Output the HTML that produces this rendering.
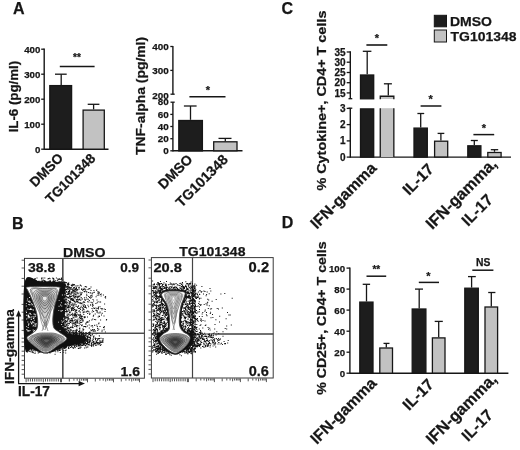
<!DOCTYPE html>
<html><head><meta charset="utf-8"><style>
html,body{margin:0;padding:0;background:#fff;}
svg{display:block;filter:blur(0.35px);}
text{font-family:"Liberation Sans",sans-serif;font-weight:bold;fill:#161616;stroke:#161616;stroke-width:0.25px;}
</style></head><body>
<svg width="520" height="450" viewBox="0 0 520 450">
<rect width="520" height="450" fill="#fff"/>
<text x="13" y="14.4" font-size="16">A</text>
<text x="11.9" y="228.7" font-size="16">B</text>
<text x="281.6" y="14" font-size="16">C</text>
<text x="281.8" y="228.4" font-size="16">D</text>
<line x1="44.2" y1="48.6" x2="44.2" y2="149.8" stroke="#161616" stroke-width="1.4"/>
<line x1="41.2" y1="49.2" x2="44.2" y2="49.2" stroke="#161616" stroke-width="1.3"/>
<text x="40.3" y="52.6" font-size="9.7" text-anchor="end">400</text>
<line x1="41.2" y1="74.2" x2="44.2" y2="74.2" stroke="#161616" stroke-width="1.3"/>
<text x="40.3" y="77.6" font-size="9.7" text-anchor="end">300</text>
<line x1="41.2" y1="99.2" x2="44.2" y2="99.2" stroke="#161616" stroke-width="1.3"/>
<text x="40.3" y="102.6" font-size="9.7" text-anchor="end">200</text>
<line x1="41.2" y1="124.2" x2="44.2" y2="124.2" stroke="#161616" stroke-width="1.3"/>
<text x="40.3" y="127.6" font-size="9.7" text-anchor="end">100</text>
<line x1="41.2" y1="149.2" x2="44.2" y2="149.2" stroke="#161616" stroke-width="1.3"/>
<text x="40.3" y="152.6" font-size="9.7" text-anchor="end">0</text>
<line x1="44.2" y1="149.2" x2="108.5" y2="149.2" stroke="#161616" stroke-width="1.4"/>
<rect x="49.8" y="85.6" width="21.8" height="63.6" fill="#1d1d1d" stroke="#161616" stroke-width="1.3"/>
<line x1="61.2" y1="74.2" x2="61.2" y2="84.9" stroke="#161616" stroke-width="1.3"/>
<line x1="55" y1="74.2" x2="66.7" y2="74.2" stroke="#161616" stroke-width="1.3"/>
<rect x="83.1" y="110.1" width="21.2" height="39.1" fill="#c2c2c2" stroke="#161616" stroke-width="1.3"/>
<line x1="93.6" y1="104.3" x2="93.6" y2="109.4" stroke="#161616" stroke-width="1.3"/>
<line x1="87.7" y1="104.3" x2="99.4" y2="104.3" stroke="#161616" stroke-width="1.3"/>
<line x1="59.8" y1="66.4" x2="94.6" y2="66.4" stroke="#161616" stroke-width="1.5"/>
<text x="77" y="60.8" font-size="10" text-anchor="middle">**</text>
<text x="17.6" y="96.6" font-size="12.8" text-anchor="middle" transform="rotate(-90 17.6 96.6)" textLength="71.5" lengthAdjust="spacingAndGlyphs">IL-6 (pg/ml)</text>
<text x="64.1" y="158.9" font-size="13.6" text-anchor="end" transform="rotate(-45 64.1 158.9)">DMSO</text>
<text x="96.2" y="159.1" font-size="13.5" text-anchor="end" transform="rotate(-45 96.2 159.1)">TG101348</text>
<line x1="172.9" y1="46" x2="172.9" y2="94.2" stroke="#161616" stroke-width="1.4"/>
<line x1="170.5" y1="94.2" x2="174.7" y2="94.2" stroke="#161616" stroke-width="1.3"/>
<line x1="172.9" y1="102.2" x2="172.9" y2="151.4" stroke="#161616" stroke-width="1.4"/>
<line x1="170.5" y1="102.2" x2="174.7" y2="102.2" stroke="#161616" stroke-width="1.3"/>
<line x1="170.3" y1="46.5" x2="172.9" y2="46.5" stroke="#161616" stroke-width="1.3"/>
<text x="168.7" y="50" font-size="9.9" text-anchor="end">400</text>
<line x1="170.3" y1="70.4" x2="172.9" y2="70.4" stroke="#161616" stroke-width="1.3"/>
<text x="168.7" y="73.9" font-size="9.9" text-anchor="end">300</text>
<text x="168.7" y="98.6" font-size="9.9" text-anchor="end">200</text>
<text x="168.7" y="105.4" font-size="9.9" text-anchor="end">80</text>
<line x1="170.3" y1="114.4" x2="172.9" y2="114.4" stroke="#161616" stroke-width="1.3"/>
<text x="168.7" y="117.9" font-size="9.9" text-anchor="end">60</text>
<line x1="170.3" y1="126.5" x2="172.9" y2="126.5" stroke="#161616" stroke-width="1.3"/>
<text x="168.7" y="130" font-size="9.9" text-anchor="end">40</text>
<line x1="170.3" y1="138.7" x2="172.9" y2="138.7" stroke="#161616" stroke-width="1.3"/>
<text x="168.7" y="142.2" font-size="9.9" text-anchor="end">20</text>
<line x1="170.3" y1="150.8" x2="172.9" y2="150.8" stroke="#161616" stroke-width="1.3"/>
<text x="168.7" y="154.3" font-size="9.9" text-anchor="end">0</text>
<line x1="172.9" y1="150.8" x2="242.5" y2="150.8" stroke="#161616" stroke-width="1.4"/>
<rect x="178.8" y="120.5" width="23.6" height="30.4" fill="#1d1d1d" stroke="#161616" stroke-width="1.3"/>
<line x1="190.5" y1="106" x2="190.5" y2="119.8" stroke="#161616" stroke-width="1.3"/>
<line x1="183.9" y1="106" x2="196.6" y2="106" stroke="#161616" stroke-width="1.3"/>
<rect x="213.7" y="141.8" width="23.3" height="9" fill="#c2c2c2" stroke="#161616" stroke-width="1.3"/>
<line x1="225.3" y1="138.4" x2="225.3" y2="141.2" stroke="#161616" stroke-width="1.3"/>
<line x1="218.5" y1="138.4" x2="231.5" y2="138.4" stroke="#161616" stroke-width="1.3"/>
<line x1="189.4" y1="96.7" x2="225.5" y2="96.7" stroke="#161616" stroke-width="1.5"/>
<text x="208" y="93.6" font-size="11" text-anchor="middle">*</text>
<text x="145.1" y="95.9" font-size="12.6" text-anchor="middle" transform="rotate(-90 145.1 95.9)" textLength="118" lengthAdjust="spacingAndGlyphs">TNF-alpha (pg/ml)</text>
<text x="193.5" y="160.3" font-size="14.0" text-anchor="end" transform="rotate(-45 193.5 160.3)">DMSO</text>
<text x="228.8" y="160.5" font-size="14.2" text-anchor="end" transform="rotate(-45 228.8 160.5)">TG101348</text>
<line x1="350.3" y1="51.2" x2="350.3" y2="98.7" stroke="#161616" stroke-width="1.4"/>
<line x1="348.5" y1="98.7" x2="352.3" y2="98.7" stroke="#161616" stroke-width="1.3"/>
<line x1="350.3" y1="108.2" x2="350.3" y2="157.7" stroke="#161616" stroke-width="1.4"/>
<line x1="348.5" y1="108.2" x2="352.3" y2="108.2" stroke="#161616" stroke-width="1.3"/>
<line x1="346.7" y1="52" x2="350.3" y2="52" stroke="#161616" stroke-width="1.3"/>
<text x="345.5" y="55.6" font-size="10" text-anchor="end">35</text>
<line x1="346.7" y1="62.2" x2="350.3" y2="62.2" stroke="#161616" stroke-width="1.3"/>
<text x="345.5" y="65.8" font-size="10" text-anchor="end">30</text>
<line x1="346.7" y1="72.5" x2="350.3" y2="72.5" stroke="#161616" stroke-width="1.3"/>
<text x="345.5" y="76" font-size="10" text-anchor="end">25</text>
<line x1="346.7" y1="82.7" x2="350.3" y2="82.7" stroke="#161616" stroke-width="1.3"/>
<text x="345.5" y="86.2" font-size="10" text-anchor="end">20</text>
<line x1="346.7" y1="92.9" x2="350.3" y2="92.9" stroke="#161616" stroke-width="1.3"/>
<text x="345.5" y="96.5" font-size="10" text-anchor="end">15</text>
<line x1="346.7" y1="108.4" x2="350.3" y2="108.4" stroke="#161616" stroke-width="1.3"/>
<text x="345.5" y="112" font-size="10" text-anchor="end">3</text>
<line x1="346.7" y1="124.6" x2="350.3" y2="124.6" stroke="#161616" stroke-width="1.3"/>
<text x="345.5" y="128.2" font-size="10" text-anchor="end">2</text>
<line x1="346.7" y1="140.9" x2="350.3" y2="140.9" stroke="#161616" stroke-width="1.3"/>
<text x="345.5" y="144.4" font-size="10" text-anchor="end">1</text>
<line x1="346.7" y1="157.1" x2="350.3" y2="157.1" stroke="#161616" stroke-width="1.3"/>
<text x="345.5" y="160.7" font-size="10" text-anchor="end">0</text>
<line x1="350.3" y1="157.1" x2="511" y2="157.1" stroke="#161616" stroke-width="1.4"/>
<rect x="360.5" y="75" width="13.2" height="23.8" fill="#1d1d1d" stroke="#161616" stroke-width="1.3"/>
<rect x="360.5" y="108.9" width="13.2" height="48.2" fill="#1d1d1d" stroke="#161616" stroke-width="1.3"/>
<line x1="367.2" y1="51.3" x2="367.2" y2="74.3" stroke="#161616" stroke-width="1.3"/>
<line x1="362.8" y1="51.3" x2="371.4" y2="51.3" stroke="#161616" stroke-width="1.3"/>
<rect x="380.2" y="96.2" width="13.7" height="2.8" fill="#c2c2c2"/>
<path d="M380.25 99.2V96.25H393.85V99.2" fill="none" stroke="#161616" stroke-width="1.3"/>
<rect x="380.2" y="108.2" width="13.7" height="48.9" fill="#c2c2c2"/>
<path d="M380.25 108.2V157.1M393.85 108.2V157.1" fill="none" stroke="#161616" stroke-width="1.3"/>
<line x1="388.3" y1="83.8" x2="388.3" y2="95.6" stroke="#161616" stroke-width="1.3"/>
<line x1="383.9" y1="83.8" x2="391.9" y2="83.8" stroke="#161616" stroke-width="1.3"/>
<line x1="366.4" y1="45" x2="387.3" y2="45" stroke="#161616" stroke-width="1.6"/>
<text x="376.8" y="42" font-size="11" text-anchor="middle">*</text>
<rect x="414" y="128.1" width="13.3" height="29" fill="#1d1d1d" stroke="#161616" stroke-width="1.3"/>
<line x1="420.7" y1="113.5" x2="420.7" y2="127.4" stroke="#161616" stroke-width="1.3"/>
<line x1="417.4" y1="113.5" x2="424.2" y2="113.5" stroke="#161616" stroke-width="1.3"/>
<rect x="434.6" y="141.2" width="13.1" height="15.8" fill="#c2c2c2" stroke="#161616" stroke-width="1.3"/>
<line x1="440.9" y1="133.4" x2="440.9" y2="140.6" stroke="#161616" stroke-width="1.3"/>
<line x1="437.6" y1="133.4" x2="444.3" y2="133.4" stroke="#161616" stroke-width="1.3"/>
<line x1="420.6" y1="106" x2="441.4" y2="106" stroke="#161616" stroke-width="1.5"/>
<text x="430.6" y="103" font-size="11" text-anchor="middle">*</text>
<rect x="467.8" y="145.8" width="13.1" height="11.3" fill="#1d1d1d" stroke="#161616" stroke-width="1.3"/>
<line x1="474.3" y1="140.5" x2="474.3" y2="145.1" stroke="#161616" stroke-width="1.3"/>
<line x1="470.8" y1="140.5" x2="477.8" y2="140.5" stroke="#161616" stroke-width="1.3"/>
<rect x="487.8" y="152.5" width="13.3" height="4.6" fill="#c2c2c2" stroke="#161616" stroke-width="1.3"/>
<line x1="494.5" y1="149.7" x2="494.5" y2="151.8" stroke="#161616" stroke-width="1.3"/>
<line x1="490.8" y1="149.7" x2="498.2" y2="149.7" stroke="#161616" stroke-width="1.3"/>
<line x1="473.4" y1="134.6" x2="494.2" y2="134.6" stroke="#161616" stroke-width="1.5"/>
<text x="483.8" y="132" font-size="11" text-anchor="middle">*</text>
<text x="325.8" y="100.6" font-size="13" text-anchor="middle" transform="rotate(-90 325.8 100.6)" textLength="180" lengthAdjust="spacingAndGlyphs">% Cytokine+, CD4+ T cells</text>
<text x="377.5" y="169" font-size="15.8" text-anchor="end" transform="rotate(-45 377.5 169)">IFN-gamma</text>
<text x="434.8" y="170.1" font-size="15.7" text-anchor="end" transform="rotate(-45 434.8 170.1)">IL-17</text>
<text x="497.9" y="164.8" font-size="16.2" text-anchor="end" transform="rotate(-45 497.9 164.8)">IFN-gamma,</text>
<text x="494" y="200.9" font-size="15.8" text-anchor="end" transform="rotate(-45 494 200.9)">IL-17</text>
<rect x="434.3" y="15.3" width="12.2" height="11.5" fill="#1d1d1d" stroke="#161616" stroke-width="1"/>
<rect x="434.3" y="30" width="12.2" height="12" fill="#c2c2c2" stroke="#161616" stroke-width="1"/>
<text x="449.9" y="25.9" font-size="13.4" textLength="42" lengthAdjust="spacingAndGlyphs">DMSO</text>
<text x="450.5" y="40.9" font-size="13.6" textLength="66" lengthAdjust="spacingAndGlyphs">TG101348</text>
<line x1="349.9" y1="267.4" x2="349.9" y2="373.8" stroke="#161616" stroke-width="1.4"/>
<line x1="346.5" y1="268.1" x2="349.9" y2="268.1" stroke="#161616" stroke-width="1.3"/>
<text x="345.1" y="271.5" font-size="9.7" text-anchor="end">100</text>
<line x1="346.5" y1="289.1" x2="349.9" y2="289.1" stroke="#161616" stroke-width="1.3"/>
<text x="345.1" y="292.6" font-size="9.7" text-anchor="end">80</text>
<line x1="346.5" y1="310.1" x2="349.9" y2="310.1" stroke="#161616" stroke-width="1.3"/>
<text x="345.1" y="313.6" font-size="9.7" text-anchor="end">60</text>
<line x1="346.5" y1="331.2" x2="349.9" y2="331.2" stroke="#161616" stroke-width="1.3"/>
<text x="345.1" y="334.6" font-size="9.7" text-anchor="end">40</text>
<line x1="346.5" y1="352.2" x2="349.9" y2="352.2" stroke="#161616" stroke-width="1.3"/>
<text x="345.1" y="355.6" font-size="9.7" text-anchor="end">20</text>
<line x1="346.5" y1="373.2" x2="349.9" y2="373.2" stroke="#161616" stroke-width="1.3"/>
<text x="345.1" y="376.6" font-size="9.7" text-anchor="end">0</text>
<line x1="349.9" y1="373.2" x2="508.4" y2="373.2" stroke="#161616" stroke-width="1.4"/>
<rect x="359.8" y="302.1" width="13.2" height="71" fill="#1d1d1d" stroke="#161616" stroke-width="1.3"/>
<line x1="366.5" y1="284.3" x2="366.5" y2="301.5" stroke="#161616" stroke-width="1.3"/>
<line x1="362.7" y1="284.3" x2="370.1" y2="284.3" stroke="#161616" stroke-width="1.3"/>
<rect x="379.8" y="348" width="12.7" height="25.2" fill="#c2c2c2" stroke="#161616" stroke-width="1.3"/>
<line x1="386.3" y1="343.4" x2="386.3" y2="347.4" stroke="#161616" stroke-width="1.3"/>
<line x1="383.5" y1="343.4" x2="389.5" y2="343.4" stroke="#161616" stroke-width="1.3"/>
<line x1="366.5" y1="276.2" x2="386.2" y2="276.2" stroke="#161616" stroke-width="1.5"/>
<text x="376.3" y="273" font-size="10" text-anchor="middle">**</text>
<rect x="412.2" y="309" width="13.7" height="64.2" fill="#1d1d1d" stroke="#161616" stroke-width="1.3"/>
<line x1="419.2" y1="289.1" x2="419.2" y2="308.4" stroke="#161616" stroke-width="1.3"/>
<line x1="415" y1="289.1" x2="423" y2="289.1" stroke="#161616" stroke-width="1.3"/>
<rect x="432.4" y="337.9" width="12.6" height="35.2" fill="#c2c2c2" stroke="#161616" stroke-width="1.3"/>
<line x1="438.7" y1="321.4" x2="438.7" y2="337.3" stroke="#161616" stroke-width="1.3"/>
<line x1="434.7" y1="321.4" x2="442.8" y2="321.4" stroke="#161616" stroke-width="1.3"/>
<line x1="418.8" y1="282.4" x2="439" y2="282.4" stroke="#161616" stroke-width="1.5"/>
<text x="428.3" y="280.3" font-size="11" text-anchor="middle">*</text>
<rect x="464.8" y="288.2" width="13.5" height="84.9" fill="#1d1d1d" stroke="#161616" stroke-width="1.3"/>
<line x1="471.6" y1="276.6" x2="471.6" y2="287.6" stroke="#161616" stroke-width="1.3"/>
<line x1="468" y1="276.6" x2="475.8" y2="276.6" stroke="#161616" stroke-width="1.3"/>
<rect x="485" y="307" width="12.6" height="66.2" fill="#c2c2c2" stroke="#161616" stroke-width="1.3"/>
<line x1="491.3" y1="292.5" x2="491.3" y2="306.4" stroke="#161616" stroke-width="1.3"/>
<line x1="488.2" y1="292.5" x2="495.4" y2="292.5" stroke="#161616" stroke-width="1.3"/>
<line x1="472.3" y1="270.2" x2="493.4" y2="270.2" stroke="#161616" stroke-width="1.5"/>
<text x="483.2" y="266.4" font-size="10.3" text-anchor="middle">NS</text>
<text x="326.4" y="318.1" font-size="13" text-anchor="middle" transform="rotate(-90 326.4 318.1)" textLength="153.5" lengthAdjust="spacingAndGlyphs">% CD25+, CD4+ T cells</text>
<text x="377.5" y="384.2" font-size="15.8" text-anchor="end" transform="rotate(-45 377.5 384.2)">IFN-gamma</text>
<text x="434.8" y="385.3" font-size="15.7" text-anchor="end" transform="rotate(-45 434.8 385.3)">IL-17</text>
<text x="497.9" y="380" font-size="16.2" text-anchor="end" transform="rotate(-45 497.9 380)">IFN-gamma,</text>
<text x="494" y="416.1" font-size="15.8" text-anchor="end" transform="rotate(-45 494 416.1)">IL-17</text>
<rect x="24.5" y="258.4" width="119.9" height="119.8" fill="none" stroke="#3a3a3a" stroke-width="1"/>
<path d="M26.1 378.7v3.6M28.2 378.7v2.8M30.4 378.7v2.8M32.5 378.7v2.8M34.7 378.7v2.8M36.9 378.7v2.8M39 378.7v2.8M41.1 378.7v2.8M43.3 378.7v3.6M45.5 378.7v2.8M47.6 378.7v2.8M49.8 378.7v2.8M51.9 378.7v2.8M54 378.7v2.8M56.2 378.7v2.8M58.4 378.7v2.8M60.5 378.7v3.6M61.5 378.7v3.6M69.3 378.7v2.8M73.9 378.7v2M77.2 378.7v2M79.7 378.7v2.8M81.7 378.7v2M83.5 378.7v2M85 378.7v2M86.3 378.7v2M87.5 378.7v3.6M95.3 378.7v2.8M99.9 378.7v2M103.2 378.7v2M105.7 378.7v2.8M107.7 378.7v2M109.5 378.7v2M111 378.7v2M112.3 378.7v2M113.5 378.7v3.6M121.3 378.7v2.8M125.9 378.7v2M129.2 378.7v2M131.7 378.7v2.8M133.7 378.7v2M135.5 378.7v2M137 378.7v2M138.3 378.7v2M139.5 378.7v3.6" stroke="#2a2a2a" stroke-width="0.8" fill="none"/>
<path d="M24 374.2h-2.4M24 369.6h-2.4M24 365h-2.4M24 360.4h-2.4M24 355.8h-2.4M24 351.2h-2.4M24 346.6h-2.4M24 342h-2.4M24 338.2h-2.4M24 330.4h-2.4M24 320h-2.4M24 312.2h-2.4M24 304.4h-2.4M24 294h-2.4M24 286.2h-2.4M24 278.4h-2.4M24 268h-2.4M24 260.2h-2.4" stroke="#2a2a2a" stroke-width="0.8" fill="none"/>
<line x1="62.8" y1="258.4" x2="62.8" y2="378.2" stroke="#444" stroke-width="1.1"/>
<line x1="24.5" y1="333.3" x2="144.4" y2="333.3" stroke="#444" stroke-width="1.1"/>
<path d="M24.8 282C27.3 271.1 35 281.6 40 281.6C45 281.6 51.1 281.8 55 282C58.9 282.2 61.8 281.7 63.5 283C65.2 284.3 65.2 285.5 65.5 290C65.8 294.5 65 303.2 65 310C65 316.8 63.8 326.9 65.5 331C67.2 335.1 71.9 333.7 75 334.5C78.1 335.3 82.2 335.1 84 336C85.8 336.9 86.3 338.6 86 339.8C85.7 341.1 84.7 342.6 82 343.5C79.3 344.4 73.7 344.6 70 345.5C66.3 346.4 64 347.7 60 349C56 350.3 50.7 353.5 46 353.5C41.3 353.5 35.5 350.1 32 349C28.5 347.9 26 358.2 24.8 347C23.6 335.8 22.3 292.9 24.8 282Z" fill="#111"/>
<path d="M66.5 324.3h1.0v1.0h-1.0zM94.7 313.5h1.0v1.0h-1.0zM62.8 308.6h1.0v1.0h-1.0zM71.5 292.5h1.0v1.0h-1.0zM72.5 330.0h1.0v1.0h-1.0zM70.9 310.3h1.0v1.0h-1.0zM71.5 320.0h1.0v1.0h-1.0zM78.4 295.6h1.0v1.0h-1.0zM66.5 311.6h1.0v1.0h-1.0zM92.2 302.6h1.0v1.0h-1.0zM63.9 332.9h1.0v1.0h-1.0zM91.8 295.4h1.0v1.0h-1.0zM76.0 330.4h1.0v1.0h-1.0zM62.8 294.1h1.0v1.0h-1.0zM65.0 288.9h1.0v1.0h-1.0zM96.6 311.7h1.0v1.0h-1.0zM97.0 332.9h1.0v1.0h-1.0zM84.0 325.9h1.0v1.0h-1.0zM91.2 296.7h1.0v1.0h-1.0zM70.5 304.2h1.0v1.0h-1.0zM63.6 327.9h1.0v1.0h-1.0zM73.9 286.9h1.0v1.0h-1.0zM101.6 329.7h1.0v1.0h-1.0zM63.4 324.3h1.0v1.0h-1.0zM87.2 312.9h1.0v1.0h-1.0zM75.5 305.5h1.0v1.0h-1.0zM85.8 296.8h1.0v1.0h-1.0zM92.9 330.8h1.0v1.0h-1.0zM73.4 317.5h1.0v1.0h-1.0zM79.8 313.7h1.0v1.0h-1.0zM88.5 287.9h1.0v1.0h-1.0zM98.3 293.5h1.0v1.0h-1.0zM62.9 290.3h1.0v1.0h-1.0zM96.3 289.6h1.0v1.0h-1.0zM87.7 310.8h1.0v1.0h-1.0zM65.1 332.3h1.0v1.0h-1.0zM62.7 318.3h1.0v1.0h-1.0zM82.3 289.9h1.0v1.0h-1.0zM63.1 313.5h1.0v1.0h-1.0zM74.8 301.5h1.0v1.0h-1.0zM71.8 300.0h1.0v1.0h-1.0zM64.3 331.1h1.0v1.0h-1.0zM64.1 287.8h1.0v1.0h-1.0zM65.7 329.7h1.0v1.0h-1.0zM85.9 333.5h1.0v1.0h-1.0zM84.8 290.4h1.0v1.0h-1.0zM98.7 292.4h1.0v1.0h-1.0zM64.0 282.4h1.0v1.0h-1.0zM83.3 313.9h1.0v1.0h-1.0zM80.7 305.8h1.0v1.0h-1.0zM66.9 328.0h1.0v1.0h-1.0zM66.2 310.6h1.0v1.0h-1.0zM65.8 290.9h1.0v1.0h-1.0zM66.1 296.0h1.0v1.0h-1.0zM96.7 294.8h1.0v1.0h-1.0zM67.9 318.7h1.0v1.0h-1.0zM72.2 302.8h1.0v1.0h-1.0zM91.2 329.9h1.0v1.0h-1.0zM67.4 289.3h1.0v1.0h-1.0zM73.2 289.4h1.0v1.0h-1.0zM70.6 321.4h1.0v1.0h-1.0zM86.1 291.4h1.0v1.0h-1.0zM62.5 305.5h1.0v1.0h-1.0zM69.9 287.8h1.0v1.0h-1.0zM62.1 325.0h1.0v1.0h-1.0zM82.8 330.3h1.0v1.0h-1.0zM77.6 296.4h1.0v1.0h-1.0zM80.0 317.5h1.0v1.0h-1.0zM103.5 315.6h1.0v1.0h-1.0zM80.9 318.8h1.0v1.0h-1.0zM90.2 304.7h1.0v1.0h-1.0zM81.6 316.3h1.0v1.0h-1.0zM72.0 320.0h1.0v1.0h-1.0zM78.6 325.3h1.0v1.0h-1.0zM73.3 287.8h1.0v1.0h-1.0zM78.6 302.1h1.0v1.0h-1.0zM62.9 297.5h1.0v1.0h-1.0zM93.4 290.1h1.0v1.0h-1.0zM78.5 331.0h1.0v1.0h-1.0zM68.8 329.6h1.0v1.0h-1.0zM76.4 329.2h1.0v1.0h-1.0zM90.7 325.5h1.0v1.0h-1.0zM75.2 310.8h1.0v1.0h-1.0zM69.2 332.7h1.0v1.0h-1.0zM65.5 286.0h1.0v1.0h-1.0zM87.1 301.2h1.0v1.0h-1.0zM77.3 301.1h1.0v1.0h-1.0zM90.3 329.6h1.0v1.0h-1.0zM77.0 297.2h1.0v1.0h-1.0zM79.8 311.8h1.0v1.0h-1.0zM63.6 329.3h1.0v1.0h-1.0zM72.1 314.4h1.0v1.0h-1.0zM65.9 291.5h1.0v1.0h-1.0zM64.3 312.6h1.0v1.0h-1.0zM74.5 324.0h1.0v1.0h-1.0zM76.3 321.3h1.0v1.0h-1.0zM76.0 309.7h1.0v1.0h-1.0zM88.0 332.3h1.0v1.0h-1.0zM71.0 287.5h1.0v1.0h-1.0zM75.1 323.7h1.0v1.0h-1.0zM70.6 293.3h1.0v1.0h-1.0zM65.1 302.0h1.0v1.0h-1.0zM72.8 333.4h1.0v1.0h-1.0zM69.1 301.0h1.0v1.0h-1.0zM72.8 298.5h1.0v1.0h-1.0zM89.5 288.2h1.0v1.0h-1.0zM72.7 305.2h1.0v1.0h-1.0zM65.6 317.7h1.0v1.0h-1.0zM69.7 331.5h1.0v1.0h-1.0zM63.0 297.0h1.0v1.0h-1.0zM66.2 328.4h1.0v1.0h-1.0zM100.5 308.1h1.0v1.0h-1.0zM81.7 292.3h1.0v1.0h-1.0zM69.5 312.3h1.0v1.0h-1.0zM68.8 318.6h1.0v1.0h-1.0zM73.3 295.4h1.0v1.0h-1.0zM73.7 314.4h1.0v1.0h-1.0zM83.4 301.0h1.0v1.0h-1.0zM76.0 287.9h1.0v1.0h-1.0zM74.0 284.2h1.0v1.0h-1.0zM63.2 300.9h1.0v1.0h-1.0zM65.1 301.6h1.0v1.0h-1.0zM78.3 293.2h1.0v1.0h-1.0zM75.1 316.4h1.0v1.0h-1.0zM82.5 302.3h1.0v1.0h-1.0zM73.4 317.1h1.0v1.0h-1.0zM62.0 309.5h1.0v1.0h-1.0zM79.3 328.6h1.0v1.0h-1.0zM68.3 282.5h1.0v1.0h-1.0zM67.1 318.5h1.0v1.0h-1.0zM64.7 293.2h1.0v1.0h-1.0zM74.6 319.1h1.0v1.0h-1.0zM68.0 297.5h1.0v1.0h-1.0zM69.3 288.8h1.0v1.0h-1.0zM68.0 297.1h1.0v1.0h-1.0zM80.3 293.5h1.0v1.0h-1.0zM65.2 329.0h1.0v1.0h-1.0zM65.9 289.2h1.0v1.0h-1.0zM67.9 283.2h1.0v1.0h-1.0zM62.6 308.5h1.0v1.0h-1.0zM82.1 318.5h1.0v1.0h-1.0zM73.4 300.8h1.0v1.0h-1.0zM78.7 320.5h1.0v1.0h-1.0zM70.9 284.9h1.0v1.0h-1.0zM79.5 303.1h1.0v1.0h-1.0zM88.9 332.3h1.0v1.0h-1.0zM69.4 314.5h1.0v1.0h-1.0zM87.2 310.8h1.0v1.0h-1.0zM65.2 327.7h1.0v1.0h-1.0zM74.5 324.2h1.0v1.0h-1.0zM88.8 327.5h1.0v1.0h-1.0zM76.0 315.0h1.0v1.0h-1.0zM92.9 329.5h1.0v1.0h-1.0zM95.4 303.1h1.0v1.0h-1.0zM85.3 286.2h1.0v1.0h-1.0zM79.3 318.4h1.0v1.0h-1.0zM65.2 302.5h1.0v1.0h-1.0zM74.6 302.6h1.0v1.0h-1.0zM66.4 299.4h1.0v1.0h-1.0zM65.3 304.9h1.0v1.0h-1.0zM72.5 299.7h1.0v1.0h-1.0zM81.7 320.5h1.0v1.0h-1.0zM98.5 322.5h1.0v1.0h-1.0zM67.6 323.2h1.0v1.0h-1.0zM68.5 283.9h1.0v1.0h-1.0zM76.7 322.5h1.0v1.0h-1.0zM69.7 333.3h1.0v1.0h-1.0zM63.4 285.2h1.0v1.0h-1.0zM64.3 302.3h1.0v1.0h-1.0zM77.0 320.4h1.0v1.0h-1.0zM64.5 325.8h1.0v1.0h-1.0zM73.1 284.6h1.0v1.0h-1.0zM77.7 306.1h1.0v1.0h-1.0zM99.5 306.3h1.0v1.0h-1.0zM82.3 333.1h1.0v1.0h-1.0zM64.7 284.2h1.0v1.0h-1.0zM75.5 323.6h1.0v1.0h-1.0zM64.8 321.8h1.0v1.0h-1.0zM99.6 311.5h1.0v1.0h-1.0zM95.3 309.7h1.0v1.0h-1.0zM68.2 327.9h1.0v1.0h-1.0zM63.6 303.2h1.0v1.0h-1.0zM67.3 320.6h1.0v1.0h-1.0zM65.2 325.2h1.0v1.0h-1.0zM84.8 306.3h1.0v1.0h-1.0zM63.0 309.1h1.0v1.0h-1.0zM76.7 293.2h1.0v1.0h-1.0zM100.8 293.6h1.0v1.0h-1.0zM73.7 304.4h1.0v1.0h-1.0zM67.1 310.7h1.0v1.0h-1.0zM65.1 316.3h1.0v1.0h-1.0zM71.2 308.5h1.0v1.0h-1.0zM82.9 306.2h1.0v1.0h-1.0zM104.9 331.4h1.0v1.0h-1.0zM62.0 282.8h1.0v1.0h-1.0zM78.8 298.4h1.0v1.0h-1.0zM70.8 287.4h1.0v1.0h-1.0zM73.9 315.6h1.0v1.0h-1.0zM71.2 292.0h1.0v1.0h-1.0zM101.5 309.2h1.0v1.0h-1.0zM62.7 306.9h1.0v1.0h-1.0zM65.3 330.2h1.0v1.0h-1.0zM84.7 299.8h1.0v1.0h-1.0zM75.7 331.6h1.0v1.0h-1.0zM71.2 298.5h1.0v1.0h-1.0zM77.3 289.2h1.0v1.0h-1.0zM66.1 291.5h1.0v1.0h-1.0zM100.1 301.4h1.0v1.0h-1.0zM85.3 289.2h1.0v1.0h-1.0zM70.5 319.5h1.0v1.0h-1.0zM62.1 306.8h1.0v1.0h-1.0zM66.5 306.9h1.0v1.0h-1.0zM65.2 316.4h1.0v1.0h-1.0zM63.1 288.0h1.0v1.0h-1.0zM88.1 306.3h1.0v1.0h-1.0zM65.5 281.9h1.0v1.0h-1.0zM82.7 301.8h1.0v1.0h-1.0zM85.7 332.7h1.0v1.0h-1.0zM65.6 294.1h1.0v1.0h-1.0zM64.3 318.8h1.0v1.0h-1.0zM64.7 305.5h1.0v1.0h-1.0zM65.6 300.9h1.0v1.0h-1.0zM62.8 302.3h1.0v1.0h-1.0zM75.0 313.4h1.0v1.0h-1.0zM79.6 321.5h1.0v1.0h-1.0zM79.9 309.1h1.0v1.0h-1.0zM80.7 315.8h1.0v1.0h-1.0zM74.5 289.0h1.0v1.0h-1.0zM78.9 328.2h1.0v1.0h-1.0zM73.3 299.4h1.0v1.0h-1.0zM65.1 326.1h1.0v1.0h-1.0zM63.0 318.0h1.0v1.0h-1.0zM78.1 305.2h1.0v1.0h-1.0zM74.4 295.4h1.0v1.0h-1.0zM62.8 296.4h1.0v1.0h-1.0zM63.1 295.9h1.0v1.0h-1.0zM62.7 287.3h1.0v1.0h-1.0zM91.6 311.6h1.0v1.0h-1.0zM62.9 291.3h1.0v1.0h-1.0zM67.1 314.7h1.0v1.0h-1.0zM69.0 290.3h1.0v1.0h-1.0zM81.1 325.1h1.0v1.0h-1.0zM71.3 292.3h1.0v1.0h-1.0zM97.9 306.6h1.0v1.0h-1.0zM80.6 297.5h1.0v1.0h-1.0zM91.6 330.2h1.0v1.0h-1.0zM90.3 292.4h1.0v1.0h-1.0zM63.7 289.6h1.0v1.0h-1.0zM100.1 319.5h1.0v1.0h-1.0zM63.9 285.3h1.0v1.0h-1.0zM71.6 285.3h1.0v1.0h-1.0zM88.8 300.0h1.0v1.0h-1.0zM71.7 297.8h1.0v1.0h-1.0zM89.1 331.6h1.0v1.0h-1.0zM97.3 329.9h1.0v1.0h-1.0zM69.2 301.6h1.0v1.0h-1.0zM68.6 322.7h1.0v1.0h-1.0zM80.3 317.9h1.0v1.0h-1.0zM62.1 297.4h1.0v1.0h-1.0zM95.7 333.2h1.0v1.0h-1.0zM63.5 288.1h1.0v1.0h-1.0zM62.5 305.7h1.0v1.0h-1.0zM64.9 286.4h1.0v1.0h-1.0zM69.5 287.4h1.0v1.0h-1.0zM86.1 286.4h1.0v1.0h-1.0zM72.4 315.0h1.0v1.0h-1.0zM67.9 284.4h1.0v1.0h-1.0zM80.2 299.7h1.0v1.0h-1.0zM74.6 296.7h1.0v1.0h-1.0zM80.9 285.6h1.0v1.0h-1.0zM93.9 329.0h1.0v1.0h-1.0zM74.7 321.5h1.0v1.0h-1.0zM72.1 295.3h1.0v1.0h-1.0zM75.9 319.8h1.0v1.0h-1.0zM71.6 285.7h1.0v1.0h-1.0zM101.6 312.8h1.0v1.0h-1.0zM63.7 302.6h1.0v1.0h-1.0zM66.9 284.2h1.0v1.0h-1.0zM62.1 309.7h1.0v1.0h-1.0zM82.7 308.2h1.0v1.0h-1.0zM67.3 286.7h1.0v1.0h-1.0zM88.6 311.6h1.0v1.0h-1.0zM78.3 310.7h1.0v1.0h-1.0zM64.3 300.7h1.0v1.0h-1.0zM63.6 283.5h1.0v1.0h-1.0zM77.8 299.6h1.0v1.0h-1.0zM81.1 288.9h1.0v1.0h-1.0zM62.8 321.9h1.0v1.0h-1.0zM98.2 323.3h1.0v1.0h-1.0zM91.8 324.9h1.0v1.0h-1.0zM74.3 320.0h1.0v1.0h-1.0zM90.3 295.3h1.0v1.0h-1.0zM80.9 294.1h1.0v1.0h-1.0zM76.8 295.7h1.0v1.0h-1.0zM63.5 305.9h1.0v1.0h-1.0zM103.0 327.1h1.0v1.0h-1.0zM80.8 332.1h1.0v1.0h-1.0zM75.7 316.6h1.0v1.0h-1.0zM73.4 292.7h1.0v1.0h-1.0zM78.2 314.8h1.0v1.0h-1.0zM103.8 325.9h1.0v1.0h-1.0zM65.1 319.9h1.0v1.0h-1.0zM80.4 314.8h1.0v1.0h-1.0zM96.0 309.7h1.0v1.0h-1.0zM62.2 301.3h1.0v1.0h-1.0zM73.3 291.4h1.0v1.0h-1.0zM63.0 327.6h1.0v1.0h-1.0zM62.6 297.2h1.0v1.0h-1.0zM65.3 298.6h1.0v1.0h-1.0zM64.8 286.3h1.0v1.0h-1.0zM75.0 291.2h1.0v1.0h-1.0zM66.5 311.6h1.0v1.0h-1.0zM67.0 332.1h1.0v1.0h-1.0zM97.9 308.5h1.0v1.0h-1.0zM63.4 318.2h1.0v1.0h-1.0zM82.7 308.4h1.0v1.0h-1.0zM76.4 328.8h1.0v1.0h-1.0zM62.1 333.0h1.0v1.0h-1.0zM73.7 291.4h1.0v1.0h-1.0zM63.4 306.6h1.0v1.0h-1.0zM80.4 332.3h1.0v1.0h-1.0zM64.5 318.3h1.0v1.0h-1.0zM65.3 295.5h1.0v1.0h-1.0zM92.8 315.8h1.0v1.0h-1.0zM62.2 310.0h1.0v1.0h-1.0zM73.2 290.1h1.0v1.0h-1.0zM76.1 310.0h1.0v1.0h-1.0zM96.7 302.3h1.0v1.0h-1.0zM66.2 324.0h1.0v1.0h-1.0zM68.8 286.5h1.0v1.0h-1.0zM68.9 296.0h1.0v1.0h-1.0zM64.8 321.8h1.0v1.0h-1.0zM90.5 301.8h1.0v1.0h-1.0zM66.0 302.8h1.0v1.0h-1.0zM91.6 293.5h1.0v1.0h-1.0zM72.3 290.5h1.0v1.0h-1.0zM76.5 321.5h1.0v1.0h-1.0zM74.9 315.2h1.0v1.0h-1.0zM69.1 321.3h1.0v1.0h-1.0zM98.0 291.6h1.0v1.0h-1.0zM89.6 292.2h1.0v1.0h-1.0zM66.3 291.8h1.0v1.0h-1.0zM72.2 289.8h1.0v1.0h-1.0zM93.1 300.5h1.0v1.0h-1.0zM62.9 312.1h1.0v1.0h-1.0zM66.5 316.8h1.0v1.0h-1.0zM70.3 307.6h1.0v1.0h-1.0zM70.3 328.8h1.0v1.0h-1.0zM70.2 298.9h1.0v1.0h-1.0zM86.4 295.1h1.0v1.0h-1.0zM73.6 303.5h1.0v1.0h-1.0zM83.8 317.3h1.0v1.0h-1.0zM102.9 294.4h1.0v1.0h-1.0zM63.0 288.3h1.0v1.0h-1.0zM64.7 296.6h1.0v1.0h-1.0zM67.5 330.8h1.0v1.0h-1.0zM75.7 311.9h1.0v1.0h-1.0zM87.5 288.9h1.0v1.0h-1.0zM66.2 309.4h1.0v1.0h-1.0zM75.2 322.0h1.0v1.0h-1.0zM74.4 322.7h1.0v1.0h-1.0zM68.4 307.4h1.0v1.0h-1.0zM74.7 301.6h1.0v1.0h-1.0zM67.3 306.6h1.0v1.0h-1.0zM67.9 291.4h1.0v1.0h-1.0zM85.8 332.3h1.0v1.0h-1.0zM70.9 307.2h1.0v1.0h-1.0zM76.5 316.3h1.0v1.0h-1.0zM79.6 311.5h1.0v1.0h-1.0zM74.7 285.6h1.0v1.0h-1.0zM76.3 329.3h1.0v1.0h-1.0zM69.8 300.6h1.0v1.0h-1.0zM78.7 299.3h1.0v1.0h-1.0zM82.7 312.2h1.0v1.0h-1.0zM62.4 321.2h1.0v1.0h-1.0zM73.8 313.6h1.0v1.0h-1.0zM77.5 332.6h1.0v1.0h-1.0zM70.9 296.0h1.0v1.0h-1.0zM76.3 285.4h1.0v1.0h-1.0zM88.2 321.4h1.0v1.0h-1.0zM66.7 319.8h1.0v1.0h-1.0zM69.0 306.5h1.0v1.0h-1.0zM81.5 325.3h1.0v1.0h-1.0zM83.6 309.2h1.0v1.0h-1.0zM92.1 305.7h1.0v1.0h-1.0zM64.1 295.5h1.0v1.0h-1.0zM79.2 315.7h1.0v1.0h-1.0zM64.8 292.6h1.0v1.0h-1.0zM82.6 289.0h1.0v1.0h-1.0zM101.7 307.9h1.0v1.0h-1.0zM71.0 332.3h1.0v1.0h-1.0zM87.4 304.8h1.0v1.0h-1.0zM75.3 289.4h1.0v1.0h-1.0zM64.1 315.2h1.0v1.0h-1.0zM74.6 332.3h1.0v1.0h-1.0zM99.4 312.6h1.0v1.0h-1.0zM93.1 314.7h1.0v1.0h-1.0zM80.2 320.0h1.0v1.0h-1.0zM93.5 291.9h1.0v1.0h-1.0zM72.3 321.0h1.0v1.0h-1.0zM63.8 288.0h1.0v1.0h-1.0zM100.1 294.0h1.0v1.0h-1.0zM63.4 312.7h1.0v1.0h-1.0zM83.9 291.1h1.0v1.0h-1.0zM65.2 294.7h1.0v1.0h-1.0zM76.9 325.1h1.0v1.0h-1.0zM62.7 304.3h1.0v1.0h-1.0zM63.4 312.9h1.0v1.0h-1.0zM88.1 296.0h1.0v1.0h-1.0zM69.8 306.1h1.0v1.0h-1.0zM75.3 314.1h1.0v1.0h-1.0zM78.9 317.0h1.0v1.0h-1.0zM66.6 322.5h1.0v1.0h-1.0zM70.5 287.0h1.0v1.0h-1.0zM64.4 321.5h1.0v1.0h-1.0zM67.2 330.7h1.0v1.0h-1.0zM65.8 302.7h1.0v1.0h-1.0zM65.5 286.7h1.0v1.0h-1.0zM77.6 318.4h1.0v1.0h-1.0zM76.5 314.2h1.0v1.0h-1.0zM71.3 289.0h1.0v1.0h-1.0zM92.2 292.4h1.0v1.0h-1.0zM66.2 282.2h1.0v1.0h-1.0zM62.3 300.5h1.0v1.0h-1.0zM62.9 304.1h1.0v1.0h-1.0zM62.1 290.7h1.0v1.0h-1.0zM66.6 313.5h1.0v1.0h-1.0zM98.3 294.7h1.0v1.0h-1.0zM70.7 293.5h1.0v1.0h-1.0zM78.1 287.3h1.0v1.0h-1.0zM96.3 324.6h1.0v1.0h-1.0zM88.7 324.4h1.0v1.0h-1.0zM65.1 283.6h1.0v1.0h-1.0zM91.3 319.6h1.0v1.0h-1.0zM66.5 296.6h1.0v1.0h-1.0zM78.7 288.5h1.0v1.0h-1.0zM68.9 303.5h1.0v1.0h-1.0zM68.3 294.0h1.0v1.0h-1.0zM64.9 322.2h1.0v1.0h-1.0zM67.9 313.8h1.0v1.0h-1.0zM72.5 320.3h1.0v1.0h-1.0zM72.6 289.8h1.0v1.0h-1.0zM85.6 311.6h1.0v1.0h-1.0zM82.5 319.6h1.0v1.0h-1.0zM64.0 292.3h1.0v1.0h-1.0zM103.7 327.2h1.0v1.0h-1.0zM63.4 297.9h1.0v1.0h-1.0zM62.3 298.6h1.0v1.0h-1.0zM70.7 326.5h1.0v1.0h-1.0zM84.0 291.3h1.0v1.0h-1.0zM93.8 291.7h1.0v1.0h-1.0zM99.0 316.1h1.0v1.0h-1.0zM62.1 333.2h1.0v1.0h-1.0zM100.6 295.4h1.0v1.0h-1.0zM83.4 311.4h1.0v1.0h-1.0zM97.3 291.2h1.0v1.0h-1.0zM66.5 301.8h1.0v1.0h-1.0zM67.3 329.5h1.0v1.0h-1.0zM83.5 287.8h1.0v1.0h-1.0zM76.8 321.5h1.0v1.0h-1.0zM67.1 296.8h1.0v1.0h-1.0zM92.6 305.0h1.0v1.0h-1.0zM72.4 313.8h1.0v1.0h-1.0zM67.1 283.2h1.0v1.0h-1.0zM66.5 297.4h1.0v1.0h-1.0zM85.4 323.8h1.0v1.0h-1.0zM79.7 323.7h1.0v1.0h-1.0zM66.4 285.6h1.0v1.0h-1.0zM62.9 308.1h1.0v1.0h-1.0zM67.8 285.8h1.0v1.0h-1.0zM85.8 291.2h1.0v1.0h-1.0zM97.1 327.7h1.0v1.0h-1.0zM62.6 296.9h1.0v1.0h-1.0zM94.5 330.0h1.0v1.0h-1.0zM70.0 329.8h1.0v1.0h-1.0zM84.2 302.1h1.0v1.0h-1.0zM63.7 328.8h1.0v1.0h-1.0zM91.6 302.2h1.0v1.0h-1.0zM63.8 288.1h1.0v1.0h-1.0zM65.5 305.3h1.0v1.0h-1.0zM96.0 289.8h1.0v1.0h-1.0zM75.6 332.3h1.0v1.0h-1.0zM88.6 288.3h1.0v1.0h-1.0zM74.5 311.6h1.0v1.0h-1.0zM92.9 307.4h1.0v1.0h-1.0zM89.3 333.5h1.0v1.0h-1.0zM97.7 316.4h1.0v1.0h-1.0zM70.4 295.7h1.0v1.0h-1.0zM84.6 317.1h1.0v1.0h-1.0zM85.4 333.4h1.0v1.0h-1.0zM74.6 314.5h1.0v1.0h-1.0zM84.1 311.4h1.0v1.0h-1.0zM65.3 308.8h1.0v1.0h-1.0zM72.6 331.8h1.0v1.0h-1.0zM72.5 327.2h1.0v1.0h-1.0zM89.4 313.1h1.0v1.0h-1.0zM67.7 304.7h1.0v1.0h-1.0zM97.4 307.9h1.0v1.0h-1.0zM73.8 322.5h1.0v1.0h-1.0zM71.9 292.3h1.0v1.0h-1.0zM63.9 312.3h1.0v1.0h-1.0zM62.9 285.0h1.0v1.0h-1.0zM90.2 331.8h1.0v1.0h-1.0zM78.5 296.3h1.0v1.0h-1.0zM97.2 328.2h1.0v1.0h-1.0zM65.6 308.2h1.0v1.0h-1.0zM75.5 303.9h1.0v1.0h-1.0zM65.8 299.5h1.0v1.0h-1.0zM76.6 319.5h1.0v1.0h-1.0zM98.6 315.6h1.0v1.0h-1.0zM70.9 309.6h1.0v1.0h-1.0zM68.1 330.1h1.0v1.0h-1.0zM82.1 309.8h1.0v1.0h-1.0zM76.6 300.4h1.0v1.0h-1.0zM64.0 291.0h1.0v1.0h-1.0zM92.5 298.9h1.0v1.0h-1.0zM79.1 307.9h1.0v1.0h-1.0zM82.6 330.2h1.0v1.0h-1.0zM90.7 295.1h1.0v1.0h-1.0zM76.4 289.6h1.0v1.0h-1.0zM70.4 320.4h1.0v1.0h-1.0zM63.8 315.9h1.0v1.0h-1.0zM80.7 296.9h1.0v1.0h-1.0zM68.7 296.6h1.0v1.0h-1.0zM88.3 301.6h1.0v1.0h-1.0zM80.3 302.1h1.0v1.0h-1.0zM68.6 332.3h1.0v1.0h-1.0zM73.6 304.2h1.0v1.0h-1.0zM96.5 299.6h1.0v1.0h-1.0zM64.0 325.3h1.0v1.0h-1.0zM63.9 283.8h1.0v1.0h-1.0zM70.8 295.6h1.0v1.0h-1.0zM104.1 303.4h1.0v1.0h-1.0zM75.3 323.5h1.0v1.0h-1.0zM72.4 316.6h1.0v1.0h-1.0zM74.2 322.6h1.0v1.0h-1.0zM84.3 307.1h1.0v1.0h-1.0zM69.7 288.9h1.0v1.0h-1.0zM90.5 286.4h1.0v1.0h-1.0zM70.8 284.5h1.0v1.0h-1.0zM104.9 309.1h1.0v1.0h-1.0zM79.8 314.4h1.0v1.0h-1.0zM63.4 317.2h1.0v1.0h-1.0zM72.5 290.8h1.0v1.0h-1.0zM64.3 333.1h1.0v1.0h-1.0zM90.1 304.2h1.0v1.0h-1.0zM64.3 289.2h1.0v1.0h-1.0zM70.4 302.5h1.0v1.0h-1.0zM67.3 288.7h1.0v1.0h-1.0zM75.6 294.6h1.0v1.0h-1.0zM97.9 307.5h1.0v1.0h-1.0zM79.1 333.2h1.0v1.0h-1.0zM82.8 308.8h1.0v1.0h-1.0zM77.0 297.4h1.0v1.0h-1.0zM79.6 291.8h1.0v1.0h-1.0zM62.9 295.1h1.0v1.0h-1.0zM63.0 291.0h1.0v1.0h-1.0zM89.2 314.1h1.0v1.0h-1.0zM63.0 288.0h1.0v1.0h-1.0zM68.8 290.5h1.0v1.0h-1.0zM70.2 314.7h1.0v1.0h-1.0zM71.6 322.8h1.0v1.0h-1.0zM70.9 318.0h1.0v1.0h-1.0zM75.3 330.1h1.0v1.0h-1.0zM70.9 314.1h1.0v1.0h-1.0zM79.8 284.6h1.0v1.0h-1.0zM85.0 305.3h1.0v1.0h-1.0zM73.9 289.4h1.0v1.0h-1.0zM83.9 304.3h1.0v1.0h-1.0zM64.2 295.1h1.0v1.0h-1.0zM75.7 306.0h1.0v1.0h-1.0zM67.4 286.2h1.0v1.0h-1.0zM75.1 296.1h1.0v1.0h-1.0zM79.7 307.5h1.0v1.0h-1.0zM67.8 305.8h1.0v1.0h-1.0zM68.0 300.3h1.0v1.0h-1.0zM71.4 291.2h1.0v1.0h-1.0zM105.1 296.0h1.0v1.0h-1.0zM73.0 287.2h1.0v1.0h-1.0zM63.2 285.7h1.0v1.0h-1.0zM68.5 287.5h1.0v1.0h-1.0zM65.9 304.7h1.0v1.0h-1.0zM85.5 333.7h1.0v1.0h-1.0zM65.6 331.7h1.0v1.0h-1.0zM62.1 316.2h1.0v1.0h-1.0zM97.4 292.7h1.0v1.0h-1.0zM68.0 283.7h1.0v1.0h-1.0zM86.2 293.8h1.0v1.0h-1.0zM77.1 322.4h1.0v1.0h-1.0zM66.3 328.8h1.0v1.0h-1.0zM70.7 318.2h1.0v1.0h-1.0zM92.3 303.9h1.0v1.0h-1.0zM63.3 316.4h1.0v1.0h-1.0zM72.9 310.1h1.0v1.0h-1.0zM65.1 306.5h1.0v1.0h-1.0zM96.7 310.2h1.0v1.0h-1.0zM103.7 308.6h1.0v1.0h-1.0zM95.6 296.3h1.0v1.0h-1.0zM97.7 312.5h1.0v1.0h-1.0zM62.8 309.1h1.0v1.0h-1.0zM70.0 327.1h1.0v1.0h-1.0zM64.6 281.8h1.0v1.0h-1.0zM98.7 291.8h1.0v1.0h-1.0zM106.1 318.9h1.0v1.0h-1.0zM69.8 311.6h1.0v1.0h-1.0zM65.6 321.3h1.0v1.0h-1.0zM67.6 306.9h1.0v1.0h-1.0zM65.9 311.4h1.0v1.0h-1.0zM89.0 297.1h1.0v1.0h-1.0zM63.1 287.4h1.0v1.0h-1.0zM64.3 305.1h1.0v1.0h-1.0zM72.4 298.7h1.0v1.0h-1.0zM78.1 296.0h1.0v1.0h-1.0zM66.9 301.8h1.0v1.0h-1.0zM65.2 324.5h1.0v1.0h-1.0zM74.3 326.0h1.0v1.0h-1.0zM74.5 309.4h1.0v1.0h-1.0zM62.8 285.3h1.0v1.0h-1.0zM74.8 289.5h1.0v1.0h-1.0zM77.9 307.9h1.0v1.0h-1.0zM82.2 328.6h1.0v1.0h-1.0zM66.5 316.4h1.0v1.0h-1.0zM70.9 329.8h1.0v1.0h-1.0zM62.8 283.7h1.0v1.0h-1.0zM71.6 327.1h1.0v1.0h-1.0zM66.1 324.7h1.0v1.0h-1.0zM76.5 299.1h1.0v1.0h-1.0zM66.3 326.5h1.0v1.0h-1.0zM67.3 316.9h1.0v1.0h-1.0zM86.3 322.0h1.0v1.0h-1.0zM77.5 299.3h1.0v1.0h-1.0zM66.5 314.8h1.0v1.0h-1.0zM73.1 291.6h1.0v1.0h-1.0zM67.1 326.4h1.0v1.0h-1.0zM72.6 322.3h1.0v1.0h-1.0zM85.4 322.7h1.0v1.0h-1.0zM86.4 298.7h1.0v1.0h-1.0zM74.7 325.4h1.0v1.0h-1.0zM76.6 312.5h1.0v1.0h-1.0zM64.4 309.1h1.0v1.0h-1.0zM63.9 329.9h1.0v1.0h-1.0zM72.9 332.9h1.0v1.0h-1.0zM74.6 313.0h1.0v1.0h-1.0zM85.0 325.9h1.0v1.0h-1.0zM75.8 287.0h1.0v1.0h-1.0zM64.1 316.5h1.0v1.0h-1.0zM82.6 311.6h1.0v1.0h-1.0zM99.5 326.1h1.0v1.0h-1.0zM76.1 326.0h1.0v1.0h-1.0zM62.5 285.6h1.0v1.0h-1.0zM81.8 309.7h1.0v1.0h-1.0zM64.9 289.7h1.0v1.0h-1.0zM87.0 316.6h1.0v1.0h-1.0zM81.8 315.8h1.0v1.0h-1.0zM69.2 290.9h1.0v1.0h-1.0zM69.8 296.0h1.0v1.0h-1.0zM78.7 295.6h1.0v1.0h-1.0zM80.3 294.6h1.0v1.0h-1.0zM77.1 307.1h1.0v1.0h-1.0zM77.5 296.8h1.0v1.0h-1.0zM62.8 299.3h1.0v1.0h-1.0zM79.3 330.3h1.0v1.0h-1.0zM70.9 309.8h1.0v1.0h-1.0zM101.5 331.2h1.0v1.0h-1.0zM72.2 288.5h1.0v1.0h-1.0zM70.5 293.7h1.0v1.0h-1.0zM72.6 284.7h1.0v1.0h-1.0zM78.9 286.8h1.0v1.0h-1.0zM64.2 320.4h1.0v1.0h-1.0zM73.6 330.3h1.0v1.0h-1.0zM67.2 316.6h1.0v1.0h-1.0zM75.9 296.5h1.0v1.0h-1.0zM74.5 297.7h1.0v1.0h-1.0zM63.3 324.1h1.0v1.0h-1.0zM74.0 308.9h1.0v1.0h-1.0zM73.8 314.1h1.0v1.0h-1.0zM62.4 313.6h1.0v1.0h-1.0zM72.3 314.4h1.0v1.0h-1.0zM85.0 299.5h1.0v1.0h-1.0zM68.4 313.4h1.0v1.0h-1.0zM78.1 299.4h1.0v1.0h-1.0zM75.7 289.3h1.0v1.0h-1.0zM66.1 286.7h1.0v1.0h-1.0zM63.1 314.7h1.0v1.0h-1.0zM71.5 299.8h1.0v1.0h-1.0zM86.8 310.5h1.0v1.0h-1.0zM74.4 293.5h1.0v1.0h-1.0zM68.2 306.3h1.0v1.0h-1.0zM67.8 288.7h1.0v1.0h-1.0zM75.7 332.4h1.0v1.0h-1.0zM67.2 327.0h1.0v1.0h-1.0zM65.6 316.4h1.0v1.0h-1.0zM69.4 289.6h1.0v1.0h-1.0zM79.4 295.6h1.0v1.0h-1.0zM63.3 288.5h1.0v1.0h-1.0zM80.2 317.9h1.0v1.0h-1.0zM65.1 330.1h1.0v1.0h-1.0zM85.1 307.0h1.0v1.0h-1.0zM67.9 291.1h1.0v1.0h-1.0zM79.4 331.5h1.0v1.0h-1.0zM72.3 307.5h1.0v1.0h-1.0zM69.3 311.6h1.0v1.0h-1.0zM82.4 307.8h1.0v1.0h-1.0zM63.8 306.1h1.0v1.0h-1.0zM65.8 298.9h1.0v1.0h-1.0zM70.7 304.7h1.0v1.0h-1.0zM69.0 312.0h1.0v1.0h-1.0zM68.3 308.9h1.0v1.0h-1.0zM83.3 305.9h1.0v1.0h-1.0zM74.7 287.9h1.0v1.0h-1.0zM77.5 285.2h1.0v1.0h-1.0zM73.7 306.8h1.0v1.0h-1.0zM101.0 314.6h1.0v1.0h-1.0zM73.8 293.5h1.0v1.0h-1.0zM73.1 294.6h1.0v1.0h-1.0zM72.4 324.9h1.0v1.0h-1.0zM76.5 326.5h1.0v1.0h-1.0zM68.6 310.1h1.0v1.0h-1.0zM64.8 306.3h1.0v1.0h-1.0zM68.3 318.2h1.0v1.0h-1.0zM82.4 304.5h1.0v1.0h-1.0zM72.2 283.8h1.0v1.0h-1.0zM71.8 318.2h1.0v1.0h-1.0zM72.6 307.7h1.0v1.0h-1.0zM82.9 308.6h1.0v1.0h-1.0zM79.0 299.0h1.0v1.0h-1.0zM75.7 299.3h1.0v1.0h-1.0zM68.1 307.3h1.0v1.0h-1.0zM63.1 324.9h1.0v1.0h-1.0zM67.0 294.0h1.0v1.0h-1.0zM62.8 324.5h1.0v1.0h-1.0zM70.6 291.7h1.0v1.0h-1.0zM70.4 326.6h1.0v1.0h-1.0zM68.3 327.2h1.0v1.0h-1.0zM86.0 307.6h1.0v1.0h-1.0zM63.0 312.3h1.0v1.0h-1.0zM65.5 316.7h1.0v1.0h-1.0zM92.3 318.5h1.0v1.0h-1.0zM81.3 303.0h1.0v1.0h-1.0zM66.0 330.9h1.0v1.0h-1.0zM96.6 310.8h1.0v1.0h-1.0zM68.0 282.5h1.0v1.0h-1.0zM65.1 306.7h1.0v1.0h-1.0zM83.2 328.9h1.0v1.0h-1.0zM80.9 292.6h1.0v1.0h-1.0zM69.5 320.1h1.0v1.0h-1.0zM80.2 322.1h1.0v1.0h-1.0zM68.3 322.8h1.0v1.0h-1.0zM64.5 309.2h1.0v1.0h-1.0zM94.1 319.0h1.0v1.0h-1.0zM62.3 295.3h1.0v1.0h-1.0zM72.4 319.9h1.0v1.0h-1.0zM73.3 307.7h1.0v1.0h-1.0zM64.5 299.9h1.0v1.0h-1.0zM64.4 296.5h1.0v1.0h-1.0zM94.2 324.9h1.0v1.0h-1.0zM71.7 309.7h1.0v1.0h-1.0zM71.3 298.0h1.0v1.0h-1.0zM62.2 294.9h1.0v1.0h-1.0zM70.9 298.0h1.0v1.0h-1.0zM99.4 301.6h1.0v1.0h-1.0zM78.8 330.9h1.0v1.0h-1.0zM81.3 321.9h1.0v1.0h-1.0zM69.1 302.8h1.0v1.0h-1.0zM73.3 322.9h1.0v1.0h-1.0zM85.3 326.1h1.0v1.0h-1.0zM64.5 309.1h1.0v1.0h-1.0zM63.9 285.1h1.0v1.0h-1.0zM64.5 295.4h1.0v1.0h-1.0zM74.2 333.1h1.0v1.0h-1.0zM64.4 311.2h1.0v1.0h-1.0zM67.6 292.6h1.0v1.0h-1.0zM64.6 321.9h1.0v1.0h-1.0zM66.7 303.8h1.0v1.0h-1.0zM64.8 306.2h1.0v1.0h-1.0zM98.3 328.7h1.0v1.0h-1.0zM105.1 297.5h1.0v1.0h-1.0zM63.9 293.3h1.0v1.0h-1.0zM69.8 297.2h1.0v1.0h-1.0zM69.1 294.8h1.0v1.0h-1.0zM81.6 324.3h1.0v1.0h-1.0zM62.7 296.3h1.0v1.0h-1.0zM67.4 305.2h1.0v1.0h-1.0zM64.7 301.9h1.0v1.0h-1.0zM92.1 329.0h1.0v1.0h-1.0zM71.6 304.3h1.0v1.0h-1.0zM74.2 290.8h1.0v1.0h-1.0zM83.3 305.9h1.0v1.0h-1.0zM65.7 298.8h1.0v1.0h-1.0zM72.1 307.1h1.0v1.0h-1.0zM79.1 314.6h1.0v1.0h-1.0zM64.5 307.7h1.0v1.0h-1.0zM86.7 320.9h1.0v1.0h-1.0zM69.0 286.8h1.0v1.0h-1.0zM75.3 315.2h1.0v1.0h-1.0zM64.2 289.4h1.0v1.0h-1.0zM83.1 326.2h1.0v1.0h-1.0zM94.5 330.9h1.0v1.0h-1.0zM74.9 321.5h1.0v1.0h-1.0zM62.7 295.5h1.0v1.0h-1.0zM64.8 284.8h1.0v1.0h-1.0zM80.6 303.3h1.0v1.0h-1.0zM70.3 301.9h1.0v1.0h-1.0zM71.3 299.3h1.0v1.0h-1.0zM78.5 325.2h1.0v1.0h-1.0zM73.4 284.0h1.0v1.0h-1.0zM72.5 326.9h1.0v1.0h-1.0zM64.6 323.6h1.0v1.0h-1.0zM81.6 318.0h1.0v1.0h-1.0zM62.6 318.6h1.0v1.0h-1.0zM81.4 333.2h1.0v1.0h-1.0zM94.2 324.8h1.0v1.0h-1.0zM79.9 307.2h1.0v1.0h-1.0zM80.4 316.0h1.0v1.0h-1.0zM96.2 307.8h1.0v1.0h-1.0zM68.4 293.0h1.0v1.0h-1.0zM89.0 332.0h1.0v1.0h-1.0zM71.7 308.7h1.0v1.0h-1.0zM62.3 307.3h1.0v1.0h-1.0zM94.6 307.5h1.0v1.0h-1.0zM86.3 291.3h1.0v1.0h-1.0zM65.2 320.3h1.0v1.0h-1.0zM80.9 316.1h1.0v1.0h-1.0zM76.4 290.0h1.0v1.0h-1.0zM83.3 304.8h1.0v1.0h-1.0zM62.0 286.5h1.0v1.0h-1.0zM79.3 333.9h1.0v1.0h-1.0zM77.4 306.1h1.0v1.0h-1.0zM64.2 325.9h1.0v1.0h-1.0zM80.1 293.6h1.0v1.0h-1.0zM89.8 296.5h1.0v1.0h-1.0zM85.3 326.5h1.0v1.0h-1.0zM72.7 299.6h1.0v1.0h-1.0zM66.5 323.8h1.0v1.0h-1.0zM66.0 288.7h1.0v1.0h-1.0zM67.4 293.5h1.0v1.0h-1.0zM68.8 304.7h1.0v1.0h-1.0zM70.5 298.1h1.0v1.0h-1.0zM79.8 285.0h1.0v1.0h-1.0zM63.7 295.3h1.0v1.0h-1.0zM63.5 282.0h1.0v1.0h-1.0zM72.9 284.3h1.0v1.0h-1.0zM67.3 287.8h1.0v1.0h-1.0zM80.8 317.3h1.0v1.0h-1.0zM64.8 284.7h1.0v1.0h-1.0zM72.1 299.9h1.0v1.0h-1.0zM77.4 322.6h1.0v1.0h-1.0zM69.6 296.1h1.0v1.0h-1.0zM63.8 284.7h1.0v1.0h-1.0zM68.9 292.7h1.0v1.0h-1.0zM62.3 286.5h1.0v1.0h-1.0zM87.8 298.8h1.0v1.0h-1.0zM75.4 329.8h1.0v1.0h-1.0zM73.6 300.6h1.0v1.0h-1.0zM68.6 296.5h1.0v1.0h-1.0zM92.1 309.7h1.0v1.0h-1.0zM78.8 322.8h1.0v1.0h-1.0zM73.2 296.6h1.0v1.0h-1.0zM66.3 321.1h1.0v1.0h-1.0zM94.0 308.1h1.0v1.0h-1.0zM64.2 299.8h1.0v1.0h-1.0zM62.7 327.7h1.0v1.0h-1.0zM64.0 307.0h1.0v1.0h-1.0zM66.4 301.7h1.0v1.0h-1.0zM68.5 333.7h1.0v1.0h-1.0zM92.2 326.6h1.0v1.0h-1.0zM75.1 288.8h1.0v1.0h-1.0zM71.9 318.7h1.0v1.0h-1.0zM84.7 286.1h1.0v1.0h-1.0zM83.4 288.9h1.0v1.0h-1.0zM75.1 309.4h1.0v1.0h-1.0zM66.7 307.6h1.0v1.0h-1.0zM64.6 304.4h1.0v1.0h-1.0zM62.7 330.3h1.0v1.0h-1.0zM74.2 297.0h1.0v1.0h-1.0zM67.5 329.5h1.0v1.0h-1.0zM64.4 299.0h1.0v1.0h-1.0zM90.5 289.9h1.0v1.0h-1.0zM63.5 296.4h1.0v1.0h-1.0zM66.2 332.4h1.0v1.0h-1.0zM65.0 284.9h1.0v1.0h-1.0zM84.4 288.4h1.0v1.0h-1.0zM82.0 298.5h1.0v1.0h-1.0zM67.8 291.5h1.0v1.0h-1.0zM62.3 329.2h1.0v1.0h-1.0zM69.1 290.0h1.0v1.0h-1.0zM69.3 287.2h1.0v1.0h-1.0zM81.6 307.0h1.0v1.0h-1.0zM67.6 325.0h1.0v1.0h-1.0zM79.0 330.3h1.0v1.0h-1.0zM73.0 308.5h1.0v1.0h-1.0zM88.9 320.3h1.0v1.0h-1.0zM72.3 331.9h1.0v1.0h-1.0zM75.3 289.3h1.0v1.0h-1.0zM74.2 290.9h1.0v1.0h-1.0zM64.2 282.3h1.0v1.0h-1.0zM76.8 289.0h1.0v1.0h-1.0zM80.5 299.3h1.0v1.0h-1.0zM72.1 326.2h1.0v1.0h-1.0zM73.3 300.1h1.0v1.0h-1.0zM77.3 292.2h1.0v1.0h-1.0zM72.6 305.8h1.0v1.0h-1.0zM88.3 333.9h1.0v1.0h-1.0zM67.1 287.9h1.0v1.0h-1.0zM90.2 297.8h1.0v1.0h-1.0zM105.9 319.6h1.0v1.0h-1.0zM62.6 285.1h1.0v1.0h-1.0zM73.6 332.9h1.0v1.0h-1.0zM75.4 292.5h1.0v1.0h-1.0zM63.3 312.5h1.0v1.0h-1.0zM63.1 287.0h1.0v1.0h-1.0zM76.6 334.0h1.0v1.0h-1.0zM101.8 312.7h1.0v1.0h-1.0zM68.2 283.9h1.0v1.0h-1.0zM63.6 285.0h1.0v1.0h-1.0zM92.0 304.2h1.0v1.0h-1.0zM76.3 309.5h1.0v1.0h-1.0zM79.4 295.5h1.0v1.0h-1.0zM63.8 304.4h1.0v1.0h-1.0zM104.6 296.8h1.0v1.0h-1.0zM103.6 329.2h1.0v1.0h-1.0zM71.8 312.8h1.0v1.0h-1.0zM67.6 317.7h1.0v1.0h-1.0zM62.5 307.6h1.0v1.0h-1.0zM63.8 332.6h1.0v1.0h-1.0zM91.5 308.1h1.0v1.0h-1.0zM64.8 328.8h1.0v1.0h-1.0zM81.3 288.2h1.0v1.0h-1.0zM69.0 291.2h1.0v1.0h-1.0zM63.4 309.1h1.0v1.0h-1.0zM62.8 329.6h1.0v1.0h-1.0zM65.0 316.6h1.0v1.0h-1.0zM62.0 293.3h1.0v1.0h-1.0zM96.8 325.9h1.0v1.0h-1.0zM70.0 322.1h1.0v1.0h-1.0zM69.2 302.4h1.0v1.0h-1.0zM75.3 321.2h1.0v1.0h-1.0zM63.7 297.4h1.0v1.0h-1.0zM86.9 325.4h1.0v1.0h-1.0zM68.9 291.6h1.0v1.0h-1.0zM76.3 291.5h1.0v1.0h-1.0zM71.0 298.1h1.0v1.0h-1.0zM68.3 310.6h1.0v1.0h-1.0zM67.6 302.6h1.0v1.0h-1.0zM82.8 332.1h1.0v1.0h-1.0zM82.7 328.5h1.0v1.0h-1.0zM63.3 300.1h1.0v1.0h-1.0zM83.9 297.3h1.0v1.0h-1.0zM69.0 327.8h1.0v1.0h-1.0zM76.3 301.5h1.0v1.0h-1.0zM71.6 308.0h1.0v1.0h-1.0zM86.2 311.3h1.0v1.0h-1.0zM67.6 287.1h1.0v1.0h-1.0zM93.1 311.1h1.0v1.0h-1.0zM72.4 327.1h1.0v1.0h-1.0zM66.2 296.2h1.0v1.0h-1.0zM63.1 296.8h1.0v1.0h-1.0zM63.0 290.2h1.0v1.0h-1.0zM71.1 308.1h1.0v1.0h-1.0zM67.8 316.8h1.0v1.0h-1.0zM62.2 298.9h1.0v1.0h-1.0zM97.6 301.3h1.0v1.0h-1.0zM63.3 302.6h1.0v1.0h-1.0zM69.2 297.7h1.0v1.0h-1.0zM86.5 298.4h1.0v1.0h-1.0zM62.1 324.0h1.0v1.0h-1.0zM72.3 323.8h1.0v1.0h-1.0zM72.5 304.4h1.0v1.0h-1.0zM67.1 285.9h1.0v1.0h-1.0zM74.1 301.1h1.0v1.0h-1.0zM83.6 291.1h1.0v1.0h-1.0zM70.0 300.8h1.0v1.0h-1.0zM63.7 302.6h1.0v1.0h-1.0zM65.2 311.1h1.0v1.0h-1.0zM65.3 317.5h1.0v1.0h-1.0zM82.7 320.5h1.0v1.0h-1.0zM70.7 332.2h1.0v1.0h-1.0zM75.6 310.6h1.0v1.0h-1.0zM84.6 316.3h1.0v1.0h-1.0zM69.0 323.2h1.0v1.0h-1.0zM63.7 301.7h1.0v1.0h-1.0zM65.8 306.0h1.0v1.0h-1.0zM69.9 293.6h1.0v1.0h-1.0zM68.2 307.1h1.0v1.0h-1.0zM84.2 298.7h1.0v1.0h-1.0zM69.0 292.8h1.0v1.0h-1.0zM87.9 292.0h1.0v1.0h-1.0zM95.2 319.3h1.0v1.0h-1.0zM68.4 315.5h1.0v1.0h-1.0zM75.3 293.9h1.0v1.0h-1.0zM68.9 332.0h1.0v1.0h-1.0zM63.9 302.0h1.0v1.0h-1.0zM83.6 316.3h1.0v1.0h-1.0zM72.7 331.4h1.0v1.0h-1.0zM73.9 315.6h1.0v1.0h-1.0zM72.8 299.6h1.0v1.0h-1.0zM77.5 302.3h1.0v1.0h-1.0zM75.9 300.5h1.0v1.0h-1.0zM79.3 327.4h1.0v1.0h-1.0zM78.9 310.3h1.0v1.0h-1.0zM87.0 321.7h1.0v1.0h-1.0zM76.1 325.0h1.0v1.0h-1.0zM63.9 307.8h1.0v1.0h-1.0zM76.6 330.1h1.0v1.0h-1.0zM81.4 330.7h1.0v1.0h-1.0zM104.5 311.0h1.0v1.0h-1.0zM62.7 311.2h1.0v1.0h-1.0zM63.0 327.5h1.0v1.0h-1.0zM71.9 284.8h1.0v1.0h-1.0zM62.1 294.4h1.0v1.0h-1.0zM77.8 314.2h1.0v1.0h-1.0z" fill="#111"/>
<path d="M91.0 343.1h1.0v1.0h-1.0zM64.8 338.6h1.0v1.0h-1.0zM67.6 340.1h1.0v1.0h-1.0zM86.7 338.7h1.0v1.0h-1.0zM66.2 342.6h1.0v1.0h-1.0zM69.3 344.8h1.0v1.0h-1.0zM65.9 339.2h1.0v1.0h-1.0zM78.2 340.8h1.0v1.0h-1.0zM98.8 335.3h1.0v1.0h-1.0zM79.1 342.8h1.0v1.0h-1.0zM81.7 342.7h1.0v1.0h-1.0zM61.8 335.5h1.0v1.0h-1.0zM70.4 339.3h1.0v1.0h-1.0zM76.7 339.5h1.0v1.0h-1.0zM83.7 340.7h1.0v1.0h-1.0zM88.4 343.9h1.0v1.0h-1.0zM83.9 342.2h1.0v1.0h-1.0zM75.1 342.6h1.0v1.0h-1.0zM74.5 347.3h1.0v1.0h-1.0zM71.3 336.2h1.0v1.0h-1.0zM81.2 342.6h1.0v1.0h-1.0zM93.4 341.1h1.0v1.0h-1.0zM75.5 331.8h1.0v1.0h-1.0zM72.8 337.8h1.0v1.0h-1.0zM79.1 338.5h1.0v1.0h-1.0zM73.9 345.2h1.0v1.0h-1.0zM79.0 347.6h1.0v1.0h-1.0zM62.5 340.8h1.0v1.0h-1.0zM69.8 336.7h1.0v1.0h-1.0zM101.2 341.9h1.0v1.0h-1.0zM102.2 341.8h1.0v1.0h-1.0zM75.7 332.3h1.0v1.0h-1.0zM71.8 331.3h1.0v1.0h-1.0zM81.0 338.9h1.0v1.0h-1.0zM64.8 340.5h1.0v1.0h-1.0zM93.7 342.4h1.0v1.0h-1.0zM75.7 333.5h1.0v1.0h-1.0zM90.7 343.6h1.0v1.0h-1.0zM61.5 346.0h1.0v1.0h-1.0zM69.6 338.2h1.0v1.0h-1.0zM61.7 341.7h1.0v1.0h-1.0zM85.1 342.1h1.0v1.0h-1.0zM68.2 333.9h1.0v1.0h-1.0zM98.1 343.4h1.0v1.0h-1.0zM63.0 339.9h1.0v1.0h-1.0zM66.4 340.2h1.0v1.0h-1.0zM62.6 346.7h1.0v1.0h-1.0zM88.6 337.0h1.0v1.0h-1.0zM87.1 340.8h1.0v1.0h-1.0zM69.1 344.3h1.0v1.0h-1.0zM66.1 336.0h1.0v1.0h-1.0zM83.0 343.4h1.0v1.0h-1.0zM73.9 345.4h1.0v1.0h-1.0zM65.9 338.1h1.0v1.0h-1.0zM78.9 337.2h1.0v1.0h-1.0zM81.8 338.9h1.0v1.0h-1.0zM71.2 346.6h1.0v1.0h-1.0zM65.6 345.6h1.0v1.0h-1.0zM62.9 336.8h1.0v1.0h-1.0zM65.5 332.2h1.0v1.0h-1.0zM60.2 339.1h1.0v1.0h-1.0zM81.1 333.9h1.0v1.0h-1.0zM87.2 341.9h1.0v1.0h-1.0zM75.1 334.5h1.0v1.0h-1.0zM70.8 344.5h1.0v1.0h-1.0zM79.5 340.0h1.0v1.0h-1.0zM65.9 346.1h1.0v1.0h-1.0zM60.2 334.2h1.0v1.0h-1.0zM65.6 341.9h1.0v1.0h-1.0zM80.9 341.6h1.0v1.0h-1.0zM68.8 336.7h1.0v1.0h-1.0zM87.7 341.9h1.0v1.0h-1.0zM83.9 337.5h1.0v1.0h-1.0zM86.4 339.9h1.0v1.0h-1.0zM75.5 340.9h1.0v1.0h-1.0zM81.2 341.7h1.0v1.0h-1.0zM77.7 345.4h1.0v1.0h-1.0zM95.9 342.1h1.0v1.0h-1.0zM79.3 343.6h1.0v1.0h-1.0zM86.8 340.2h1.0v1.0h-1.0zM95.0 344.8h1.0v1.0h-1.0zM67.9 347.7h1.0v1.0h-1.0zM84.5 337.5h1.0v1.0h-1.0zM65.3 337.0h1.0v1.0h-1.0zM76.7 335.0h1.0v1.0h-1.0zM88.9 341.8h1.0v1.0h-1.0zM80.5 340.7h1.0v1.0h-1.0zM94.8 338.1h1.0v1.0h-1.0zM60.6 340.9h1.0v1.0h-1.0zM61.1 346.2h1.0v1.0h-1.0zM61.7 333.1h1.0v1.0h-1.0zM91.0 345.1h1.0v1.0h-1.0zM85.2 337.8h1.0v1.0h-1.0zM77.5 344.3h1.0v1.0h-1.0zM84.5 336.4h1.0v1.0h-1.0zM65.9 343.3h1.0v1.0h-1.0zM82.5 344.9h1.0v1.0h-1.0zM102.8 339.5h1.0v1.0h-1.0zM97.1 339.7h1.0v1.0h-1.0zM75.5 335.0h1.0v1.0h-1.0zM81.5 342.1h1.0v1.0h-1.0zM75.1 333.8h1.0v1.0h-1.0zM63.0 346.0h1.0v1.0h-1.0zM98.2 341.9h1.0v1.0h-1.0zM67.3 339.1h1.0v1.0h-1.0zM83.2 335.9h1.0v1.0h-1.0zM62.6 334.8h1.0v1.0h-1.0zM89.9 340.6h1.0v1.0h-1.0zM80.5 332.3h1.0v1.0h-1.0zM84.1 342.7h1.0v1.0h-1.0zM71.1 337.5h1.0v1.0h-1.0zM64.4 343.1h1.0v1.0h-1.0zM64.0 338.0h1.0v1.0h-1.0zM81.7 340.4h1.0v1.0h-1.0zM68.9 337.8h1.0v1.0h-1.0zM79.7 342.3h1.0v1.0h-1.0zM70.0 341.7h1.0v1.0h-1.0zM64.3 338.8h1.0v1.0h-1.0zM76.0 344.5h1.0v1.0h-1.0zM67.8 336.5h1.0v1.0h-1.0zM69.1 344.6h1.0v1.0h-1.0zM69.4 338.6h1.0v1.0h-1.0zM64.4 342.1h1.0v1.0h-1.0zM66.6 337.3h1.0v1.0h-1.0zM87.6 344.5h1.0v1.0h-1.0zM75.2 340.0h1.0v1.0h-1.0zM81.0 337.1h1.0v1.0h-1.0zM69.4 335.7h1.0v1.0h-1.0zM82.3 338.7h1.0v1.0h-1.0zM82.8 342.2h1.0v1.0h-1.0zM82.0 340.9h1.0v1.0h-1.0zM73.2 332.9h1.0v1.0h-1.0zM77.6 340.1h1.0v1.0h-1.0zM78.3 337.7h1.0v1.0h-1.0zM89.8 333.4h1.0v1.0h-1.0zM84.9 342.9h1.0v1.0h-1.0zM87.6 342.2h1.0v1.0h-1.0zM68.8 344.0h1.0v1.0h-1.0zM80.6 344.3h1.0v1.0h-1.0zM62.1 341.6h1.0v1.0h-1.0zM82.9 342.6h1.0v1.0h-1.0zM91.2 346.0h1.0v1.0h-1.0zM63.2 335.5h1.0v1.0h-1.0zM68.2 341.9h1.0v1.0h-1.0zM62.1 342.0h1.0v1.0h-1.0zM98.9 342.5h1.0v1.0h-1.0zM99.4 343.1h1.0v1.0h-1.0zM61.8 344.6h1.0v1.0h-1.0zM68.5 339.0h1.0v1.0h-1.0zM78.8 342.5h1.0v1.0h-1.0zM67.0 339.2h1.0v1.0h-1.0zM75.8 343.4h1.0v1.0h-1.0zM72.2 337.5h1.0v1.0h-1.0zM89.7 337.0h1.0v1.0h-1.0zM60.1 341.9h1.0v1.0h-1.0zM76.2 344.1h1.0v1.0h-1.0zM83.9 338.9h1.0v1.0h-1.0zM86.9 336.0h1.0v1.0h-1.0zM79.1 335.2h1.0v1.0h-1.0zM72.1 334.8h1.0v1.0h-1.0zM100.5 337.8h1.0v1.0h-1.0zM82.6 344.4h1.0v1.0h-1.0zM91.8 340.1h1.0v1.0h-1.0zM65.1 340.6h1.0v1.0h-1.0zM90.0 337.5h1.0v1.0h-1.0zM60.4 333.8h1.0v1.0h-1.0zM65.9 337.3h1.0v1.0h-1.0zM68.3 341.6h1.0v1.0h-1.0zM68.1 333.9h1.0v1.0h-1.0zM71.4 340.5h1.0v1.0h-1.0zM73.6 338.7h1.0v1.0h-1.0zM69.7 344.9h1.0v1.0h-1.0zM72.9 333.8h1.0v1.0h-1.0zM79.4 345.6h1.0v1.0h-1.0zM72.7 342.2h1.0v1.0h-1.0zM73.7 345.1h1.0v1.0h-1.0zM71.1 346.0h1.0v1.0h-1.0zM84.4 337.5h1.0v1.0h-1.0zM64.7 345.4h1.0v1.0h-1.0zM76.7 336.7h1.0v1.0h-1.0zM68.5 337.9h1.0v1.0h-1.0zM91.9 333.5h1.0v1.0h-1.0zM95.4 340.6h1.0v1.0h-1.0zM62.3 342.4h1.0v1.0h-1.0zM86.0 343.1h1.0v1.0h-1.0zM67.3 344.7h1.0v1.0h-1.0zM79.4 339.8h1.0v1.0h-1.0zM71.0 340.5h1.0v1.0h-1.0zM81.4 337.2h1.0v1.0h-1.0zM62.0 332.4h1.0v1.0h-1.0zM67.7 342.2h1.0v1.0h-1.0zM77.8 336.8h1.0v1.0h-1.0zM65.4 338.7h1.0v1.0h-1.0zM63.9 341.5h1.0v1.0h-1.0zM82.8 343.6h1.0v1.0h-1.0zM74.5 331.8h1.0v1.0h-1.0zM82.9 344.3h1.0v1.0h-1.0zM61.6 340.0h1.0v1.0h-1.0zM73.6 340.1h1.0v1.0h-1.0zM75.5 345.3h1.0v1.0h-1.0zM87.4 346.5h1.0v1.0h-1.0zM61.3 344.8h1.0v1.0h-1.0zM82.5 333.2h1.0v1.0h-1.0zM79.7 337.6h1.0v1.0h-1.0zM72.8 339.2h1.0v1.0h-1.0zM95.0 337.7h1.0v1.0h-1.0zM84.2 336.1h1.0v1.0h-1.0zM65.4 341.1h1.0v1.0h-1.0zM67.6 334.2h1.0v1.0h-1.0zM71.3 344.3h1.0v1.0h-1.0zM77.8 347.7h1.0v1.0h-1.0zM72.0 339.2h1.0v1.0h-1.0zM82.9 341.3h1.0v1.0h-1.0zM96.4 338.1h1.0v1.0h-1.0zM82.1 340.2h1.0v1.0h-1.0zM69.0 345.5h1.0v1.0h-1.0zM85.5 334.8h1.0v1.0h-1.0zM81.1 334.8h1.0v1.0h-1.0zM95.0 339.0h1.0v1.0h-1.0zM66.3 338.5h1.0v1.0h-1.0zM80.4 336.7h1.0v1.0h-1.0zM79.4 331.7h1.0v1.0h-1.0zM76.8 336.8h1.0v1.0h-1.0zM68.1 347.0h1.0v1.0h-1.0zM60.8 341.5h1.0v1.0h-1.0zM71.5 341.8h1.0v1.0h-1.0zM69.0 345.5h1.0v1.0h-1.0zM83.9 335.7h1.0v1.0h-1.0zM61.1 341.5h1.0v1.0h-1.0zM76.5 335.5h1.0v1.0h-1.0zM88.6 338.4h1.0v1.0h-1.0zM99.1 338.1h1.0v1.0h-1.0zM69.7 337.5h1.0v1.0h-1.0zM98.9 335.4h1.0v1.0h-1.0zM76.2 336.1h1.0v1.0h-1.0zM63.1 337.4h1.0v1.0h-1.0zM73.0 347.8h1.0v1.0h-1.0zM62.5 343.3h1.0v1.0h-1.0zM79.6 347.8h1.0v1.0h-1.0zM78.9 333.6h1.0v1.0h-1.0zM66.3 345.7h1.0v1.0h-1.0zM68.7 344.4h1.0v1.0h-1.0zM79.7 338.0h1.0v1.0h-1.0zM65.0 333.6h1.0v1.0h-1.0zM61.5 342.2h1.0v1.0h-1.0zM78.7 343.5h1.0v1.0h-1.0zM78.5 335.5h1.0v1.0h-1.0zM61.5 340.2h1.0v1.0h-1.0zM70.1 339.1h1.0v1.0h-1.0zM92.9 344.2h1.0v1.0h-1.0zM80.2 341.9h1.0v1.0h-1.0zM99.9 340.4h1.0v1.0h-1.0zM60.3 338.8h1.0v1.0h-1.0zM62.1 345.8h1.0v1.0h-1.0zM94.6 337.4h1.0v1.0h-1.0zM62.3 347.3h1.0v1.0h-1.0zM70.9 343.8h1.0v1.0h-1.0zM67.8 334.8h1.0v1.0h-1.0zM64.4 334.2h1.0v1.0h-1.0zM87.0 338.3h1.0v1.0h-1.0zM99.0 340.4h1.0v1.0h-1.0zM79.5 338.8h1.0v1.0h-1.0zM80.4 341.6h1.0v1.0h-1.0zM63.6 338.9h1.0v1.0h-1.0zM85.4 345.5h1.0v1.0h-1.0zM70.0 339.7h1.0v1.0h-1.0zM75.4 331.3h1.0v1.0h-1.0zM72.6 338.2h1.0v1.0h-1.0zM96.9 342.4h1.0v1.0h-1.0zM77.8 344.8h1.0v1.0h-1.0zM62.5 340.6h1.0v1.0h-1.0zM69.3 335.3h1.0v1.0h-1.0zM68.7 344.7h1.0v1.0h-1.0zM60.9 340.0h1.0v1.0h-1.0zM72.0 335.6h1.0v1.0h-1.0zM80.4 345.4h1.0v1.0h-1.0zM82.5 344.8h1.0v1.0h-1.0zM82.4 339.6h1.0v1.0h-1.0zM83.6 335.1h1.0v1.0h-1.0zM84.7 336.6h1.0v1.0h-1.0zM60.8 344.7h1.0v1.0h-1.0zM64.3 342.9h1.0v1.0h-1.0zM61.8 342.8h1.0v1.0h-1.0zM87.4 335.3h1.0v1.0h-1.0zM89.0 334.1h1.0v1.0h-1.0zM85.2 340.2h1.0v1.0h-1.0zM98.4 342.0h1.0v1.0h-1.0zM71.7 335.8h1.0v1.0h-1.0zM97.0 341.9h1.0v1.0h-1.0zM60.8 337.9h1.0v1.0h-1.0zM82.7 333.7h1.0v1.0h-1.0zM75.4 343.9h1.0v1.0h-1.0zM71.4 342.4h1.0v1.0h-1.0zM81.1 334.6h1.0v1.0h-1.0zM88.7 341.5h1.0v1.0h-1.0zM73.7 339.2h1.0v1.0h-1.0zM94.1 343.5h1.0v1.0h-1.0zM97.8 338.1h1.0v1.0h-1.0zM98.7 338.2h1.0v1.0h-1.0zM79.5 345.6h1.0v1.0h-1.0zM65.9 341.7h1.0v1.0h-1.0zM62.9 334.4h1.0v1.0h-1.0zM68.9 336.8h1.0v1.0h-1.0zM60.2 338.3h1.0v1.0h-1.0zM73.1 340.3h1.0v1.0h-1.0zM87.7 335.3h1.0v1.0h-1.0zM87.4 336.8h1.0v1.0h-1.0zM64.4 337.1h1.0v1.0h-1.0zM80.3 336.7h1.0v1.0h-1.0zM84.8 341.7h1.0v1.0h-1.0zM61.7 335.8h1.0v1.0h-1.0zM86.8 338.0h1.0v1.0h-1.0zM62.3 336.5h1.0v1.0h-1.0zM77.3 342.4h1.0v1.0h-1.0zM62.3 342.6h1.0v1.0h-1.0zM62.9 331.6h1.0v1.0h-1.0zM75.5 345.3h1.0v1.0h-1.0zM61.6 343.6h1.0v1.0h-1.0zM86.3 340.7h1.0v1.0h-1.0zM75.4 335.1h1.0v1.0h-1.0zM78.7 334.9h1.0v1.0h-1.0zM72.7 332.4h1.0v1.0h-1.0zM80.4 347.0h1.0v1.0h-1.0zM61.6 339.1h1.0v1.0h-1.0zM102.5 338.0h1.0v1.0h-1.0zM88.9 342.0h1.0v1.0h-1.0zM73.4 342.5h1.0v1.0h-1.0zM87.6 344.1h1.0v1.0h-1.0zM83.8 343.7h1.0v1.0h-1.0zM87.0 333.0h1.0v1.0h-1.0zM73.0 344.5h1.0v1.0h-1.0zM74.4 334.4h1.0v1.0h-1.0zM85.4 340.9h1.0v1.0h-1.0zM65.8 340.5h1.0v1.0h-1.0zM82.2 335.5h1.0v1.0h-1.0zM91.4 335.2h1.0v1.0h-1.0zM75.7 342.0h1.0v1.0h-1.0zM88.1 341.5h1.0v1.0h-1.0zM65.0 347.5h1.0v1.0h-1.0zM94.8 342.8h1.0v1.0h-1.0zM67.5 341.4h1.0v1.0h-1.0zM91.7 334.1h1.0v1.0h-1.0zM99.9 342.1h1.0v1.0h-1.0zM74.8 339.7h1.0v1.0h-1.0zM92.8 341.9h1.0v1.0h-1.0zM80.7 341.4h1.0v1.0h-1.0zM62.9 335.9h1.0v1.0h-1.0zM75.4 344.9h1.0v1.0h-1.0zM62.4 333.9h1.0v1.0h-1.0zM71.7 337.3h1.0v1.0h-1.0zM97.3 338.9h1.0v1.0h-1.0zM69.2 336.0h1.0v1.0h-1.0zM97.9 338.2h1.0v1.0h-1.0zM76.2 331.9h1.0v1.0h-1.0zM83.3 343.6h1.0v1.0h-1.0zM96.2 344.8h1.0v1.0h-1.0zM79.9 336.9h1.0v1.0h-1.0zM66.6 344.1h1.0v1.0h-1.0zM84.1 347.5h1.0v1.0h-1.0zM66.1 340.0h1.0v1.0h-1.0zM60.9 341.1h1.0v1.0h-1.0zM61.4 344.0h1.0v1.0h-1.0zM73.1 334.2h1.0v1.0h-1.0zM62.1 342.9h1.0v1.0h-1.0zM78.8 345.0h1.0v1.0h-1.0zM78.3 338.7h1.0v1.0h-1.0zM78.3 341.0h1.0v1.0h-1.0zM60.2 341.7h1.0v1.0h-1.0zM87.0 341.4h1.0v1.0h-1.0zM63.1 333.8h1.0v1.0h-1.0zM79.8 338.6h1.0v1.0h-1.0zM62.8 342.5h1.0v1.0h-1.0zM85.1 344.9h1.0v1.0h-1.0zM86.2 338.3h1.0v1.0h-1.0zM81.5 336.6h1.0v1.0h-1.0zM61.4 339.0h1.0v1.0h-1.0zM92.6 340.9h1.0v1.0h-1.0zM83.1 342.9h1.0v1.0h-1.0zM62.6 336.3h1.0v1.0h-1.0zM82.5 332.4h1.0v1.0h-1.0zM62.3 344.4h1.0v1.0h-1.0zM87.4 339.3h1.0v1.0h-1.0zM78.5 343.1h1.0v1.0h-1.0zM62.6 347.9h1.0v1.0h-1.0zM62.7 335.4h1.0v1.0h-1.0zM91.2 341.8h1.0v1.0h-1.0zM84.3 336.0h1.0v1.0h-1.0zM69.6 344.1h1.0v1.0h-1.0zM65.2 334.6h1.0v1.0h-1.0zM72.1 347.2h1.0v1.0h-1.0zM83.7 336.0h1.0v1.0h-1.0zM79.2 332.5h1.0v1.0h-1.0zM87.0 342.5h1.0v1.0h-1.0zM89.5 345.0h1.0v1.0h-1.0zM80.6 336.2h1.0v1.0h-1.0zM80.7 335.6h1.0v1.0h-1.0zM70.4 342.5h1.0v1.0h-1.0zM78.7 333.8h1.0v1.0h-1.0zM66.9 336.3h1.0v1.0h-1.0zM68.1 340.3h1.0v1.0h-1.0zM68.9 336.2h1.0v1.0h-1.0zM93.1 345.6h1.0v1.0h-1.0zM61.0 343.0h1.0v1.0h-1.0zM78.1 343.8h1.0v1.0h-1.0zM67.5 343.1h1.0v1.0h-1.0zM69.0 334.3h1.0v1.0h-1.0zM61.5 339.4h1.0v1.0h-1.0zM86.7 336.8h1.0v1.0h-1.0zM96.2 341.2h1.0v1.0h-1.0zM92.5 338.5h1.0v1.0h-1.0zM87.1 337.1h1.0v1.0h-1.0zM63.9 344.0h1.0v1.0h-1.0zM81.0 333.4h1.0v1.0h-1.0zM84.7 336.2h1.0v1.0h-1.0zM74.2 341.0h1.0v1.0h-1.0zM81.6 345.1h1.0v1.0h-1.0zM89.1 336.7h1.0v1.0h-1.0zM79.2 345.2h1.0v1.0h-1.0zM73.6 337.8h1.0v1.0h-1.0zM64.1 338.8h1.0v1.0h-1.0zM68.0 343.6h1.0v1.0h-1.0zM75.1 340.5h1.0v1.0h-1.0zM75.2 333.9h1.0v1.0h-1.0zM85.2 340.0h1.0v1.0h-1.0zM96.8 343.6h1.0v1.0h-1.0zM78.2 331.1h1.0v1.0h-1.0zM84.7 335.0h1.0v1.0h-1.0zM68.2 345.8h1.0v1.0h-1.0zM87.9 336.5h1.0v1.0h-1.0zM89.7 337.1h1.0v1.0h-1.0zM64.3 347.3h1.0v1.0h-1.0zM83.5 343.2h1.0v1.0h-1.0zM69.9 339.3h1.0v1.0h-1.0zM75.8 343.5h1.0v1.0h-1.0zM89.7 339.7h1.0v1.0h-1.0zM87.1 343.6h1.0v1.0h-1.0zM62.0 342.0h1.0v1.0h-1.0zM81.0 340.5h1.0v1.0h-1.0zM70.6 343.0h1.0v1.0h-1.0zM75.9 335.9h1.0v1.0h-1.0zM66.5 338.4h1.0v1.0h-1.0zM60.4 335.9h1.0v1.0h-1.0zM84.8 344.8h1.0v1.0h-1.0zM72.1 340.1h1.0v1.0h-1.0zM76.5 333.9h1.0v1.0h-1.0zM91.8 344.6h1.0v1.0h-1.0zM88.9 343.5h1.0v1.0h-1.0zM64.1 347.9h1.0v1.0h-1.0zM93.5 335.5h1.0v1.0h-1.0zM68.4 348.0h1.0v1.0h-1.0zM61.7 337.6h1.0v1.0h-1.0zM67.5 345.3h1.0v1.0h-1.0zM67.9 332.7h1.0v1.0h-1.0zM85.2 332.2h1.0v1.0h-1.0zM92.3 342.3h1.0v1.0h-1.0zM90.0 335.1h1.0v1.0h-1.0zM89.1 340.5h1.0v1.0h-1.0zM71.4 339.2h1.0v1.0h-1.0zM95.2 343.2h1.0v1.0h-1.0zM68.6 331.2h1.0v1.0h-1.0zM70.4 342.7h1.0v1.0h-1.0zM71.6 336.0h1.0v1.0h-1.0zM93.2 340.7h1.0v1.0h-1.0zM89.3 333.4h1.0v1.0h-1.0zM69.2 341.9h1.0v1.0h-1.0zM68.0 336.3h1.0v1.0h-1.0zM101.7 340.3h1.0v1.0h-1.0zM80.4 335.9h1.0v1.0h-1.0zM94.7 342.5h1.0v1.0h-1.0zM69.4 337.1h1.0v1.0h-1.0zM65.6 333.6h1.0v1.0h-1.0zM77.8 338.2h1.0v1.0h-1.0zM87.4 333.2h1.0v1.0h-1.0zM87.4 339.6h1.0v1.0h-1.0zM80.5 334.7h1.0v1.0h-1.0zM71.8 335.9h1.0v1.0h-1.0zM75.2 339.6h1.0v1.0h-1.0zM74.4 342.4h1.0v1.0h-1.0zM69.5 331.2h1.0v1.0h-1.0zM84.7 333.8h1.0v1.0h-1.0zM81.9 334.2h1.0v1.0h-1.0zM86.8 346.6h1.0v1.0h-1.0zM73.7 342.7h1.0v1.0h-1.0zM80.3 340.2h1.0v1.0h-1.0zM65.7 343.2h1.0v1.0h-1.0zM78.2 345.6h1.0v1.0h-1.0zM74.1 333.3h1.0v1.0h-1.0zM69.6 335.5h1.0v1.0h-1.0zM61.0 336.2h1.0v1.0h-1.0zM80.8 331.7h1.0v1.0h-1.0zM66.3 337.5h1.0v1.0h-1.0zM74.3 345.6h1.0v1.0h-1.0zM65.3 336.7h1.0v1.0h-1.0zM95.6 342.5h1.0v1.0h-1.0zM68.2 341.5h1.0v1.0h-1.0zM100.1 344.9h1.0v1.0h-1.0zM75.2 340.6h1.0v1.0h-1.0zM96.2 340.5h1.0v1.0h-1.0zM76.4 335.6h1.0v1.0h-1.0zM60.6 331.2h1.0v1.0h-1.0zM67.0 340.0h1.0v1.0h-1.0zM82.1 336.0h1.0v1.0h-1.0zM84.3 344.7h1.0v1.0h-1.0zM78.5 336.0h1.0v1.0h-1.0zM70.1 333.8h1.0v1.0h-1.0zM77.5 345.2h1.0v1.0h-1.0zM76.6 339.4h1.0v1.0h-1.0zM75.6 341.8h1.0v1.0h-1.0zM77.8 335.0h1.0v1.0h-1.0zM70.5 342.6h1.0v1.0h-1.0zM92.5 344.5h1.0v1.0h-1.0zM73.8 336.8h1.0v1.0h-1.0zM89.4 341.1h1.0v1.0h-1.0zM85.3 339.1h1.0v1.0h-1.0zM64.4 345.0h1.0v1.0h-1.0zM69.7 339.4h1.0v1.0h-1.0zM69.1 333.7h1.0v1.0h-1.0zM73.2 331.7h1.0v1.0h-1.0zM80.5 343.9h1.0v1.0h-1.0zM89.1 340.7h1.0v1.0h-1.0zM83.5 334.2h1.0v1.0h-1.0zM76.8 343.5h1.0v1.0h-1.0zM71.3 341.1h1.0v1.0h-1.0zM68.3 340.7h1.0v1.0h-1.0zM79.1 338.1h1.0v1.0h-1.0zM64.1 339.0h1.0v1.0h-1.0zM70.1 344.6h1.0v1.0h-1.0zM62.7 340.7h1.0v1.0h-1.0zM83.3 335.1h1.0v1.0h-1.0zM63.5 333.8h1.0v1.0h-1.0zM77.9 339.3h1.0v1.0h-1.0zM85.6 339.6h1.0v1.0h-1.0zM87.7 339.6h1.0v1.0h-1.0zM63.3 333.6h1.0v1.0h-1.0zM79.3 341.8h1.0v1.0h-1.0zM66.5 340.2h1.0v1.0h-1.0zM62.4 338.8h1.0v1.0h-1.0zM78.4 334.1h1.0v1.0h-1.0zM73.9 337.9h1.0v1.0h-1.0zM93.1 343.6h1.0v1.0h-1.0zM65.8 341.1h1.0v1.0h-1.0zM81.4 337.7h1.0v1.0h-1.0zM87.7 343.8h1.0v1.0h-1.0zM64.1 345.5h1.0v1.0h-1.0zM84.6 337.5h1.0v1.0h-1.0zM64.8 344.4h1.0v1.0h-1.0zM83.1 341.9h1.0v1.0h-1.0zM77.1 336.6h1.0v1.0h-1.0zM78.7 338.5h1.0v1.0h-1.0zM85.9 339.3h1.0v1.0h-1.0zM66.7 337.9h1.0v1.0h-1.0zM90.1 338.4h1.0v1.0h-1.0zM68.3 342.2h1.0v1.0h-1.0zM62.6 344.1h1.0v1.0h-1.0zM69.6 336.5h1.0v1.0h-1.0zM93.0 337.2h1.0v1.0h-1.0zM62.9 343.3h1.0v1.0h-1.0zM80.9 341.5h1.0v1.0h-1.0zM63.9 341.0h1.0v1.0h-1.0zM74.0 335.8h1.0v1.0h-1.0zM86.7 335.7h1.0v1.0h-1.0zM61.9 332.7h1.0v1.0h-1.0zM63.1 340.7h1.0v1.0h-1.0zM65.3 333.0h1.0v1.0h-1.0zM69.4 342.9h1.0v1.0h-1.0zM69.9 347.0h1.0v1.0h-1.0zM100.5 344.0h1.0v1.0h-1.0zM70.4 345.2h1.0v1.0h-1.0zM85.7 347.2h1.0v1.0h-1.0zM76.2 345.9h1.0v1.0h-1.0zM60.1 335.1h1.0v1.0h-1.0zM60.1 332.8h1.0v1.0h-1.0zM62.3 342.8h1.0v1.0h-1.0zM68.4 336.1h1.0v1.0h-1.0zM80.9 339.3h1.0v1.0h-1.0zM61.1 336.3h1.0v1.0h-1.0zM75.2 340.0h1.0v1.0h-1.0zM79.9 339.2h1.0v1.0h-1.0zM64.3 344.0h1.0v1.0h-1.0zM72.9 347.2h1.0v1.0h-1.0zM60.1 336.9h1.0v1.0h-1.0zM71.8 345.3h1.0v1.0h-1.0zM78.8 342.0h1.0v1.0h-1.0zM65.3 343.5h1.0v1.0h-1.0zM62.7 332.5h1.0v1.0h-1.0zM83.8 343.3h1.0v1.0h-1.0zM65.7 339.0h1.0v1.0h-1.0zM80.6 341.7h1.0v1.0h-1.0zM60.5 343.0h1.0v1.0h-1.0zM63.5 338.3h1.0v1.0h-1.0zM84.2 337.3h1.0v1.0h-1.0zM88.7 338.9h1.0v1.0h-1.0zM80.6 344.6h1.0v1.0h-1.0zM101.7 341.2h1.0v1.0h-1.0zM75.2 334.9h1.0v1.0h-1.0zM93.1 336.0h1.0v1.0h-1.0zM78.7 337.3h1.0v1.0h-1.0zM71.3 335.2h1.0v1.0h-1.0zM98.4 343.0h1.0v1.0h-1.0zM66.3 339.9h1.0v1.0h-1.0zM83.0 342.8h1.0v1.0h-1.0zM98.6 344.3h1.0v1.0h-1.0zM87.1 341.0h1.0v1.0h-1.0zM75.7 335.9h1.0v1.0h-1.0zM70.1 337.0h1.0v1.0h-1.0zM86.1 335.7h1.0v1.0h-1.0zM78.0 339.0h1.0v1.0h-1.0zM69.2 333.7h1.0v1.0h-1.0zM77.1 343.0h1.0v1.0h-1.0zM63.7 346.7h1.0v1.0h-1.0zM76.8 333.3h1.0v1.0h-1.0zM75.7 333.9h1.0v1.0h-1.0zM65.4 345.1h1.0v1.0h-1.0zM60.0 344.4h1.0v1.0h-1.0zM78.8 344.5h1.0v1.0h-1.0zM91.0 344.5h1.0v1.0h-1.0zM76.4 339.4h1.0v1.0h-1.0zM82.4 343.9h1.0v1.0h-1.0zM85.2 344.8h1.0v1.0h-1.0zM76.9 341.2h1.0v1.0h-1.0zM63.9 342.2h1.0v1.0h-1.0zM66.5 343.9h1.0v1.0h-1.0zM64.1 340.5h1.0v1.0h-1.0zM100.5 341.6h1.0v1.0h-1.0zM89.5 341.4h1.0v1.0h-1.0zM77.9 341.3h1.0v1.0h-1.0zM65.4 339.5h1.0v1.0h-1.0zM69.4 344.5h1.0v1.0h-1.0zM67.5 334.7h1.0v1.0h-1.0zM60.3 338.7h1.0v1.0h-1.0zM74.2 341.5h1.0v1.0h-1.0zM71.1 336.6h1.0v1.0h-1.0zM77.5 339.9h1.0v1.0h-1.0zM65.5 336.9h1.0v1.0h-1.0zM73.9 346.2h1.0v1.0h-1.0zM82.2 341.2h1.0v1.0h-1.0zM62.3 337.8h1.0v1.0h-1.0zM67.2 341.9h1.0v1.0h-1.0zM76.3 343.0h1.0v1.0h-1.0zM72.1 335.6h1.0v1.0h-1.0zM69.4 335.1h1.0v1.0h-1.0zM65.5 334.6h1.0v1.0h-1.0zM102.6 341.6h1.0v1.0h-1.0zM86.4 338.2h1.0v1.0h-1.0zM60.2 342.2h1.0v1.0h-1.0zM89.8 335.6h1.0v1.0h-1.0zM82.9 339.1h1.0v1.0h-1.0zM80.9 341.6h1.0v1.0h-1.0zM89.0 343.6h1.0v1.0h-1.0zM73.6 339.5h1.0v1.0h-1.0zM78.0 348.0h1.0v1.0h-1.0zM81.8 338.5h1.0v1.0h-1.0zM85.8 343.9h1.0v1.0h-1.0zM66.5 342.5h1.0v1.0h-1.0zM61.7 333.6h1.0v1.0h-1.0zM69.7 344.7h1.0v1.0h-1.0zM63.3 343.3h1.0v1.0h-1.0zM68.5 336.3h1.0v1.0h-1.0zM62.8 334.1h1.0v1.0h-1.0zM84.7 338.1h1.0v1.0h-1.0zM80.0 344.1h1.0v1.0h-1.0zM61.6 342.4h1.0v1.0h-1.0zM63.6 345.8h1.0v1.0h-1.0zM63.1 333.5h1.0v1.0h-1.0zM65.1 346.9h1.0v1.0h-1.0zM79.5 334.6h1.0v1.0h-1.0zM81.8 332.7h1.0v1.0h-1.0zM69.3 335.6h1.0v1.0h-1.0zM76.6 335.7h1.0v1.0h-1.0zM67.6 341.6h1.0v1.0h-1.0zM64.3 345.2h1.0v1.0h-1.0zM78.9 342.8h1.0v1.0h-1.0zM61.0 343.6h1.0v1.0h-1.0zM81.0 340.7h1.0v1.0h-1.0zM83.0 334.8h1.0v1.0h-1.0zM69.9 335.3h1.0v1.0h-1.0zM79.9 340.9h1.0v1.0h-1.0zM71.1 337.5h1.0v1.0h-1.0zM69.1 338.8h1.0v1.0h-1.0zM65.5 339.8h1.0v1.0h-1.0zM73.2 337.9h1.0v1.0h-1.0zM61.4 335.1h1.0v1.0h-1.0zM84.1 342.4h1.0v1.0h-1.0zM69.7 343.4h1.0v1.0h-1.0zM62.2 345.8h1.0v1.0h-1.0zM68.9 341.2h1.0v1.0h-1.0zM74.7 346.9h1.0v1.0h-1.0zM71.7 344.0h1.0v1.0h-1.0zM84.6 339.7h1.0v1.0h-1.0zM76.2 332.6h1.0v1.0h-1.0zM61.7 343.6h1.0v1.0h-1.0zM65.4 345.2h1.0v1.0h-1.0zM88.6 340.2h1.0v1.0h-1.0zM72.8 337.8h1.0v1.0h-1.0zM83.5 342.6h1.0v1.0h-1.0zM73.4 344.0h1.0v1.0h-1.0zM102.1 339.5h1.0v1.0h-1.0zM92.7 339.1h1.0v1.0h-1.0zM72.1 338.5h1.0v1.0h-1.0zM71.1 337.1h1.0v1.0h-1.0zM73.9 345.2h1.0v1.0h-1.0zM65.4 347.3h1.0v1.0h-1.0zM83.7 333.0h1.0v1.0h-1.0zM83.6 338.5h1.0v1.0h-1.0zM62.7 343.1h1.0v1.0h-1.0z" fill="#111"/>
<path d="M39.4 280.8h1.0v1.0h-1.0zM59.4 279.1h1.0v1.0h-1.0zM48.6 282.3h1.0v1.0h-1.0zM50.0 281.6h1.0v1.0h-1.0zM50.5 281.9h1.0v1.0h-1.0zM34.5 278.1h1.0v1.0h-1.0zM38.2 280.8h1.0v1.0h-1.0zM39.6 281.8h1.0v1.0h-1.0zM59.9 281.6h1.0v1.0h-1.0zM61.2 280.9h1.0v1.0h-1.0zM53.0 281.0h1.0v1.0h-1.0zM52.5 281.3h1.0v1.0h-1.0zM28.2 280.8h1.0v1.0h-1.0zM52.4 278.2h1.0v1.0h-1.0zM40.8 281.2h1.0v1.0h-1.0zM61.8 282.6h1.0v1.0h-1.0zM29.5 280.7h1.0v1.0h-1.0zM48.6 282.2h1.0v1.0h-1.0zM52.5 282.4h1.0v1.0h-1.0zM38.0 280.9h1.0v1.0h-1.0zM57.0 282.1h1.0v1.0h-1.0zM29.4 281.7h1.0v1.0h-1.0zM63.8 281.6h1.0v1.0h-1.0zM41.8 282.1h1.0v1.0h-1.0zM53.5 282.7h1.0v1.0h-1.0zM33.2 280.2h1.0v1.0h-1.0zM49.9 282.0h1.0v1.0h-1.0zM40.1 282.4h1.0v1.0h-1.0zM53.3 279.8h1.0v1.0h-1.0zM35.6 281.1h1.0v1.0h-1.0zM40.9 283.0h1.0v1.0h-1.0zM27.3 280.7h1.0v1.0h-1.0zM33.2 280.1h1.0v1.0h-1.0zM57.2 280.1h1.0v1.0h-1.0zM43.5 280.1h1.0v1.0h-1.0zM63.7 282.2h1.0v1.0h-1.0zM53.4 278.7h1.0v1.0h-1.0zM32.8 281.9h1.0v1.0h-1.0zM34.0 281.2h1.0v1.0h-1.0zM52.3 277.4h1.0v1.0h-1.0zM42.0 280.9h1.0v1.0h-1.0zM58.9 278.5h1.0v1.0h-1.0zM44.3 277.6h1.0v1.0h-1.0zM58.5 282.8h1.0v1.0h-1.0zM27.5 282.5h1.0v1.0h-1.0zM53.4 282.2h1.0v1.0h-1.0zM58.6 281.4h1.0v1.0h-1.0zM43.8 281.2h1.0v1.0h-1.0zM33.1 279.8h1.0v1.0h-1.0zM41.5 283.0h1.0v1.0h-1.0zM55.3 280.3h1.0v1.0h-1.0zM27.7 282.0h1.0v1.0h-1.0zM53.7 281.9h1.0v1.0h-1.0zM32.9 281.7h1.0v1.0h-1.0zM33.4 280.6h1.0v1.0h-1.0zM54.4 281.6h1.0v1.0h-1.0zM32.2 280.1h1.0v1.0h-1.0zM54.7 282.5h1.0v1.0h-1.0zM55.8 282.3h1.0v1.0h-1.0zM58.6 282.5h1.0v1.0h-1.0zM48.9 282.9h1.0v1.0h-1.0zM53.5 281.1h1.0v1.0h-1.0zM34.4 281.3h1.0v1.0h-1.0zM48.9 277.8h1.0v1.0h-1.0zM62.4 279.4h1.0v1.0h-1.0zM53.4 280.9h1.0v1.0h-1.0zM55.9 277.5h1.0v1.0h-1.0zM49.6 280.6h1.0v1.0h-1.0zM34.1 279.0h1.0v1.0h-1.0zM42.5 277.5h1.0v1.0h-1.0zM34.8 280.5h1.0v1.0h-1.0zM47.0 282.2h1.0v1.0h-1.0zM26.0 279.0h1.0v1.0h-1.0zM57.2 278.4h1.0v1.0h-1.0zM58.8 278.2h1.0v1.0h-1.0zM56.5 282.8h1.0v1.0h-1.0zM53.8 281.9h1.0v1.0h-1.0zM35.9 280.3h1.0v1.0h-1.0zM25.2 280.4h1.0v1.0h-1.0zM30.3 280.1h1.0v1.0h-1.0zM34.5 281.0h1.0v1.0h-1.0zM34.4 282.1h1.0v1.0h-1.0zM34.8 281.8h1.0v1.0h-1.0zM48.7 280.8h1.0v1.0h-1.0zM34.8 280.8h1.0v1.0h-1.0zM41.7 280.2h1.0v1.0h-1.0zM46.4 281.3h1.0v1.0h-1.0zM44.7 280.4h1.0v1.0h-1.0zM56.7 281.4h1.0v1.0h-1.0zM62.5 282.0h1.0v1.0h-1.0zM60.9 277.6h1.0v1.0h-1.0zM32.4 279.7h1.0v1.0h-1.0zM63.2 281.3h1.0v1.0h-1.0zM45.5 281.8h1.0v1.0h-1.0zM46.2 282.5h1.0v1.0h-1.0zM61.2 282.7h1.0v1.0h-1.0zM42.7 279.5h1.0v1.0h-1.0zM41.2 278.6h1.0v1.0h-1.0zM34.2 278.8h1.0v1.0h-1.0zM45.0 281.0h1.0v1.0h-1.0zM41.1 278.6h1.0v1.0h-1.0zM27.9 281.9h1.0v1.0h-1.0zM60.5 282.7h1.0v1.0h-1.0zM47.9 278.1h1.0v1.0h-1.0zM33.2 282.7h1.0v1.0h-1.0zM34.4 280.0h1.0v1.0h-1.0zM57.8 279.1h1.0v1.0h-1.0zM52.0 281.5h1.0v1.0h-1.0zM48.9 280.6h1.0v1.0h-1.0zM35.8 281.8h1.0v1.0h-1.0zM28.6 281.1h1.0v1.0h-1.0zM44.5 282.0h1.0v1.0h-1.0zM49.9 280.3h1.0v1.0h-1.0zM28.2 278.7h1.0v1.0h-1.0zM34.9 278.5h1.0v1.0h-1.0zM28.3 280.9h1.0v1.0h-1.0zM43.9 281.1h1.0v1.0h-1.0zM36.5 281.2h1.0v1.0h-1.0zM36.5 277.6h1.0v1.0h-1.0zM57.8 278.7h1.0v1.0h-1.0zM59.7 281.3h1.0v1.0h-1.0zM46.2 283.0h1.0v1.0h-1.0zM53.1 278.0h1.0v1.0h-1.0zM33.1 281.0h1.0v1.0h-1.0zM49.6 278.2h1.0v1.0h-1.0zM33.8 281.0h1.0v1.0h-1.0zM48.8 281.1h1.0v1.0h-1.0zM61.1 279.5h1.0v1.0h-1.0zM27.6 280.0h1.0v1.0h-1.0zM48.5 281.6h1.0v1.0h-1.0zM32.1 278.4h1.0v1.0h-1.0zM37.4 281.5h1.0v1.0h-1.0zM27.4 282.8h1.0v1.0h-1.0zM58.5 281.2h1.0v1.0h-1.0zM42.1 281.1h1.0v1.0h-1.0zM37.3 282.4h1.0v1.0h-1.0zM30.4 277.9h1.0v1.0h-1.0zM26.8 277.5h1.0v1.0h-1.0zM61.0 278.2h1.0v1.0h-1.0zM47.6 281.3h1.0v1.0h-1.0zM60.3 282.5h1.0v1.0h-1.0zM27.8 282.4h1.0v1.0h-1.0zM47.5 278.6h1.0v1.0h-1.0zM61.7 279.5h1.0v1.0h-1.0zM36.5 281.3h1.0v1.0h-1.0zM34.4 282.5h1.0v1.0h-1.0zM61.9 282.5h1.0v1.0h-1.0zM29.6 280.3h1.0v1.0h-1.0zM61.2 282.3h1.0v1.0h-1.0zM27.1 278.9h1.0v1.0h-1.0zM38.3 281.8h1.0v1.0h-1.0zM60.5 278.8h1.0v1.0h-1.0zM54.8 282.7h1.0v1.0h-1.0zM32.1 280.1h1.0v1.0h-1.0zM56.5 282.1h1.0v1.0h-1.0zM40.5 281.8h1.0v1.0h-1.0zM38.3 281.3h1.0v1.0h-1.0zM56.8 282.0h1.0v1.0h-1.0zM41.2 277.6h1.0v1.0h-1.0zM61.8 282.3h1.0v1.0h-1.0zM53.1 278.3h1.0v1.0h-1.0zM54.5 280.5h1.0v1.0h-1.0zM30.4 281.6h1.0v1.0h-1.0zM26.0 282.0h1.0v1.0h-1.0zM41.3 280.5h1.0v1.0h-1.0zM58.4 280.9h1.0v1.0h-1.0zM50.2 281.1h1.0v1.0h-1.0zM46.1 282.6h1.0v1.0h-1.0zM44.1 280.2h1.0v1.0h-1.0zM31.4 283.0h1.0v1.0h-1.0zM52.7 280.6h1.0v1.0h-1.0z" fill="#111"/>
<path d="M51.5 346.3h1.0v1.0h-1.0zM59.6 350.1h1.0v1.0h-1.0zM56.4 345.6h1.0v1.0h-1.0zM29.5 346.1h1.0v1.0h-1.0zM51.5 344.1h1.0v1.0h-1.0zM59.7 349.3h1.0v1.0h-1.0zM61.7 347.5h1.0v1.0h-1.0zM33.4 350.0h1.0v1.0h-1.0zM44.0 346.6h1.0v1.0h-1.0zM63.1 346.7h1.0v1.0h-1.0zM42.2 345.2h1.0v1.0h-1.0zM65.1 350.2h1.0v1.0h-1.0zM29.6 346.0h1.0v1.0h-1.0zM32.8 352.2h1.0v1.0h-1.0zM42.1 350.4h1.0v1.0h-1.0zM46.6 344.7h1.0v1.0h-1.0zM30.6 348.7h1.0v1.0h-1.0zM38.3 344.8h1.0v1.0h-1.0zM53.4 345.0h1.0v1.0h-1.0zM31.5 344.2h1.0v1.0h-1.0zM63.1 344.6h1.0v1.0h-1.0zM59.3 348.6h1.0v1.0h-1.0zM26.5 346.9h1.0v1.0h-1.0zM55.2 351.2h1.0v1.0h-1.0zM40.5 346.5h1.0v1.0h-1.0zM27.9 348.9h1.0v1.0h-1.0zM64.5 346.8h1.0v1.0h-1.0zM31.3 350.1h1.0v1.0h-1.0zM38.1 346.2h1.0v1.0h-1.0zM55.4 347.8h1.0v1.0h-1.0zM61.5 344.0h1.0v1.0h-1.0zM36.4 345.5h1.0v1.0h-1.0zM40.4 344.8h1.0v1.0h-1.0zM33.8 347.3h1.0v1.0h-1.0zM40.8 349.9h1.0v1.0h-1.0zM42.6 348.2h1.0v1.0h-1.0zM31.0 348.9h1.0v1.0h-1.0zM45.5 344.9h1.0v1.0h-1.0zM55.7 344.8h1.0v1.0h-1.0zM64.4 346.7h1.0v1.0h-1.0zM27.4 348.9h1.0v1.0h-1.0zM40.3 349.0h1.0v1.0h-1.0zM30.7 348.9h1.0v1.0h-1.0zM40.6 351.1h1.0v1.0h-1.0zM48.9 344.3h1.0v1.0h-1.0zM38.6 344.2h1.0v1.0h-1.0zM53.3 349.2h1.0v1.0h-1.0zM42.2 345.9h1.0v1.0h-1.0zM26.9 345.4h1.0v1.0h-1.0zM48.7 345.7h1.0v1.0h-1.0zM40.4 345.1h1.0v1.0h-1.0zM54.6 353.7h1.0v1.0h-1.0zM35.0 349.3h1.0v1.0h-1.0zM51.6 350.2h1.0v1.0h-1.0zM63.6 344.5h1.0v1.0h-1.0zM57.0 346.1h1.0v1.0h-1.0zM26.0 345.8h1.0v1.0h-1.0zM63.3 349.9h1.0v1.0h-1.0zM27.5 345.7h1.0v1.0h-1.0zM65.6 344.1h1.0v1.0h-1.0zM27.3 349.0h1.0v1.0h-1.0zM31.6 346.1h1.0v1.0h-1.0zM47.1 349.4h1.0v1.0h-1.0zM26.4 344.6h1.0v1.0h-1.0zM57.2 345.5h1.0v1.0h-1.0zM51.0 349.0h1.0v1.0h-1.0zM43.4 352.6h1.0v1.0h-1.0zM48.4 345.7h1.0v1.0h-1.0zM26.9 351.4h1.0v1.0h-1.0zM40.6 347.3h1.0v1.0h-1.0zM40.5 347.2h1.0v1.0h-1.0zM40.9 346.6h1.0v1.0h-1.0zM42.3 346.3h1.0v1.0h-1.0zM53.9 346.4h1.0v1.0h-1.0zM50.6 346.3h1.0v1.0h-1.0zM58.0 344.8h1.0v1.0h-1.0zM65.7 347.1h1.0v1.0h-1.0zM57.5 346.8h1.0v1.0h-1.0zM50.0 344.6h1.0v1.0h-1.0zM45.8 345.7h1.0v1.0h-1.0zM65.2 352.5h1.0v1.0h-1.0zM28.3 348.9h1.0v1.0h-1.0zM60.7 344.4h1.0v1.0h-1.0zM41.7 346.8h1.0v1.0h-1.0zM48.1 344.8h1.0v1.0h-1.0zM31.7 351.7h1.0v1.0h-1.0zM46.7 350.3h1.0v1.0h-1.0zM32.3 349.3h1.0v1.0h-1.0zM50.1 344.1h1.0v1.0h-1.0zM34.7 351.4h1.0v1.0h-1.0zM57.8 346.0h1.0v1.0h-1.0zM60.3 344.4h1.0v1.0h-1.0zM37.3 349.0h1.0v1.0h-1.0zM53.6 350.6h1.0v1.0h-1.0zM28.8 346.3h1.0v1.0h-1.0zM50.8 348.2h1.0v1.0h-1.0zM53.1 350.2h1.0v1.0h-1.0zM44.5 350.6h1.0v1.0h-1.0zM37.7 352.4h1.0v1.0h-1.0zM43.9 345.2h1.0v1.0h-1.0zM65.1 345.2h1.0v1.0h-1.0zM37.0 345.9h1.0v1.0h-1.0zM33.9 345.7h1.0v1.0h-1.0zM29.2 345.0h1.0v1.0h-1.0zM56.9 347.6h1.0v1.0h-1.0zM37.9 347.8h1.0v1.0h-1.0zM30.6 345.4h1.0v1.0h-1.0zM37.8 345.6h1.0v1.0h-1.0zM30.0 344.7h1.0v1.0h-1.0zM27.0 345.4h1.0v1.0h-1.0zM34.5 352.9h1.0v1.0h-1.0zM33.6 350.0h1.0v1.0h-1.0zM56.2 344.1h1.0v1.0h-1.0zM46.8 352.4h1.0v1.0h-1.0zM42.8 351.5h1.0v1.0h-1.0zM59.2 349.7h1.0v1.0h-1.0zM65.1 346.5h1.0v1.0h-1.0zM65.6 349.5h1.0v1.0h-1.0zM63.1 351.7h1.0v1.0h-1.0zM31.8 351.2h1.0v1.0h-1.0zM61.3 346.7h1.0v1.0h-1.0zM52.6 345.3h1.0v1.0h-1.0zM26.8 346.1h1.0v1.0h-1.0zM59.0 347.5h1.0v1.0h-1.0zM38.3 351.4h1.0v1.0h-1.0zM48.2 346.6h1.0v1.0h-1.0zM54.8 346.8h1.0v1.0h-1.0zM57.2 349.9h1.0v1.0h-1.0zM51.3 349.2h1.0v1.0h-1.0zM26.6 346.7h1.0v1.0h-1.0zM28.3 345.8h1.0v1.0h-1.0zM53.2 350.1h1.0v1.0h-1.0zM48.7 345.3h1.0v1.0h-1.0zM28.0 345.5h1.0v1.0h-1.0zM31.8 344.9h1.0v1.0h-1.0zM35.1 349.7h1.0v1.0h-1.0zM28.8 346.7h1.0v1.0h-1.0zM47.3 347.7h1.0v1.0h-1.0zM61.5 348.7h1.0v1.0h-1.0zM26.5 348.1h1.0v1.0h-1.0zM27.7 344.2h1.0v1.0h-1.0zM61.0 344.4h1.0v1.0h-1.0zM30.6 346.2h1.0v1.0h-1.0zM57.8 349.2h1.0v1.0h-1.0zM45.2 344.8h1.0v1.0h-1.0zM64.3 346.2h1.0v1.0h-1.0zM51.5 347.0h1.0v1.0h-1.0zM27.9 350.4h1.0v1.0h-1.0zM49.0 344.6h1.0v1.0h-1.0zM47.5 348.8h1.0v1.0h-1.0zM38.9 347.9h1.0v1.0h-1.0zM61.0 344.7h1.0v1.0h-1.0zM35.3 344.2h1.0v1.0h-1.0zM58.1 349.6h1.0v1.0h-1.0zM35.3 346.1h1.0v1.0h-1.0zM33.0 344.3h1.0v1.0h-1.0zM54.7 346.5h1.0v1.0h-1.0zM34.1 348.8h1.0v1.0h-1.0zM52.8 347.9h1.0v1.0h-1.0zM45.4 346.5h1.0v1.0h-1.0zM49.9 346.8h1.0v1.0h-1.0zM47.8 349.2h1.0v1.0h-1.0zM57.1 349.4h1.0v1.0h-1.0zM29.7 345.4h1.0v1.0h-1.0zM26.7 346.6h1.0v1.0h-1.0zM33.5 344.4h1.0v1.0h-1.0zM44.0 349.0h1.0v1.0h-1.0zM32.2 351.2h1.0v1.0h-1.0zM39.4 352.1h1.0v1.0h-1.0zM27.0 344.6h1.0v1.0h-1.0zM47.0 346.9h1.0v1.0h-1.0zM36.8 350.6h1.0v1.0h-1.0zM57.4 345.6h1.0v1.0h-1.0zM36.0 345.1h1.0v1.0h-1.0zM52.2 346.3h1.0v1.0h-1.0zM39.1 347.9h1.0v1.0h-1.0zM39.8 346.6h1.0v1.0h-1.0zM35.7 344.1h1.0v1.0h-1.0zM42.1 344.5h1.0v1.0h-1.0zM27.5 349.9h1.0v1.0h-1.0zM57.4 351.2h1.0v1.0h-1.0zM32.5 351.7h1.0v1.0h-1.0zM36.0 348.8h1.0v1.0h-1.0zM65.1 346.3h1.0v1.0h-1.0zM58.5 349.5h1.0v1.0h-1.0zM47.5 344.6h1.0v1.0h-1.0zM32.6 345.8h1.0v1.0h-1.0zM38.7 348.0h1.0v1.0h-1.0zM36.1 348.0h1.0v1.0h-1.0zM64.2 345.3h1.0v1.0h-1.0zM55.3 347.3h1.0v1.0h-1.0zM30.4 351.2h1.0v1.0h-1.0zM46.5 344.2h1.0v1.0h-1.0zM45.7 350.5h1.0v1.0h-1.0zM53.2 344.8h1.0v1.0h-1.0zM36.3 345.0h1.0v1.0h-1.0zM55.2 345.7h1.0v1.0h-1.0zM33.4 345.5h1.0v1.0h-1.0zM54.0 347.9h1.0v1.0h-1.0zM29.2 351.0h1.0v1.0h-1.0zM46.7 344.8h1.0v1.0h-1.0zM49.6 347.7h1.0v1.0h-1.0zM35.7 347.8h1.0v1.0h-1.0zM42.5 348.3h1.0v1.0h-1.0zM50.8 344.6h1.0v1.0h-1.0zM42.3 344.7h1.0v1.0h-1.0zM43.2 346.3h1.0v1.0h-1.0zM59.0 346.1h1.0v1.0h-1.0zM44.0 352.0h1.0v1.0h-1.0zM32.4 344.2h1.0v1.0h-1.0zM29.4 349.8h1.0v1.0h-1.0zM63.6 347.5h1.0v1.0h-1.0zM61.9 346.7h1.0v1.0h-1.0zM39.3 347.1h1.0v1.0h-1.0zM37.4 347.7h1.0v1.0h-1.0zM62.9 346.8h1.0v1.0h-1.0zM58.9 350.1h1.0v1.0h-1.0zM49.1 350.0h1.0v1.0h-1.0zM59.8 352.1h1.0v1.0h-1.0zM52.1 345.0h1.0v1.0h-1.0zM33.7 349.1h1.0v1.0h-1.0zM50.7 344.1h1.0v1.0h-1.0zM51.1 348.3h1.0v1.0h-1.0zM50.0 346.5h1.0v1.0h-1.0zM49.5 352.5h1.0v1.0h-1.0zM26.9 344.8h1.0v1.0h-1.0zM57.9 344.1h1.0v1.0h-1.0zM35.8 349.1h1.0v1.0h-1.0zM50.4 346.0h1.0v1.0h-1.0zM42.7 345.0h1.0v1.0h-1.0z" fill="#111"/>
<path d="M35.4 325.5h0.9v0.9h-0.9zM25.9 314.9h0.9v0.9h-0.9zM34.0 329.9h0.9v0.9h-0.9zM35.9 299.1h0.9v0.9h-0.9zM29.4 312.7h0.9v0.9h-0.9zM31.2 302.9h0.9v0.9h-0.9zM28.7 313.4h0.9v0.9h-0.9zM27.4 308.6h0.9v0.9h-0.9zM34.3 303.0h0.9v0.9h-0.9zM28.5 315.9h0.9v0.9h-0.9zM35.0 325.7h0.9v0.9h-0.9zM35.3 300.6h0.9v0.9h-0.9zM35.7 329.4h0.9v0.9h-0.9zM33.5 305.8h0.9v0.9h-0.9zM33.2 324.9h0.9v0.9h-0.9zM30.6 304.3h0.9v0.9h-0.9zM31.0 297.4h0.9v0.9h-0.9zM31.1 323.4h0.9v0.9h-0.9zM26.0 312.1h0.9v0.9h-0.9zM34.3 303.6h0.9v0.9h-0.9zM27.5 315.6h0.9v0.9h-0.9zM28.0 316.3h0.9v0.9h-0.9zM33.8 316.5h0.9v0.9h-0.9zM28.6 330.6h0.9v0.9h-0.9zM26.8 300.4h0.9v0.9h-0.9zM25.8 305.6h0.9v0.9h-0.9zM26.7 329.5h0.9v0.9h-0.9zM26.2 329.2h0.9v0.9h-0.9zM30.2 308.8h0.9v0.9h-0.9zM29.1 297.1h0.9v0.9h-0.9zM34.9 315.8h0.9v0.9h-0.9zM27.3 330.7h0.9v0.9h-0.9zM28.1 324.9h0.9v0.9h-0.9zM35.4 324.0h0.9v0.9h-0.9zM30.9 296.8h0.9v0.9h-0.9zM30.1 313.2h0.9v0.9h-0.9zM31.4 321.9h0.9v0.9h-0.9zM27.7 327.0h0.9v0.9h-0.9zM26.0 314.8h0.9v0.9h-0.9zM30.4 308.1h0.9v0.9h-0.9zM32.9 317.8h0.9v0.9h-0.9zM32.3 309.4h0.9v0.9h-0.9zM35.8 309.7h0.9v0.9h-0.9zM31.8 321.9h0.9v0.9h-0.9zM28.1 301.2h0.9v0.9h-0.9zM28.5 330.2h0.9v0.9h-0.9zM34.8 314.3h0.9v0.9h-0.9zM27.6 317.5h0.9v0.9h-0.9zM33.0 309.6h0.9v0.9h-0.9zM29.3 316.6h0.9v0.9h-0.9zM26.2 326.2h0.9v0.9h-0.9zM33.7 297.5h0.9v0.9h-0.9zM30.7 319.2h0.9v0.9h-0.9zM31.1 322.9h0.9v0.9h-0.9zM33.0 330.9h0.9v0.9h-0.9zM28.2 314.9h0.9v0.9h-0.9zM32.7 300.2h0.9v0.9h-0.9zM29.1 304.3h0.9v0.9h-0.9zM27.2 298.5h0.9v0.9h-0.9zM35.5 307.2h0.9v0.9h-0.9zM30.0 309.1h0.9v0.9h-0.9zM33.5 313.6h0.9v0.9h-0.9zM26.2 318.6h0.9v0.9h-0.9zM27.7 314.5h0.9v0.9h-0.9zM32.0 304.3h0.9v0.9h-0.9zM28.4 323.3h0.9v0.9h-0.9zM35.4 325.2h0.9v0.9h-0.9zM35.4 306.9h0.9v0.9h-0.9zM28.8 301.8h0.9v0.9h-0.9zM29.4 312.7h0.9v0.9h-0.9zM30.9 316.6h0.9v0.9h-0.9zM27.4 321.5h0.9v0.9h-0.9zM29.5 317.3h0.9v0.9h-0.9zM27.7 330.2h0.9v0.9h-0.9zM32.6 325.7h0.9v0.9h-0.9zM28.4 316.7h0.9v0.9h-0.9zM28.0 330.6h0.9v0.9h-0.9zM30.2 321.6h0.9v0.9h-0.9zM32.1 321.3h0.9v0.9h-0.9zM28.5 330.2h0.9v0.9h-0.9zM32.6 321.5h0.9v0.9h-0.9zM35.6 323.0h0.9v0.9h-0.9zM28.7 300.5h0.9v0.9h-0.9zM29.7 330.2h0.9v0.9h-0.9zM32.6 316.3h0.9v0.9h-0.9zM30.9 309.1h0.9v0.9h-0.9zM32.4 323.4h0.9v0.9h-0.9zM29.9 301.5h0.9v0.9h-0.9zM25.7 310.7h0.9v0.9h-0.9zM30.5 314.1h0.9v0.9h-0.9zM34.5 304.8h0.9v0.9h-0.9zM33.8 319.8h0.9v0.9h-0.9zM28.8 309.0h0.9v0.9h-0.9zM34.3 325.7h0.9v0.9h-0.9zM32.7 329.6h0.9v0.9h-0.9zM32.3 299.8h0.9v0.9h-0.9zM28.1 304.2h0.9v0.9h-0.9zM27.7 314.7h0.9v0.9h-0.9zM34.3 323.6h0.9v0.9h-0.9zM31.0 318.7h0.9v0.9h-0.9zM29.3 301.4h0.9v0.9h-0.9zM33.4 322.2h0.9v0.9h-0.9zM32.2 296.2h0.9v0.9h-0.9zM25.9 303.2h0.9v0.9h-0.9zM28.3 324.1h0.9v0.9h-0.9zM33.3 318.1h0.9v0.9h-0.9zM33.7 330.8h0.9v0.9h-0.9zM27.9 315.7h0.9v0.9h-0.9zM34.4 313.7h0.9v0.9h-0.9z" fill="#fff"/>
<path d="M58.7 299.9h0.9v0.9h-0.9zM62.5 325.9h0.9v0.9h-0.9zM58.1 321.7h0.9v0.9h-0.9zM63.8 327.4h0.9v0.9h-0.9zM59.6 329.9h0.9v0.9h-0.9zM58.3 309.9h0.9v0.9h-0.9zM61.2 310.7h0.9v0.9h-0.9zM60.9 302.3h0.9v0.9h-0.9zM63.2 317.8h0.9v0.9h-0.9zM64.7 324.5h0.9v0.9h-0.9zM60.4 310.6h0.9v0.9h-0.9zM61.3 305.5h0.9v0.9h-0.9zM61.8 322.2h0.9v0.9h-0.9zM58.6 305.8h0.9v0.9h-0.9zM62.6 321.0h0.9v0.9h-0.9zM61.9 294.6h0.9v0.9h-0.9zM64.3 294.4h0.9v0.9h-0.9zM61.2 324.0h0.9v0.9h-0.9zM63.8 298.4h0.9v0.9h-0.9zM64.6 303.8h0.9v0.9h-0.9zM61.2 320.4h0.9v0.9h-0.9zM60.0 304.5h0.9v0.9h-0.9zM61.8 310.0h0.9v0.9h-0.9zM63.4 319.7h0.9v0.9h-0.9z" fill="#fff"/>
<path d="M27.4 287C30.1 286.4 38.8 286.4 44 286.4C49.2 286.4 56.2 286.5 58.8 287C61.4 287.5 59.7 288 59.5 289.5C59.3 291 58.5 292.9 57.6 296C56.7 299.1 55 304 54.2 308C53.4 312 52.8 316.7 52.8 320C52.8 323.3 53 326 54 328C55 330 56.9 330.2 59 332C61.1 333.8 67 336.4 66.8 338.6C66.6 340.9 61.5 343.1 58 345.5C54.5 347.9 49.8 352.6 46 352.8C42.2 353 38.2 348.9 35 346.5C31.8 344.1 27.5 340.5 27 338.3C26.5 336.1 30.4 335.1 32 333.5C33.6 331.9 35.9 331.2 36.8 329C37.7 326.8 37.8 323.2 37.6 320C37.4 316.8 36.9 313.8 35.8 310C34.7 306.2 32.4 300.3 31 297C29.6 293.7 28.2 291.7 27.6 290C27 288.3 24.7 287.6 27.4 287Z" fill="#fff" stroke="#444" stroke-width="0.9"/>
<path d="M30.5 289.1C31.7 286.7 39.6 288.4 44 288.4C48.5 288.5 55.7 287 57.1 289.4C58.6 291.8 54.3 298.2 52.8 302.9C51.2 307.6 49.1 313.6 47.9 317.7C46.7 321.8 46.4 327.5 45.5 327.5C44.6 327.5 44.1 321.8 42.6 317.7C41 313.6 38.3 307.7 36.3 302.9C34.2 298.1 29.2 291.5 30.5 289.1Z" fill="#f2f2f2" stroke="#555" stroke-width="0.7"/>
<path d="M31.8 289.6C33 287.3 40.1 288.9 44.1 288.9C48.2 289 54.7 287.6 56 289.8C57.3 292.1 53.4 298.1 52 302.6C50.6 307 48.7 312.7 47.6 316.5C46.5 320.4 46.2 325.8 45.4 325.8C44.6 325.8 44.2 320.4 42.8 316.5C41.4 312.7 38.9 307.1 37.1 302.6C35.2 298.1 30.6 291.8 31.8 289.6Z" fill="#e6e6e6" stroke="#5a5a5a" stroke-width="0.7"/>
<path d="M33 297.3C32.4 293.8 33.6 292 35.6 290.6C37.6 289.2 41.7 288.7 44.8 288.7C47.9 288.7 52 289.2 54 290.6C56 292 57.2 293.8 56.6 297.3C56 300.8 52.7 307.3 50.7 311.6C48.7 315.9 46.8 323.3 44.8 323.3C42.8 323.3 40.9 315.9 38.9 311.6C36.9 307.3 33.6 300.8 33 297.3Z" fill="#dedede" stroke="#555" stroke-width="0.65"/>
<path d="M34.6 297.5C34.2 294.7 35.1 293 36.8 291.7C38.5 290.5 42.1 290.1 44.8 290.1C47.5 290.1 51.1 290.5 52.8 291.7C54.5 293 55.4 294.7 55 297.5C54.6 300.3 52.1 305.2 50.4 308.5C48.7 311.8 46.7 317.5 44.8 317.5C42.9 317.5 40.9 311.8 39.2 308.5C37.5 305.2 35 300.3 34.6 297.5Z" fill="#cfcfcf" stroke="#505050" stroke-width="0.65"/>
<path d="M36.2 297.7C35.9 295.5 36.7 293.8 38.1 292.8C39.5 291.7 42.6 291.4 44.8 291.4C47 291.4 50.1 291.7 51.5 292.8C52.9 293.8 53.7 295.5 53.4 297.7C53.1 299.9 51.4 303.4 50 305.9C48.5 308.4 46.5 312.7 44.8 312.7C43.1 312.7 41.1 308.4 39.6 305.9C38.2 303.4 36.5 299.9 36.2 297.7Z" fill="#c2c2c2" stroke="#4a4a4a" stroke-width="0.65"/>
<path d="M37.8 297.9C37.6 296.2 38.2 294.7 39.3 293.8C40.5 293 43 292.7 44.8 292.7C46.6 292.7 49.1 293 50.3 293.8C51.4 294.7 52 296.2 51.8 297.9C51.6 299.6 50.5 302.1 49.3 303.9C48.2 305.8 46.3 308.9 44.8 308.9C43.3 308.9 41.4 305.8 40.2 303.9C39.1 302.1 38 299.6 37.8 297.9Z" fill="#b6b6b6" stroke="#444" stroke-width="0.65"/>
<path d="M39.4 298.1C39.3 296.9 39.7 295.5 40.6 294.8C41.5 294.1 43.4 293.9 44.8 293.9C46.2 293.9 48.1 294.1 49 294.8C49.9 295.5 50.3 296.9 50.2 298.1C50.1 299.3 49.5 301 48.6 302.2C47.7 303.5 46.1 305.6 44.8 305.6C43.5 305.6 41.9 303.5 41 302.2C40.1 301 39.5 299.3 39.4 298.1Z" fill="#b0b0b0" stroke="#444" stroke-width="0.65"/>
<path d="M40.9 298.2C40.9 297.3 41.1 296.3 41.8 295.8C42.4 295.3 43.8 295.1 44.8 295.1C45.8 295.1 47.2 295.3 47.8 295.8C48.5 296.3 48.7 297.3 48.7 298.2C48.7 299.1 48.4 300.1 47.7 300.9C47.1 301.8 45.8 303.2 44.8 303.2C43.8 303.2 42.5 301.8 41.9 300.9C41.2 300.1 40.9 299.1 40.9 298.2Z" fill="#c4c4c4" stroke="#444" stroke-width="0.65"/>
<path d="M42.4 298.3C42.4 297.8 42.5 297.1 42.9 296.7C43.3 296.4 44.2 296.3 44.8 296.3C45.4 296.3 46.3 296.4 46.7 296.7C47.1 297.1 47.2 297.8 47.2 298.3C47.2 298.8 47.1 299.4 46.7 299.8C46.3 300.3 45.4 301.1 44.8 301.1C44.2 301.1 43.3 300.3 42.9 299.8C42.5 299.4 42.4 298.8 42.4 298.3Z" fill="#e8e8e8" stroke="#555" stroke-width="0.65"/>
<path d="M39.5 305C39.7 307.2 39.8 313.8 40.5 318C41.2 322.2 43.4 328 44 330" fill="none" stroke="#777" stroke-width="0.7"/>
<path d="M50.5 305C50.3 307.2 50.4 313.8 49.5 318C48.6 322.2 45.8 328 45 330" fill="none" stroke="#777" stroke-width="0.7"/>
<path d="M42 312C42.5 313.7 44 318.8 45 322C46 325.2 47.5 329.5 48 331" fill="none" stroke="#777" stroke-width="0.7"/>
<path d="M48 312C47.5 313.7 46 318.8 45 322C44 325.2 42.5 329.5 42 331" fill="none" stroke="#777" stroke-width="0.7"/>
<path d="M28.8 338.4C29.1 336.5 34.1 334.7 37 333.7C39.9 332.8 42.8 333 46 333C49.2 333 52.8 332.7 56 333.7C59.2 334.7 64.8 337 65 338.9C65.2 340.8 60.2 343 57 345.1C53.8 347.2 49.7 351.3 46 351.4C42.3 351.5 37.9 347.9 35 345.7C32.1 343.5 28.5 340.4 28.8 338.4Z" fill="#c8c8c8" stroke="#555" stroke-width="0.7"/>
<path d="M30.2 338.6C30.5 336.8 35.1 335.1 37.8 334.3C40.4 333.5 43.1 333.6 46 333.6C49 333.6 52.3 333.4 55.2 334.3C58.2 335.2 63.4 337.3 63.5 339.1C63.7 340.8 59.1 342.8 56.2 344.7C53.2 346.6 49.4 350.4 46 350.5C42.7 350.6 38.6 347.3 35.9 345.3C33.3 343.3 29.9 340.4 30.2 338.6Z" fill="#c0c0c0" stroke="#666" stroke-width="0.7"/>
<path d="M31.6 338.8C31.9 337.2 36.1 335.7 38.5 335C40.9 334.3 43.4 334.4 46.1 334.4C48.7 334.4 51.8 334.2 54.5 335C57.1 335.8 61.9 337.7 62 339.2C62.2 340.8 58 342.6 55.3 344.3C52.7 346 49.2 349.3 46.1 349.4C43 349.5 39.2 346.5 36.8 344.8C34.4 343 31.4 340.5 31.6 338.8Z" fill="#b4b4b4" stroke="#555" stroke-width="0.7"/>
<path d="M33.9 339.1C34.2 337.7 37.7 336.5 39.8 335.8C41.8 335.2 43.9 335.3 46.1 335.3C48.4 335.3 51 335.1 53.2 335.8C55.5 336.5 59.5 338.1 59.6 339.4C59.8 340.8 56.2 342.3 54 343.7C51.7 345.2 48.7 348 46.1 348.1C43.5 348.1 40.4 345.6 38.3 344.1C36.3 342.6 33.7 340.5 33.9 339.1Z" fill="#909090" stroke="#444" stroke-width="0.7"/>
<path d="M36.2 339.4C36.4 338.2 39.3 337.2 41 336.7C42.7 336.2 44.4 336.2 46.2 336.2C48 336.2 50.2 336.1 52 336.7C53.8 337.2 57.1 338.6 57.2 339.6C57.3 340.7 54.4 342 52.6 343.2C50.8 344.4 48.3 346.7 46.2 346.8C44.1 346.8 41.5 344.7 39.8 343.5C38.2 342.3 36 340.5 36.2 339.4Z" fill="#707070" stroke="#3a3a3a" stroke-width="0.7"/>
<path d="M38.5 339.6C38.7 338.7 40.9 337.9 42.2 337.5C43.5 337.1 44.9 337.2 46.3 337.2C47.7 337.2 49.3 337.1 50.8 337.5C52.2 338 54.8 339 54.8 339.9C54.9 340.7 52.7 341.7 51.2 342.6C49.8 343.6 47.9 345.4 46.3 345.4C44.6 345.5 42.6 343.9 41.3 342.9C40 341.9 38.4 340.5 38.5 339.6Z" fill="#5a5a5a" stroke="#333" stroke-width="0.7"/>
<path d="M40.8 339.9C40.9 339.2 42.5 338.7 43.5 338.4C44.4 338.1 45.3 338.1 46.3 338.1C47.4 338.1 48.5 338 49.5 338.4C50.6 338.7 52.4 339.4 52.4 340.1C52.5 340.7 50.9 341.4 49.9 342.1C48.8 342.7 47.5 344.1 46.3 344.1C45.2 344.2 43.7 343 42.8 342.3C41.9 341.6 40.7 340.5 40.8 339.9Z" fill="#4a4a4a" stroke="#2a2a2a" stroke-width="0.7"/>
<path d="M43.3 340.2C43.4 339.8 44.3 339.4 44.8 339.3C45.3 339.1 45.8 339.1 46.4 339.1C47 339.1 47.6 339.1 48.2 339.3C48.8 339.5 49.8 339.9 49.8 340.3C49.9 340.6 49 341.1 48.4 341.5C47.8 341.9 47.1 342.7 46.4 342.7C45.8 342.7 44.9 342 44.4 341.6C43.9 341.2 43.3 340.6 43.3 340.2Z" fill="#606060" stroke="#333" stroke-width="0.7"/>
<line x1="62.8" y1="258.4" x2="62.8" y2="281" stroke="#444" stroke-width="1.1"/>
<line x1="62.8" y1="347" x2="62.8" y2="378.2" stroke="#444" stroke-width="1.1"/>
<line x1="92" y1="333.3" x2="144.4" y2="333.3" stroke="#444" stroke-width="1.1"/>
<rect x="151.4" y="257.6" width="121.8" height="120.4" fill="none" stroke="#3a3a3a" stroke-width="1"/>
<path d="M153 378.5v3.6M155.2 378.5v2.8M157.3 378.5v2.8M159.4 378.5v2.8M161.6 378.5v2.8M163.8 378.5v2.8M165.9 378.5v2.8M168.1 378.5v2.8M170.2 378.5v3.6M172.3 378.5v2.8M174.5 378.5v2.8M176.7 378.5v2.8M178.8 378.5v2.8M180.9 378.5v2.8M183.1 378.5v2.8M185.2 378.5v2.8M187.4 378.5v3.6M188.4 378.5v3.6M196.2 378.5v2.8M200.8 378.5v2M204.1 378.5v2M206.6 378.5v2.8M208.6 378.5v2M210.4 378.5v2M211.9 378.5v2M213.2 378.5v2M214.4 378.5v3.6M222.2 378.5v2.8M226.8 378.5v2M230.1 378.5v2M232.6 378.5v2.8M234.6 378.5v2M236.4 378.5v2M237.9 378.5v2M239.2 378.5v2M240.4 378.5v3.6M248.2 378.5v2.8M252.8 378.5v2M256.1 378.5v2M258.6 378.5v2.8M260.6 378.5v2M262.4 378.5v2M263.9 378.5v2M265.2 378.5v2M266.4 378.5v3.6" stroke="#2a2a2a" stroke-width="0.8" fill="none"/>
<path d="M150.9 374h-2.4M150.9 369.4h-2.4M150.9 364.8h-2.4M150.9 360.2h-2.4M150.9 355.6h-2.4M150.9 351h-2.4M150.9 346.4h-2.4M150.9 341.8h-2.4M150.9 338h-2.4M150.9 330.2h-2.4M150.9 319.8h-2.4M150.9 312h-2.4M150.9 304.2h-2.4M150.9 293.8h-2.4M150.9 286h-2.4M150.9 278.2h-2.4M150.9 267.8h-2.4M150.9 260h-2.4" stroke="#2a2a2a" stroke-width="0.8" fill="none"/>
<line x1="192.5" y1="257.6" x2="192.5" y2="378" stroke="#444" stroke-width="1.1"/>
<line x1="151.4" y1="334" x2="273.2" y2="334" stroke="#444" stroke-width="1.1"/>
<path d="M159 333C162 331.5 169.7 331 175 331C180.3 331 188.1 331.8 191 333C193.9 334.2 192.7 335.8 192.5 338C192.3 340.2 192.4 343.6 190 346C187.6 348.4 182.3 352.2 178 352.5C173.7 352.8 167.5 350.1 164 348C160.5 345.9 157.8 342.5 157 340C156.2 337.5 156 334.5 159 333Z" fill="#111"/>
<path d="M188.2 344.4h1.0v1.0h-1.0zM173.8 329.3h1.0v1.0h-1.0zM189.8 339.4h1.0v1.0h-1.0zM191.7 339.7h1.0v1.0h-1.0zM160.0 348.3h1.0v1.0h-1.0zM173.0 305.1h1.0v1.0h-1.0zM195.0 290.0h1.0v1.0h-1.0zM190.2 319.4h1.0v1.0h-1.0zM184.4 346.1h1.0v1.0h-1.0zM188.2 349.7h1.0v1.0h-1.0zM175.6 344.9h1.0v1.0h-1.0zM191.0 340.6h1.0v1.0h-1.0zM155.8 291.6h1.0v1.0h-1.0zM192.2 330.5h1.0v1.0h-1.0zM176.0 287.1h1.0v1.0h-1.0zM180.4 347.8h1.0v1.0h-1.0zM190.4 292.0h1.0v1.0h-1.0zM180.9 328.4h1.0v1.0h-1.0zM163.5 301.0h1.0v1.0h-1.0zM159.3 321.2h1.0v1.0h-1.0zM158.2 289.3h1.0v1.0h-1.0zM194.4 309.7h1.0v1.0h-1.0zM154.9 317.1h1.0v1.0h-1.0zM183.4 340.1h1.0v1.0h-1.0zM159.5 307.9h1.0v1.0h-1.0zM186.5 304.5h1.0v1.0h-1.0zM156.0 308.1h1.0v1.0h-1.0zM162.4 348.7h1.0v1.0h-1.0zM187.6 288.9h1.0v1.0h-1.0zM188.9 346.7h1.0v1.0h-1.0zM169.8 295.3h1.0v1.0h-1.0zM193.3 311.7h1.0v1.0h-1.0zM182.2 332.7h1.0v1.0h-1.0zM178.7 298.8h1.0v1.0h-1.0zM169.4 308.2h1.0v1.0h-1.0zM170.4 328.1h1.0v1.0h-1.0zM152.9 341.8h1.0v1.0h-1.0zM184.0 295.1h1.0v1.0h-1.0zM173.9 321.7h1.0v1.0h-1.0zM176.7 289.2h1.0v1.0h-1.0zM184.8 307.3h1.0v1.0h-1.0zM173.2 309.5h1.0v1.0h-1.0zM177.0 324.9h1.0v1.0h-1.0zM168.1 347.4h1.0v1.0h-1.0zM162.8 285.9h1.0v1.0h-1.0zM184.4 296.9h1.0v1.0h-1.0zM191.7 292.9h1.0v1.0h-1.0zM186.9 291.3h1.0v1.0h-1.0zM159.3 344.0h1.0v1.0h-1.0zM177.5 325.9h1.0v1.0h-1.0zM185.0 309.0h1.0v1.0h-1.0zM156.1 340.0h1.0v1.0h-1.0zM167.1 317.0h1.0v1.0h-1.0zM195.0 293.3h1.0v1.0h-1.0zM164.9 328.1h1.0v1.0h-1.0zM179.2 323.1h1.0v1.0h-1.0zM183.3 339.4h1.0v1.0h-1.0zM159.3 348.5h1.0v1.0h-1.0zM152.6 284.3h1.0v1.0h-1.0zM153.2 291.7h1.0v1.0h-1.0zM158.2 307.7h1.0v1.0h-1.0zM190.7 329.8h1.0v1.0h-1.0zM163.8 330.6h1.0v1.0h-1.0zM175.9 308.8h1.0v1.0h-1.0zM178.1 297.8h1.0v1.0h-1.0zM184.2 315.7h1.0v1.0h-1.0zM175.5 331.0h1.0v1.0h-1.0zM159.3 346.8h1.0v1.0h-1.0zM187.2 330.6h1.0v1.0h-1.0zM160.7 323.7h1.0v1.0h-1.0zM185.5 346.1h1.0v1.0h-1.0zM169.6 327.8h1.0v1.0h-1.0zM159.5 346.7h1.0v1.0h-1.0zM184.8 297.6h1.0v1.0h-1.0zM168.9 330.6h1.0v1.0h-1.0zM189.4 283.5h1.0v1.0h-1.0zM193.0 299.0h1.0v1.0h-1.0zM163.6 350.1h1.0v1.0h-1.0zM164.4 310.1h1.0v1.0h-1.0zM157.0 301.5h1.0v1.0h-1.0zM194.9 323.4h1.0v1.0h-1.0zM175.1 305.0h1.0v1.0h-1.0zM158.5 291.6h1.0v1.0h-1.0zM176.3 286.7h1.0v1.0h-1.0zM185.2 284.7h1.0v1.0h-1.0zM188.6 338.4h1.0v1.0h-1.0zM164.7 330.0h1.0v1.0h-1.0zM184.2 287.0h1.0v1.0h-1.0zM187.3 340.7h1.0v1.0h-1.0zM191.6 300.4h1.0v1.0h-1.0zM157.1 346.6h1.0v1.0h-1.0zM172.6 346.6h1.0v1.0h-1.0zM194.8 296.1h1.0v1.0h-1.0zM165.8 293.2h1.0v1.0h-1.0zM152.2 300.6h1.0v1.0h-1.0zM171.2 332.1h1.0v1.0h-1.0zM177.9 291.1h1.0v1.0h-1.0zM182.4 338.3h1.0v1.0h-1.0zM162.3 303.0h1.0v1.0h-1.0zM168.8 289.3h1.0v1.0h-1.0zM191.3 313.7h1.0v1.0h-1.0zM174.3 343.9h1.0v1.0h-1.0zM169.1 340.8h1.0v1.0h-1.0zM176.8 301.2h1.0v1.0h-1.0zM159.6 317.5h1.0v1.0h-1.0zM189.9 331.5h1.0v1.0h-1.0zM185.5 293.6h1.0v1.0h-1.0zM153.9 329.9h1.0v1.0h-1.0zM163.5 345.4h1.0v1.0h-1.0zM184.6 319.4h1.0v1.0h-1.0zM154.5 330.7h1.0v1.0h-1.0zM154.4 285.7h1.0v1.0h-1.0zM156.0 338.3h1.0v1.0h-1.0zM177.9 315.4h1.0v1.0h-1.0zM185.2 295.8h1.0v1.0h-1.0zM176.9 343.8h1.0v1.0h-1.0zM173.6 288.6h1.0v1.0h-1.0zM176.5 292.6h1.0v1.0h-1.0zM188.5 290.1h1.0v1.0h-1.0zM188.4 286.5h1.0v1.0h-1.0zM169.4 293.8h1.0v1.0h-1.0zM167.9 303.6h1.0v1.0h-1.0zM190.4 296.5h1.0v1.0h-1.0zM188.9 313.9h1.0v1.0h-1.0zM174.5 304.9h1.0v1.0h-1.0zM187.1 331.0h1.0v1.0h-1.0zM174.0 287.3h1.0v1.0h-1.0zM185.6 309.5h1.0v1.0h-1.0zM173.8 322.3h1.0v1.0h-1.0zM158.6 308.3h1.0v1.0h-1.0zM169.9 298.4h1.0v1.0h-1.0zM185.1 303.9h1.0v1.0h-1.0zM188.3 295.1h1.0v1.0h-1.0zM175.0 326.3h1.0v1.0h-1.0zM186.9 325.0h1.0v1.0h-1.0zM172.5 294.2h1.0v1.0h-1.0zM184.3 331.9h1.0v1.0h-1.0zM186.5 295.6h1.0v1.0h-1.0zM154.0 331.4h1.0v1.0h-1.0zM166.6 309.3h1.0v1.0h-1.0zM189.1 324.6h1.0v1.0h-1.0zM162.5 347.8h1.0v1.0h-1.0zM180.0 305.0h1.0v1.0h-1.0zM166.5 342.2h1.0v1.0h-1.0zM169.3 317.5h1.0v1.0h-1.0zM193.4 338.9h1.0v1.0h-1.0zM182.7 289.2h1.0v1.0h-1.0zM159.8 286.0h1.0v1.0h-1.0zM159.1 287.5h1.0v1.0h-1.0zM175.7 320.9h1.0v1.0h-1.0zM186.1 297.4h1.0v1.0h-1.0zM152.6 288.0h1.0v1.0h-1.0zM155.7 288.2h1.0v1.0h-1.0zM184.4 289.9h1.0v1.0h-1.0zM170.2 338.7h1.0v1.0h-1.0zM191.9 351.9h1.0v1.0h-1.0zM194.1 318.0h1.0v1.0h-1.0zM189.2 293.3h1.0v1.0h-1.0zM156.7 325.4h1.0v1.0h-1.0zM160.5 288.6h1.0v1.0h-1.0zM153.5 333.0h1.0v1.0h-1.0zM188.8 330.7h1.0v1.0h-1.0zM179.1 306.2h1.0v1.0h-1.0zM166.3 297.1h1.0v1.0h-1.0zM156.1 338.2h1.0v1.0h-1.0zM159.8 320.0h1.0v1.0h-1.0zM156.3 286.2h1.0v1.0h-1.0zM167.2 318.9h1.0v1.0h-1.0zM174.3 283.5h1.0v1.0h-1.0zM178.2 297.5h1.0v1.0h-1.0zM155.3 308.0h1.0v1.0h-1.0zM163.4 347.0h1.0v1.0h-1.0zM180.6 349.7h1.0v1.0h-1.0zM161.1 297.2h1.0v1.0h-1.0zM153.8 283.2h1.0v1.0h-1.0zM181.9 341.4h1.0v1.0h-1.0zM190.1 332.4h1.0v1.0h-1.0zM188.8 328.1h1.0v1.0h-1.0zM162.2 338.4h1.0v1.0h-1.0zM167.1 341.6h1.0v1.0h-1.0zM160.0 281.1h1.0v1.0h-1.0zM154.0 345.5h1.0v1.0h-1.0zM187.0 337.4h1.0v1.0h-1.0zM160.6 288.0h1.0v1.0h-1.0zM166.3 328.4h1.0v1.0h-1.0zM153.3 288.3h1.0v1.0h-1.0zM181.3 321.1h1.0v1.0h-1.0zM183.7 294.0h1.0v1.0h-1.0zM160.3 301.3h1.0v1.0h-1.0zM183.1 309.7h1.0v1.0h-1.0zM157.2 339.0h1.0v1.0h-1.0zM166.2 327.5h1.0v1.0h-1.0zM188.6 283.1h1.0v1.0h-1.0zM160.9 293.6h1.0v1.0h-1.0zM166.3 308.2h1.0v1.0h-1.0zM190.6 312.8h1.0v1.0h-1.0zM189.7 346.3h1.0v1.0h-1.0zM166.2 287.6h1.0v1.0h-1.0zM168.7 337.7h1.0v1.0h-1.0zM154.3 340.9h1.0v1.0h-1.0zM160.4 291.3h1.0v1.0h-1.0zM189.2 301.4h1.0v1.0h-1.0zM185.6 335.2h1.0v1.0h-1.0zM177.4 288.6h1.0v1.0h-1.0zM181.4 351.4h1.0v1.0h-1.0zM185.7 294.2h1.0v1.0h-1.0zM170.6 324.2h1.0v1.0h-1.0zM188.9 315.4h1.0v1.0h-1.0zM176.2 304.4h1.0v1.0h-1.0zM170.8 347.1h1.0v1.0h-1.0zM161.3 337.1h1.0v1.0h-1.0zM165.4 289.2h1.0v1.0h-1.0zM171.2 332.6h1.0v1.0h-1.0zM175.0 293.4h1.0v1.0h-1.0zM158.2 299.9h1.0v1.0h-1.0zM162.0 342.8h1.0v1.0h-1.0zM189.0 302.0h1.0v1.0h-1.0zM173.5 296.8h1.0v1.0h-1.0zM171.4 341.7h1.0v1.0h-1.0zM173.2 305.4h1.0v1.0h-1.0zM172.2 303.9h1.0v1.0h-1.0zM158.6 290.9h1.0v1.0h-1.0zM170.2 288.2h1.0v1.0h-1.0zM180.7 343.1h1.0v1.0h-1.0zM172.9 334.7h1.0v1.0h-1.0zM183.9 340.6h1.0v1.0h-1.0zM189.1 347.4h1.0v1.0h-1.0zM171.2 316.7h1.0v1.0h-1.0zM183.5 332.5h1.0v1.0h-1.0zM167.0 342.5h1.0v1.0h-1.0zM155.4 305.0h1.0v1.0h-1.0zM163.9 321.3h1.0v1.0h-1.0zM165.0 329.7h1.0v1.0h-1.0zM178.4 339.0h1.0v1.0h-1.0zM174.6 306.1h1.0v1.0h-1.0zM164.3 352.0h1.0v1.0h-1.0zM159.7 309.6h1.0v1.0h-1.0zM194.1 347.8h1.0v1.0h-1.0zM167.8 290.5h1.0v1.0h-1.0zM167.3 336.9h1.0v1.0h-1.0zM180.9 286.1h1.0v1.0h-1.0zM194.3 320.5h1.0v1.0h-1.0zM162.4 310.0h1.0v1.0h-1.0zM158.9 295.6h1.0v1.0h-1.0zM191.6 349.3h1.0v1.0h-1.0zM155.1 334.3h1.0v1.0h-1.0zM164.5 290.0h1.0v1.0h-1.0zM179.8 342.5h1.0v1.0h-1.0zM160.1 310.1h1.0v1.0h-1.0zM188.8 295.1h1.0v1.0h-1.0zM186.0 302.5h1.0v1.0h-1.0zM168.4 351.2h1.0v1.0h-1.0zM180.0 300.0h1.0v1.0h-1.0zM175.5 344.2h1.0v1.0h-1.0zM162.2 303.6h1.0v1.0h-1.0zM163.1 350.1h1.0v1.0h-1.0zM173.2 329.1h1.0v1.0h-1.0zM158.4 319.8h1.0v1.0h-1.0zM176.8 321.4h1.0v1.0h-1.0zM169.0 298.2h1.0v1.0h-1.0zM182.5 285.7h1.0v1.0h-1.0zM193.4 328.7h1.0v1.0h-1.0zM181.3 299.2h1.0v1.0h-1.0zM173.1 295.7h1.0v1.0h-1.0zM190.9 316.4h1.0v1.0h-1.0zM194.1 314.5h1.0v1.0h-1.0zM179.4 312.5h1.0v1.0h-1.0zM185.8 352.0h1.0v1.0h-1.0zM180.3 290.0h1.0v1.0h-1.0zM169.7 293.6h1.0v1.0h-1.0zM181.6 323.6h1.0v1.0h-1.0zM160.6 333.1h1.0v1.0h-1.0zM183.6 302.2h1.0v1.0h-1.0zM193.4 285.3h1.0v1.0h-1.0zM180.9 351.3h1.0v1.0h-1.0zM178.1 319.2h1.0v1.0h-1.0zM177.1 308.9h1.0v1.0h-1.0zM186.8 288.8h1.0v1.0h-1.0zM173.7 343.1h1.0v1.0h-1.0zM170.8 322.0h1.0v1.0h-1.0zM152.2 346.2h1.0v1.0h-1.0zM168.8 310.7h1.0v1.0h-1.0zM176.9 341.7h1.0v1.0h-1.0zM156.7 329.2h1.0v1.0h-1.0zM165.6 314.7h1.0v1.0h-1.0zM193.8 341.5h1.0v1.0h-1.0zM176.8 290.4h1.0v1.0h-1.0zM178.8 336.1h1.0v1.0h-1.0zM159.7 346.2h1.0v1.0h-1.0zM159.6 296.4h1.0v1.0h-1.0zM165.6 305.0h1.0v1.0h-1.0zM180.1 314.5h1.0v1.0h-1.0zM173.9 328.5h1.0v1.0h-1.0zM176.6 344.4h1.0v1.0h-1.0zM191.2 309.4h1.0v1.0h-1.0zM193.5 296.2h1.0v1.0h-1.0zM192.4 287.1h1.0v1.0h-1.0zM156.3 307.0h1.0v1.0h-1.0zM162.4 291.8h1.0v1.0h-1.0zM191.7 327.6h1.0v1.0h-1.0zM156.3 343.8h1.0v1.0h-1.0zM184.1 291.4h1.0v1.0h-1.0zM173.3 338.9h1.0v1.0h-1.0zM174.9 332.4h1.0v1.0h-1.0zM194.8 286.4h1.0v1.0h-1.0zM177.0 344.6h1.0v1.0h-1.0zM155.7 310.2h1.0v1.0h-1.0zM152.1 346.6h1.0v1.0h-1.0zM179.4 285.1h1.0v1.0h-1.0zM176.7 313.5h1.0v1.0h-1.0zM159.5 336.5h1.0v1.0h-1.0zM160.9 299.5h1.0v1.0h-1.0zM166.2 307.5h1.0v1.0h-1.0zM171.4 306.2h1.0v1.0h-1.0zM189.6 322.1h1.0v1.0h-1.0zM186.2 343.3h1.0v1.0h-1.0zM171.9 347.7h1.0v1.0h-1.0zM185.4 338.1h1.0v1.0h-1.0zM158.3 334.5h1.0v1.0h-1.0zM160.4 340.3h1.0v1.0h-1.0zM187.9 311.1h1.0v1.0h-1.0zM180.3 336.3h1.0v1.0h-1.0zM158.6 324.9h1.0v1.0h-1.0zM156.6 302.6h1.0v1.0h-1.0zM193.0 317.2h1.0v1.0h-1.0zM181.2 288.7h1.0v1.0h-1.0zM172.7 334.0h1.0v1.0h-1.0zM168.2 288.3h1.0v1.0h-1.0zM186.9 283.5h1.0v1.0h-1.0zM172.1 311.9h1.0v1.0h-1.0zM169.6 296.9h1.0v1.0h-1.0zM186.7 321.8h1.0v1.0h-1.0zM163.7 293.9h1.0v1.0h-1.0zM177.7 294.0h1.0v1.0h-1.0zM162.2 322.8h1.0v1.0h-1.0zM172.5 302.1h1.0v1.0h-1.0zM165.6 319.6h1.0v1.0h-1.0zM165.8 343.9h1.0v1.0h-1.0zM162.4 318.2h1.0v1.0h-1.0zM171.2 340.4h1.0v1.0h-1.0zM177.3 344.1h1.0v1.0h-1.0zM172.8 329.2h1.0v1.0h-1.0zM172.8 283.7h1.0v1.0h-1.0zM157.2 334.8h1.0v1.0h-1.0zM159.3 290.1h1.0v1.0h-1.0zM187.9 304.5h1.0v1.0h-1.0zM163.5 285.9h1.0v1.0h-1.0zM169.1 294.7h1.0v1.0h-1.0zM173.4 348.2h1.0v1.0h-1.0zM178.5 351.6h1.0v1.0h-1.0zM192.4 337.0h1.0v1.0h-1.0zM189.5 346.2h1.0v1.0h-1.0zM166.2 337.3h1.0v1.0h-1.0zM181.5 328.0h1.0v1.0h-1.0zM165.0 345.3h1.0v1.0h-1.0zM192.8 298.0h1.0v1.0h-1.0zM167.3 306.1h1.0v1.0h-1.0zM159.5 288.2h1.0v1.0h-1.0zM156.6 313.0h1.0v1.0h-1.0zM186.5 332.9h1.0v1.0h-1.0zM162.5 343.3h1.0v1.0h-1.0zM174.6 334.8h1.0v1.0h-1.0zM189.8 303.5h1.0v1.0h-1.0zM180.3 302.3h1.0v1.0h-1.0zM185.6 312.5h1.0v1.0h-1.0zM194.7 296.7h1.0v1.0h-1.0zM155.1 341.4h1.0v1.0h-1.0zM152.5 291.3h1.0v1.0h-1.0zM159.6 290.3h1.0v1.0h-1.0zM155.1 325.4h1.0v1.0h-1.0zM158.5 309.5h1.0v1.0h-1.0zM189.8 316.3h1.0v1.0h-1.0zM166.8 302.5h1.0v1.0h-1.0zM152.6 316.0h1.0v1.0h-1.0zM175.6 330.3h1.0v1.0h-1.0zM166.1 287.9h1.0v1.0h-1.0zM181.3 291.9h1.0v1.0h-1.0zM168.7 288.2h1.0v1.0h-1.0zM185.7 320.6h1.0v1.0h-1.0zM194.8 297.2h1.0v1.0h-1.0zM188.4 351.6h1.0v1.0h-1.0zM187.1 329.7h1.0v1.0h-1.0zM165.9 329.0h1.0v1.0h-1.0zM171.2 289.3h1.0v1.0h-1.0zM169.1 291.6h1.0v1.0h-1.0zM166.6 293.0h1.0v1.0h-1.0zM190.8 299.9h1.0v1.0h-1.0zM179.7 347.8h1.0v1.0h-1.0zM153.8 301.5h1.0v1.0h-1.0zM181.8 294.3h1.0v1.0h-1.0zM176.4 341.4h1.0v1.0h-1.0zM185.1 321.0h1.0v1.0h-1.0zM185.3 285.0h1.0v1.0h-1.0zM159.4 321.4h1.0v1.0h-1.0zM168.0 332.4h1.0v1.0h-1.0zM186.9 288.1h1.0v1.0h-1.0zM172.0 332.9h1.0v1.0h-1.0zM156.2 350.9h1.0v1.0h-1.0zM189.0 309.2h1.0v1.0h-1.0zM181.0 315.2h1.0v1.0h-1.0zM187.1 304.3h1.0v1.0h-1.0zM176.5 331.6h1.0v1.0h-1.0zM175.7 311.6h1.0v1.0h-1.0zM171.6 350.4h1.0v1.0h-1.0zM169.6 294.7h1.0v1.0h-1.0zM183.7 351.1h1.0v1.0h-1.0zM190.3 311.9h1.0v1.0h-1.0zM169.1 328.3h1.0v1.0h-1.0zM192.6 333.4h1.0v1.0h-1.0zM159.6 287.9h1.0v1.0h-1.0zM180.2 347.7h1.0v1.0h-1.0zM167.7 311.6h1.0v1.0h-1.0zM178.5 299.7h1.0v1.0h-1.0zM184.8 320.6h1.0v1.0h-1.0zM153.1 297.5h1.0v1.0h-1.0zM160.8 302.9h1.0v1.0h-1.0zM160.8 287.8h1.0v1.0h-1.0zM157.8 339.5h1.0v1.0h-1.0zM163.2 323.0h1.0v1.0h-1.0zM162.3 316.9h1.0v1.0h-1.0zM189.2 331.6h1.0v1.0h-1.0zM172.1 306.8h1.0v1.0h-1.0zM168.4 291.7h1.0v1.0h-1.0zM191.4 326.3h1.0v1.0h-1.0zM184.1 345.5h1.0v1.0h-1.0zM173.2 325.6h1.0v1.0h-1.0zM159.1 343.2h1.0v1.0h-1.0zM180.6 324.7h1.0v1.0h-1.0zM193.8 294.5h1.0v1.0h-1.0zM182.8 348.4h1.0v1.0h-1.0zM173.9 309.3h1.0v1.0h-1.0zM173.0 305.5h1.0v1.0h-1.0zM155.5 342.8h1.0v1.0h-1.0zM165.8 283.7h1.0v1.0h-1.0zM169.4 330.9h1.0v1.0h-1.0zM174.2 294.4h1.0v1.0h-1.0zM193.7 316.5h1.0v1.0h-1.0zM162.1 347.7h1.0v1.0h-1.0zM176.7 342.1h1.0v1.0h-1.0zM171.9 312.9h1.0v1.0h-1.0zM169.7 294.6h1.0v1.0h-1.0zM155.7 315.5h1.0v1.0h-1.0zM190.5 339.2h1.0v1.0h-1.0zM170.6 332.3h1.0v1.0h-1.0zM174.0 336.3h1.0v1.0h-1.0zM181.4 343.3h1.0v1.0h-1.0zM163.5 347.1h1.0v1.0h-1.0zM188.3 336.1h1.0v1.0h-1.0zM168.0 321.2h1.0v1.0h-1.0zM173.5 332.1h1.0v1.0h-1.0zM191.3 316.6h1.0v1.0h-1.0zM164.3 292.4h1.0v1.0h-1.0zM153.8 332.2h1.0v1.0h-1.0zM169.2 338.2h1.0v1.0h-1.0zM185.7 309.6h1.0v1.0h-1.0zM172.9 338.8h1.0v1.0h-1.0zM166.8 286.7h1.0v1.0h-1.0zM159.7 327.7h1.0v1.0h-1.0zM165.0 313.5h1.0v1.0h-1.0zM164.5 330.5h1.0v1.0h-1.0zM190.2 308.5h1.0v1.0h-1.0zM188.3 334.5h1.0v1.0h-1.0zM187.9 330.1h1.0v1.0h-1.0zM192.0 332.2h1.0v1.0h-1.0zM186.2 336.4h1.0v1.0h-1.0zM155.8 292.6h1.0v1.0h-1.0zM188.1 307.5h1.0v1.0h-1.0zM166.1 331.6h1.0v1.0h-1.0zM172.3 344.2h1.0v1.0h-1.0zM169.4 319.3h1.0v1.0h-1.0zM160.4 289.5h1.0v1.0h-1.0zM165.9 284.9h1.0v1.0h-1.0zM184.7 299.2h1.0v1.0h-1.0zM168.6 300.0h1.0v1.0h-1.0zM176.5 325.1h1.0v1.0h-1.0zM176.6 319.9h1.0v1.0h-1.0zM174.4 300.0h1.0v1.0h-1.0zM193.4 290.0h1.0v1.0h-1.0zM166.2 287.1h1.0v1.0h-1.0zM190.2 297.3h1.0v1.0h-1.0zM178.8 292.2h1.0v1.0h-1.0zM170.2 294.6h1.0v1.0h-1.0zM189.0 341.8h1.0v1.0h-1.0zM152.1 350.2h1.0v1.0h-1.0zM155.5 351.6h1.0v1.0h-1.0zM174.0 313.6h1.0v1.0h-1.0zM154.6 294.8h1.0v1.0h-1.0zM184.7 310.5h1.0v1.0h-1.0zM190.7 340.2h1.0v1.0h-1.0zM166.0 341.0h1.0v1.0h-1.0zM178.2 290.8h1.0v1.0h-1.0zM155.7 346.6h1.0v1.0h-1.0zM175.3 347.1h1.0v1.0h-1.0zM152.3 311.3h1.0v1.0h-1.0zM165.8 351.5h1.0v1.0h-1.0zM175.8 312.0h1.0v1.0h-1.0zM155.4 292.4h1.0v1.0h-1.0zM190.2 336.0h1.0v1.0h-1.0zM154.9 324.5h1.0v1.0h-1.0zM169.2 318.7h1.0v1.0h-1.0zM173.6 317.9h1.0v1.0h-1.0zM178.3 331.3h1.0v1.0h-1.0zM154.9 349.8h1.0v1.0h-1.0zM152.1 347.8h1.0v1.0h-1.0zM183.1 320.8h1.0v1.0h-1.0zM193.7 327.3h1.0v1.0h-1.0zM159.1 282.9h1.0v1.0h-1.0zM190.5 343.2h1.0v1.0h-1.0zM185.7 304.3h1.0v1.0h-1.0zM164.0 310.2h1.0v1.0h-1.0zM160.4 349.2h1.0v1.0h-1.0zM180.6 291.1h1.0v1.0h-1.0zM161.7 348.8h1.0v1.0h-1.0zM193.5 351.4h1.0v1.0h-1.0zM176.4 307.7h1.0v1.0h-1.0zM163.2 326.2h1.0v1.0h-1.0zM180.0 352.0h1.0v1.0h-1.0zM192.2 332.7h1.0v1.0h-1.0zM156.4 318.3h1.0v1.0h-1.0zM187.0 304.9h1.0v1.0h-1.0zM190.2 292.2h1.0v1.0h-1.0zM175.0 290.2h1.0v1.0h-1.0zM192.0 333.9h1.0v1.0h-1.0zM168.1 332.2h1.0v1.0h-1.0zM172.8 307.7h1.0v1.0h-1.0zM193.5 311.4h1.0v1.0h-1.0zM155.1 293.0h1.0v1.0h-1.0zM186.9 311.7h1.0v1.0h-1.0zM166.5 343.0h1.0v1.0h-1.0zM155.7 341.2h1.0v1.0h-1.0zM162.2 293.4h1.0v1.0h-1.0zM165.9 294.7h1.0v1.0h-1.0zM155.9 288.2h1.0v1.0h-1.0zM179.0 296.6h1.0v1.0h-1.0zM176.5 304.3h1.0v1.0h-1.0zM189.2 287.1h1.0v1.0h-1.0zM193.2 306.5h1.0v1.0h-1.0zM169.0 333.1h1.0v1.0h-1.0zM178.3 330.8h1.0v1.0h-1.0zM162.1 342.5h1.0v1.0h-1.0zM169.1 334.0h1.0v1.0h-1.0zM157.9 319.1h1.0v1.0h-1.0zM174.9 289.0h1.0v1.0h-1.0zM164.8 306.9h1.0v1.0h-1.0zM174.1 299.1h1.0v1.0h-1.0zM160.5 347.3h1.0v1.0h-1.0zM186.0 350.1h1.0v1.0h-1.0zM167.6 339.9h1.0v1.0h-1.0zM159.4 351.3h1.0v1.0h-1.0zM152.2 304.3h1.0v1.0h-1.0zM174.1 330.8h1.0v1.0h-1.0zM152.3 339.0h1.0v1.0h-1.0zM175.6 342.4h1.0v1.0h-1.0zM154.5 300.7h1.0v1.0h-1.0zM154.8 331.6h1.0v1.0h-1.0zM167.4 333.5h1.0v1.0h-1.0zM165.6 324.6h1.0v1.0h-1.0zM170.9 328.5h1.0v1.0h-1.0zM183.9 310.2h1.0v1.0h-1.0zM162.4 331.3h1.0v1.0h-1.0zM181.7 330.1h1.0v1.0h-1.0zM158.3 299.2h1.0v1.0h-1.0zM171.2 308.1h1.0v1.0h-1.0zM177.5 310.9h1.0v1.0h-1.0zM189.5 324.5h1.0v1.0h-1.0zM175.5 305.1h1.0v1.0h-1.0zM173.3 325.3h1.0v1.0h-1.0zM192.4 321.3h1.0v1.0h-1.0zM180.7 325.7h1.0v1.0h-1.0zM190.1 341.5h1.0v1.0h-1.0zM175.1 312.5h1.0v1.0h-1.0zM194.7 332.6h1.0v1.0h-1.0zM177.9 350.8h1.0v1.0h-1.0zM179.5 306.1h1.0v1.0h-1.0zM172.2 331.2h1.0v1.0h-1.0zM180.0 296.6h1.0v1.0h-1.0zM189.6 283.2h1.0v1.0h-1.0zM153.9 283.6h1.0v1.0h-1.0zM190.7 299.6h1.0v1.0h-1.0zM192.6 323.6h1.0v1.0h-1.0zM163.2 319.1h1.0v1.0h-1.0zM160.5 341.5h1.0v1.0h-1.0zM177.2 322.8h1.0v1.0h-1.0zM185.2 336.6h1.0v1.0h-1.0zM167.8 349.7h1.0v1.0h-1.0zM180.0 307.8h1.0v1.0h-1.0zM178.8 295.5h1.0v1.0h-1.0zM186.4 306.7h1.0v1.0h-1.0zM161.1 336.0h1.0v1.0h-1.0zM164.9 341.1h1.0v1.0h-1.0zM173.7 330.5h1.0v1.0h-1.0zM173.9 307.1h1.0v1.0h-1.0zM190.0 306.7h1.0v1.0h-1.0zM181.1 301.5h1.0v1.0h-1.0zM175.7 317.1h1.0v1.0h-1.0zM191.0 338.3h1.0v1.0h-1.0zM155.0 346.8h1.0v1.0h-1.0zM164.0 298.1h1.0v1.0h-1.0zM156.1 328.6h1.0v1.0h-1.0zM187.6 300.8h1.0v1.0h-1.0zM158.2 350.4h1.0v1.0h-1.0zM175.3 307.4h1.0v1.0h-1.0zM173.9 312.8h1.0v1.0h-1.0zM185.0 317.1h1.0v1.0h-1.0zM172.1 332.9h1.0v1.0h-1.0zM177.1 294.2h1.0v1.0h-1.0zM154.3 293.7h1.0v1.0h-1.0zM187.1 335.5h1.0v1.0h-1.0zM156.6 314.7h1.0v1.0h-1.0zM164.7 303.0h1.0v1.0h-1.0zM189.3 345.1h1.0v1.0h-1.0zM174.1 291.5h1.0v1.0h-1.0zM176.6 312.1h1.0v1.0h-1.0zM166.5 292.9h1.0v1.0h-1.0zM183.2 322.7h1.0v1.0h-1.0zM183.8 328.9h1.0v1.0h-1.0zM180.3 336.9h1.0v1.0h-1.0zM157.1 329.8h1.0v1.0h-1.0zM159.3 293.5h1.0v1.0h-1.0zM174.2 342.0h1.0v1.0h-1.0zM181.8 294.5h1.0v1.0h-1.0zM170.6 334.1h1.0v1.0h-1.0zM187.7 343.6h1.0v1.0h-1.0zM164.9 299.7h1.0v1.0h-1.0zM178.6 320.0h1.0v1.0h-1.0zM161.3 340.9h1.0v1.0h-1.0zM170.9 328.6h1.0v1.0h-1.0zM179.2 341.5h1.0v1.0h-1.0zM185.7 344.8h1.0v1.0h-1.0zM180.9 294.7h1.0v1.0h-1.0zM161.8 315.0h1.0v1.0h-1.0zM176.8 340.2h1.0v1.0h-1.0zM162.4 349.6h1.0v1.0h-1.0zM178.0 345.7h1.0v1.0h-1.0zM162.1 329.4h1.0v1.0h-1.0zM192.8 349.3h1.0v1.0h-1.0zM172.5 311.6h1.0v1.0h-1.0zM158.7 293.1h1.0v1.0h-1.0zM182.8 286.5h1.0v1.0h-1.0zM181.7 332.3h1.0v1.0h-1.0zM162.7 332.7h1.0v1.0h-1.0zM155.1 329.9h1.0v1.0h-1.0zM194.3 311.0h1.0v1.0h-1.0zM190.4 332.5h1.0v1.0h-1.0zM168.1 313.8h1.0v1.0h-1.0zM192.1 286.5h1.0v1.0h-1.0zM163.2 328.4h1.0v1.0h-1.0zM160.9 285.7h1.0v1.0h-1.0zM165.1 326.1h1.0v1.0h-1.0zM180.2 319.0h1.0v1.0h-1.0zM192.1 303.9h1.0v1.0h-1.0zM153.1 340.1h1.0v1.0h-1.0zM160.6 337.9h1.0v1.0h-1.0zM190.5 323.8h1.0v1.0h-1.0zM163.5 293.8h1.0v1.0h-1.0zM167.8 294.8h1.0v1.0h-1.0zM192.3 300.1h1.0v1.0h-1.0zM159.9 304.9h1.0v1.0h-1.0zM176.8 345.5h1.0v1.0h-1.0zM152.7 286.3h1.0v1.0h-1.0zM157.4 283.6h1.0v1.0h-1.0zM156.3 351.6h1.0v1.0h-1.0zM152.9 300.6h1.0v1.0h-1.0zM179.7 336.3h1.0v1.0h-1.0zM185.1 303.4h1.0v1.0h-1.0zM170.2 314.4h1.0v1.0h-1.0zM163.4 304.0h1.0v1.0h-1.0zM169.0 351.2h1.0v1.0h-1.0zM161.5 330.7h1.0v1.0h-1.0zM160.4 295.5h1.0v1.0h-1.0zM168.5 314.1h1.0v1.0h-1.0zM173.1 295.1h1.0v1.0h-1.0zM159.4 295.1h1.0v1.0h-1.0zM159.5 336.2h1.0v1.0h-1.0zM166.8 344.6h1.0v1.0h-1.0zM155.1 334.2h1.0v1.0h-1.0zM189.9 339.1h1.0v1.0h-1.0zM178.0 318.2h1.0v1.0h-1.0zM172.5 299.0h1.0v1.0h-1.0zM169.4 334.0h1.0v1.0h-1.0zM186.0 336.7h1.0v1.0h-1.0zM168.8 347.7h1.0v1.0h-1.0zM183.5 294.1h1.0v1.0h-1.0zM191.8 320.1h1.0v1.0h-1.0zM164.8 287.7h1.0v1.0h-1.0zM169.7 327.1h1.0v1.0h-1.0zM163.3 306.2h1.0v1.0h-1.0zM158.3 332.4h1.0v1.0h-1.0zM178.4 297.9h1.0v1.0h-1.0zM164.7 347.4h1.0v1.0h-1.0zM194.4 307.0h1.0v1.0h-1.0zM187.7 318.4h1.0v1.0h-1.0zM182.5 341.7h1.0v1.0h-1.0zM165.7 290.3h1.0v1.0h-1.0zM155.2 348.9h1.0v1.0h-1.0zM169.5 312.7h1.0v1.0h-1.0zM170.8 309.8h1.0v1.0h-1.0zM185.0 327.8h1.0v1.0h-1.0zM194.7 291.0h1.0v1.0h-1.0zM175.2 349.0h1.0v1.0h-1.0zM167.4 292.6h1.0v1.0h-1.0zM161.5 303.7h1.0v1.0h-1.0zM172.4 315.1h1.0v1.0h-1.0zM156.4 315.0h1.0v1.0h-1.0zM192.1 338.4h1.0v1.0h-1.0zM173.4 336.2h1.0v1.0h-1.0zM172.0 350.9h1.0v1.0h-1.0zM152.1 280.5h1.0v1.0h-1.0zM185.0 291.5h1.0v1.0h-1.0zM177.3 332.0h1.0v1.0h-1.0zM171.6 286.3h1.0v1.0h-1.0zM187.4 318.8h1.0v1.0h-1.0zM165.4 287.4h1.0v1.0h-1.0zM173.9 286.5h1.0v1.0h-1.0zM193.9 306.0h1.0v1.0h-1.0zM182.8 304.3h1.0v1.0h-1.0zM167.7 305.9h1.0v1.0h-1.0zM167.7 343.6h1.0v1.0h-1.0zM179.1 331.5h1.0v1.0h-1.0zM164.7 339.5h1.0v1.0h-1.0zM169.8 295.7h1.0v1.0h-1.0zM154.3 311.2h1.0v1.0h-1.0zM167.7 300.1h1.0v1.0h-1.0zM168.7 345.9h1.0v1.0h-1.0zM168.1 309.8h1.0v1.0h-1.0zM160.2 331.8h1.0v1.0h-1.0zM170.8 291.9h1.0v1.0h-1.0zM181.9 333.6h1.0v1.0h-1.0zM183.6 335.3h1.0v1.0h-1.0zM155.0 327.1h1.0v1.0h-1.0zM178.6 296.0h1.0v1.0h-1.0zM190.7 333.1h1.0v1.0h-1.0zM163.0 348.6h1.0v1.0h-1.0zM174.0 321.6h1.0v1.0h-1.0zM162.3 342.9h1.0v1.0h-1.0zM192.1 345.6h1.0v1.0h-1.0zM169.5 332.5h1.0v1.0h-1.0zM178.2 321.0h1.0v1.0h-1.0zM183.8 287.7h1.0v1.0h-1.0zM179.5 292.4h1.0v1.0h-1.0zM179.5 296.1h1.0v1.0h-1.0zM161.1 294.1h1.0v1.0h-1.0zM160.8 289.1h1.0v1.0h-1.0zM160.4 324.1h1.0v1.0h-1.0zM174.5 295.2h1.0v1.0h-1.0zM185.0 296.6h1.0v1.0h-1.0zM190.4 299.5h1.0v1.0h-1.0zM172.2 344.2h1.0v1.0h-1.0zM175.7 291.4h1.0v1.0h-1.0zM170.2 337.6h1.0v1.0h-1.0zM152.8 350.2h1.0v1.0h-1.0zM186.4 295.4h1.0v1.0h-1.0zM156.1 318.0h1.0v1.0h-1.0zM183.7 297.3h1.0v1.0h-1.0zM165.0 339.3h1.0v1.0h-1.0zM156.4 318.7h1.0v1.0h-1.0zM178.7 351.5h1.0v1.0h-1.0zM188.9 334.8h1.0v1.0h-1.0zM155.2 293.4h1.0v1.0h-1.0zM193.3 301.2h1.0v1.0h-1.0zM181.6 349.0h1.0v1.0h-1.0zM173.0 310.7h1.0v1.0h-1.0zM190.8 343.1h1.0v1.0h-1.0zM163.9 351.4h1.0v1.0h-1.0zM182.5 295.3h1.0v1.0h-1.0zM164.6 293.0h1.0v1.0h-1.0zM160.7 321.5h1.0v1.0h-1.0zM172.7 325.0h1.0v1.0h-1.0zM169.8 308.4h1.0v1.0h-1.0zM179.6 335.2h1.0v1.0h-1.0zM170.5 294.7h1.0v1.0h-1.0zM194.4 294.0h1.0v1.0h-1.0zM169.6 290.2h1.0v1.0h-1.0zM183.3 300.6h1.0v1.0h-1.0zM155.8 324.2h1.0v1.0h-1.0zM173.8 337.9h1.0v1.0h-1.0zM191.8 336.0h1.0v1.0h-1.0zM193.8 344.1h1.0v1.0h-1.0zM165.9 342.0h1.0v1.0h-1.0zM179.1 329.0h1.0v1.0h-1.0zM192.8 286.7h1.0v1.0h-1.0zM156.6 301.9h1.0v1.0h-1.0zM164.8 294.6h1.0v1.0h-1.0zM194.9 334.4h1.0v1.0h-1.0zM193.8 300.9h1.0v1.0h-1.0zM189.3 333.2h1.0v1.0h-1.0zM182.9 329.4h1.0v1.0h-1.0zM154.9 290.5h1.0v1.0h-1.0zM177.1 337.4h1.0v1.0h-1.0zM193.7 345.6h1.0v1.0h-1.0zM189.2 292.8h1.0v1.0h-1.0zM154.8 344.6h1.0v1.0h-1.0zM169.3 342.5h1.0v1.0h-1.0zM172.9 312.9h1.0v1.0h-1.0zM174.6 339.8h1.0v1.0h-1.0zM163.7 329.5h1.0v1.0h-1.0zM177.2 337.6h1.0v1.0h-1.0zM191.8 311.8h1.0v1.0h-1.0zM160.0 333.4h1.0v1.0h-1.0zM187.1 348.4h1.0v1.0h-1.0zM185.2 299.5h1.0v1.0h-1.0zM186.0 321.0h1.0v1.0h-1.0zM156.1 306.0h1.0v1.0h-1.0zM171.2 308.4h1.0v1.0h-1.0zM162.7 307.5h1.0v1.0h-1.0zM177.3 305.4h1.0v1.0h-1.0zM161.2 341.2h1.0v1.0h-1.0zM183.8 317.8h1.0v1.0h-1.0zM189.9 332.5h1.0v1.0h-1.0zM177.8 346.7h1.0v1.0h-1.0zM167.9 284.2h1.0v1.0h-1.0zM190.4 328.1h1.0v1.0h-1.0zM180.6 321.2h1.0v1.0h-1.0zM166.6 297.9h1.0v1.0h-1.0zM184.3 312.5h1.0v1.0h-1.0zM160.7 319.1h1.0v1.0h-1.0zM165.2 300.8h1.0v1.0h-1.0zM188.5 340.1h1.0v1.0h-1.0zM184.7 300.6h1.0v1.0h-1.0zM165.1 345.7h1.0v1.0h-1.0zM160.2 322.0h1.0v1.0h-1.0zM184.4 339.5h1.0v1.0h-1.0zM172.5 339.7h1.0v1.0h-1.0zM161.9 324.7h1.0v1.0h-1.0zM181.4 288.4h1.0v1.0h-1.0zM159.1 340.8h1.0v1.0h-1.0zM188.9 330.1h1.0v1.0h-1.0zM175.1 348.2h1.0v1.0h-1.0zM157.1 330.7h1.0v1.0h-1.0zM154.7 315.5h1.0v1.0h-1.0zM171.0 328.8h1.0v1.0h-1.0zM186.0 289.6h1.0v1.0h-1.0zM181.3 330.8h1.0v1.0h-1.0zM193.6 349.3h1.0v1.0h-1.0zM186.7 351.8h1.0v1.0h-1.0zM164.9 299.4h1.0v1.0h-1.0zM177.1 297.2h1.0v1.0h-1.0zM171.3 322.7h1.0v1.0h-1.0zM163.0 329.5h1.0v1.0h-1.0zM153.8 343.6h1.0v1.0h-1.0zM194.0 350.5h1.0v1.0h-1.0zM187.6 297.1h1.0v1.0h-1.0zM188.1 351.7h1.0v1.0h-1.0zM192.4 342.0h1.0v1.0h-1.0zM162.8 333.4h1.0v1.0h-1.0zM153.2 323.6h1.0v1.0h-1.0zM162.3 307.1h1.0v1.0h-1.0zM171.9 307.1h1.0v1.0h-1.0zM159.7 287.0h1.0v1.0h-1.0zM187.4 307.3h1.0v1.0h-1.0zM191.4 330.6h1.0v1.0h-1.0zM175.8 296.7h1.0v1.0h-1.0zM162.7 314.8h1.0v1.0h-1.0zM186.0 344.1h1.0v1.0h-1.0zM180.4 295.4h1.0v1.0h-1.0zM157.9 336.6h1.0v1.0h-1.0zM153.7 311.0h1.0v1.0h-1.0zM174.5 313.2h1.0v1.0h-1.0zM180.1 289.9h1.0v1.0h-1.0zM153.8 344.7h1.0v1.0h-1.0zM153.4 340.6h1.0v1.0h-1.0zM193.4 351.3h1.0v1.0h-1.0zM162.4 349.4h1.0v1.0h-1.0zM155.3 321.1h1.0v1.0h-1.0zM177.2 309.6h1.0v1.0h-1.0zM168.6 328.3h1.0v1.0h-1.0zM159.6 344.7h1.0v1.0h-1.0zM161.7 290.3h1.0v1.0h-1.0zM172.7 301.6h1.0v1.0h-1.0zM175.2 326.9h1.0v1.0h-1.0zM177.3 343.0h1.0v1.0h-1.0zM190.9 347.3h1.0v1.0h-1.0zM187.3 347.2h1.0v1.0h-1.0zM180.7 343.6h1.0v1.0h-1.0zM155.1 332.6h1.0v1.0h-1.0zM178.9 297.1h1.0v1.0h-1.0zM185.0 313.0h1.0v1.0h-1.0zM177.0 351.8h1.0v1.0h-1.0zM179.2 292.7h1.0v1.0h-1.0zM190.3 342.3h1.0v1.0h-1.0zM165.1 316.7h1.0v1.0h-1.0zM167.2 309.7h1.0v1.0h-1.0zM174.3 304.1h1.0v1.0h-1.0zM186.4 335.3h1.0v1.0h-1.0zM155.9 293.7h1.0v1.0h-1.0zM161.1 319.5h1.0v1.0h-1.0zM174.6 304.3h1.0v1.0h-1.0zM174.2 316.2h1.0v1.0h-1.0zM171.4 332.0h1.0v1.0h-1.0zM164.2 301.5h1.0v1.0h-1.0zM187.4 308.4h1.0v1.0h-1.0zM185.7 349.5h1.0v1.0h-1.0zM161.1 320.2h1.0v1.0h-1.0zM168.6 329.5h1.0v1.0h-1.0zM161.0 330.2h1.0v1.0h-1.0zM174.2 331.1h1.0v1.0h-1.0zM154.7 304.7h1.0v1.0h-1.0zM181.1 331.1h1.0v1.0h-1.0zM165.2 314.0h1.0v1.0h-1.0zM190.4 344.7h1.0v1.0h-1.0zM188.0 295.6h1.0v1.0h-1.0zM158.6 327.6h1.0v1.0h-1.0zM155.7 294.9h1.0v1.0h-1.0zM154.0 344.1h1.0v1.0h-1.0zM185.5 340.4h1.0v1.0h-1.0zM192.9 295.1h1.0v1.0h-1.0zM170.6 303.7h1.0v1.0h-1.0zM161.5 297.5h1.0v1.0h-1.0zM174.9 319.9h1.0v1.0h-1.0zM170.7 323.0h1.0v1.0h-1.0zM173.1 350.2h1.0v1.0h-1.0zM168.5 319.3h1.0v1.0h-1.0zM169.7 294.1h1.0v1.0h-1.0zM191.4 289.9h1.0v1.0h-1.0zM191.0 299.4h1.0v1.0h-1.0zM169.7 288.7h1.0v1.0h-1.0zM182.0 286.4h1.0v1.0h-1.0zM180.9 341.1h1.0v1.0h-1.0zM160.6 296.7h1.0v1.0h-1.0zM188.2 283.8h1.0v1.0h-1.0zM187.0 348.2h1.0v1.0h-1.0zM189.0 303.1h1.0v1.0h-1.0zM174.7 295.0h1.0v1.0h-1.0zM190.0 333.0h1.0v1.0h-1.0zM173.3 290.4h1.0v1.0h-1.0zM166.3 333.1h1.0v1.0h-1.0zM183.5 312.6h1.0v1.0h-1.0zM157.9 325.1h1.0v1.0h-1.0zM157.6 296.0h1.0v1.0h-1.0zM190.9 292.1h1.0v1.0h-1.0zM180.6 344.4h1.0v1.0h-1.0zM181.2 349.0h1.0v1.0h-1.0zM190.5 336.6h1.0v1.0h-1.0zM194.8 327.8h1.0v1.0h-1.0zM167.5 318.8h1.0v1.0h-1.0zM194.2 300.0h1.0v1.0h-1.0zM157.8 287.7h1.0v1.0h-1.0zM174.3 296.2h1.0v1.0h-1.0zM164.1 307.9h1.0v1.0h-1.0zM157.4 297.9h1.0v1.0h-1.0zM188.4 314.5h1.0v1.0h-1.0zM162.8 338.3h1.0v1.0h-1.0zM160.1 349.0h1.0v1.0h-1.0zM185.0 289.7h1.0v1.0h-1.0zM176.6 302.8h1.0v1.0h-1.0zM194.6 336.8h1.0v1.0h-1.0zM184.4 344.3h1.0v1.0h-1.0zM167.2 320.8h1.0v1.0h-1.0zM193.1 322.6h1.0v1.0h-1.0zM159.3 329.0h1.0v1.0h-1.0zM192.8 314.5h1.0v1.0h-1.0zM183.6 286.4h1.0v1.0h-1.0zM194.9 300.3h1.0v1.0h-1.0zM167.5 289.5h1.0v1.0h-1.0zM161.7 344.2h1.0v1.0h-1.0zM171.3 319.6h1.0v1.0h-1.0zM159.3 313.8h1.0v1.0h-1.0zM163.2 288.1h1.0v1.0h-1.0zM194.1 341.2h1.0v1.0h-1.0zM162.8 304.1h1.0v1.0h-1.0zM165.7 324.8h1.0v1.0h-1.0zM159.6 296.6h1.0v1.0h-1.0zM192.4 287.8h1.0v1.0h-1.0zM178.1 310.6h1.0v1.0h-1.0zM164.4 350.2h1.0v1.0h-1.0zM185.8 313.9h1.0v1.0h-1.0zM186.2 295.7h1.0v1.0h-1.0zM191.5 294.0h1.0v1.0h-1.0zM188.2 292.0h1.0v1.0h-1.0zM175.2 291.7h1.0v1.0h-1.0zM161.7 333.1h1.0v1.0h-1.0zM173.0 301.7h1.0v1.0h-1.0zM172.9 339.5h1.0v1.0h-1.0zM171.0 329.6h1.0v1.0h-1.0zM185.0 325.5h1.0v1.0h-1.0zM170.3 316.6h1.0v1.0h-1.0zM166.2 313.0h1.0v1.0h-1.0zM179.8 344.5h1.0v1.0h-1.0zM166.8 342.1h1.0v1.0h-1.0zM166.4 337.1h1.0v1.0h-1.0zM165.4 339.2h1.0v1.0h-1.0zM175.5 338.8h1.0v1.0h-1.0zM162.7 292.6h1.0v1.0h-1.0zM178.4 326.9h1.0v1.0h-1.0zM162.8 327.9h1.0v1.0h-1.0zM187.2 322.7h1.0v1.0h-1.0zM159.4 313.6h1.0v1.0h-1.0zM159.0 333.3h1.0v1.0h-1.0zM173.1 298.4h1.0v1.0h-1.0zM153.0 300.6h1.0v1.0h-1.0zM165.8 335.1h1.0v1.0h-1.0zM180.5 298.2h1.0v1.0h-1.0zM161.9 295.7h1.0v1.0h-1.0zM166.6 293.3h1.0v1.0h-1.0zM172.6 320.4h1.0v1.0h-1.0zM192.2 288.2h1.0v1.0h-1.0zM154.6 291.9h1.0v1.0h-1.0zM187.7 313.6h1.0v1.0h-1.0zM190.2 308.0h1.0v1.0h-1.0zM167.4 289.6h1.0v1.0h-1.0zM152.6 319.7h1.0v1.0h-1.0zM183.9 345.3h1.0v1.0h-1.0zM156.4 331.4h1.0v1.0h-1.0zM169.8 291.7h1.0v1.0h-1.0zM155.1 348.5h1.0v1.0h-1.0zM179.5 331.7h1.0v1.0h-1.0zM158.5 350.6h1.0v1.0h-1.0zM163.7 291.9h1.0v1.0h-1.0zM188.0 343.1h1.0v1.0h-1.0zM160.6 338.6h1.0v1.0h-1.0zM156.4 311.5h1.0v1.0h-1.0zM178.6 303.8h1.0v1.0h-1.0zM163.5 282.2h1.0v1.0h-1.0zM174.5 347.3h1.0v1.0h-1.0zM163.9 312.6h1.0v1.0h-1.0zM176.6 333.4h1.0v1.0h-1.0zM154.8 296.3h1.0v1.0h-1.0zM158.5 335.9h1.0v1.0h-1.0zM180.7 344.0h1.0v1.0h-1.0zM164.5 316.5h1.0v1.0h-1.0zM179.4 283.1h1.0v1.0h-1.0zM152.3 325.9h1.0v1.0h-1.0zM180.1 332.0h1.0v1.0h-1.0zM190.0 317.8h1.0v1.0h-1.0zM177.4 337.8h1.0v1.0h-1.0zM176.8 338.5h1.0v1.0h-1.0zM172.4 332.6h1.0v1.0h-1.0zM173.5 327.1h1.0v1.0h-1.0zM188.3 293.4h1.0v1.0h-1.0zM181.2 312.1h1.0v1.0h-1.0zM153.2 325.3h1.0v1.0h-1.0zM180.6 333.2h1.0v1.0h-1.0zM188.1 297.4h1.0v1.0h-1.0zM191.4 329.7h1.0v1.0h-1.0zM170.1 327.7h1.0v1.0h-1.0zM160.5 331.3h1.0v1.0h-1.0zM173.7 319.4h1.0v1.0h-1.0zM154.5 286.7h1.0v1.0h-1.0zM187.8 329.1h1.0v1.0h-1.0zM185.8 296.5h1.0v1.0h-1.0zM161.6 289.1h1.0v1.0h-1.0zM161.0 301.5h1.0v1.0h-1.0zM182.1 341.5h1.0v1.0h-1.0zM194.5 315.4h1.0v1.0h-1.0zM161.2 283.0h1.0v1.0h-1.0zM167.0 295.2h1.0v1.0h-1.0zM191.1 340.4h1.0v1.0h-1.0zM176.3 320.7h1.0v1.0h-1.0zM175.5 314.2h1.0v1.0h-1.0zM156.5 324.0h1.0v1.0h-1.0zM193.5 329.1h1.0v1.0h-1.0zM177.3 318.2h1.0v1.0h-1.0zM164.6 323.7h1.0v1.0h-1.0zM183.2 346.9h1.0v1.0h-1.0zM171.1 336.4h1.0v1.0h-1.0zM159.5 334.2h1.0v1.0h-1.0zM186.9 330.1h1.0v1.0h-1.0zM188.8 300.3h1.0v1.0h-1.0zM166.6 322.3h1.0v1.0h-1.0zM167.2 348.9h1.0v1.0h-1.0zM191.0 332.0h1.0v1.0h-1.0zM186.8 334.4h1.0v1.0h-1.0zM184.3 343.0h1.0v1.0h-1.0zM191.6 342.5h1.0v1.0h-1.0zM195.0 301.4h1.0v1.0h-1.0zM178.6 289.0h1.0v1.0h-1.0zM189.5 336.5h1.0v1.0h-1.0zM162.9 313.3h1.0v1.0h-1.0zM170.4 318.5h1.0v1.0h-1.0zM159.9 290.6h1.0v1.0h-1.0zM169.7 302.3h1.0v1.0h-1.0zM158.7 325.2h1.0v1.0h-1.0zM167.8 325.4h1.0v1.0h-1.0zM175.6 331.2h1.0v1.0h-1.0zM182.5 287.8h1.0v1.0h-1.0zM162.2 325.3h1.0v1.0h-1.0zM161.7 295.2h1.0v1.0h-1.0zM173.0 341.7h1.0v1.0h-1.0zM152.9 325.3h1.0v1.0h-1.0zM183.0 350.4h1.0v1.0h-1.0zM155.1 290.3h1.0v1.0h-1.0zM194.7 327.4h1.0v1.0h-1.0zM157.1 315.2h1.0v1.0h-1.0zM193.4 331.9h1.0v1.0h-1.0zM153.6 287.3h1.0v1.0h-1.0zM166.9 296.2h1.0v1.0h-1.0zM191.9 328.1h1.0v1.0h-1.0zM192.2 301.9h1.0v1.0h-1.0zM167.0 318.8h1.0v1.0h-1.0zM173.6 334.1h1.0v1.0h-1.0zM163.0 299.2h1.0v1.0h-1.0zM178.5 324.6h1.0v1.0h-1.0zM174.9 328.6h1.0v1.0h-1.0zM184.6 316.8h1.0v1.0h-1.0zM185.7 334.2h1.0v1.0h-1.0zM174.3 348.5h1.0v1.0h-1.0zM170.4 301.6h1.0v1.0h-1.0zM163.5 292.9h1.0v1.0h-1.0zM155.6 346.0h1.0v1.0h-1.0zM192.3 350.6h1.0v1.0h-1.0zM189.6 341.6h1.0v1.0h-1.0zM172.5 318.2h1.0v1.0h-1.0zM172.0 328.1h1.0v1.0h-1.0zM170.4 329.5h1.0v1.0h-1.0zM191.1 350.7h1.0v1.0h-1.0zM192.4 291.5h1.0v1.0h-1.0zM182.0 302.6h1.0v1.0h-1.0zM156.4 321.9h1.0v1.0h-1.0zM154.6 286.9h1.0v1.0h-1.0zM172.7 322.4h1.0v1.0h-1.0zM170.1 345.8h1.0v1.0h-1.0zM162.5 347.6h1.0v1.0h-1.0zM156.7 345.6h1.0v1.0h-1.0zM155.1 351.1h1.0v1.0h-1.0zM190.0 348.9h1.0v1.0h-1.0zM183.0 315.6h1.0v1.0h-1.0zM152.1 305.0h1.0v1.0h-1.0zM180.0 302.5h1.0v1.0h-1.0zM166.3 313.8h1.0v1.0h-1.0zM178.5 342.5h1.0v1.0h-1.0zM179.9 306.2h1.0v1.0h-1.0zM160.0 334.2h1.0v1.0h-1.0zM161.8 288.7h1.0v1.0h-1.0zM161.0 310.4h1.0v1.0h-1.0zM165.8 324.4h1.0v1.0h-1.0zM165.6 312.7h1.0v1.0h-1.0zM179.8 292.1h1.0v1.0h-1.0zM181.4 298.3h1.0v1.0h-1.0zM194.2 294.1h1.0v1.0h-1.0zM176.4 328.3h1.0v1.0h-1.0zM188.3 344.8h1.0v1.0h-1.0zM165.3 331.6h1.0v1.0h-1.0zM170.0 327.5h1.0v1.0h-1.0zM181.3 338.5h1.0v1.0h-1.0zM161.7 337.0h1.0v1.0h-1.0zM159.6 334.8h1.0v1.0h-1.0zM173.4 295.5h1.0v1.0h-1.0zM171.9 336.0h1.0v1.0h-1.0zM177.4 351.5h1.0v1.0h-1.0zM192.0 310.4h1.0v1.0h-1.0zM187.4 349.1h1.0v1.0h-1.0zM178.0 337.2h1.0v1.0h-1.0zM158.5 283.7h1.0v1.0h-1.0zM173.7 331.9h1.0v1.0h-1.0zM158.5 347.5h1.0v1.0h-1.0zM192.6 291.0h1.0v1.0h-1.0zM192.3 294.2h1.0v1.0h-1.0zM158.2 342.7h1.0v1.0h-1.0zM164.7 340.5h1.0v1.0h-1.0zM165.8 343.0h1.0v1.0h-1.0zM152.8 345.0h1.0v1.0h-1.0zM179.7 324.2h1.0v1.0h-1.0zM162.8 283.8h1.0v1.0h-1.0zM163.2 336.0h1.0v1.0h-1.0zM180.9 331.9h1.0v1.0h-1.0zM179.3 323.1h1.0v1.0h-1.0zM185.4 322.6h1.0v1.0h-1.0zM190.4 345.0h1.0v1.0h-1.0zM168.6 345.5h1.0v1.0h-1.0zM156.2 306.2h1.0v1.0h-1.0zM152.5 285.7h1.0v1.0h-1.0zM152.2 306.5h1.0v1.0h-1.0zM171.3 342.0h1.0v1.0h-1.0zM192.0 287.1h1.0v1.0h-1.0zM167.5 300.1h1.0v1.0h-1.0zM177.0 349.5h1.0v1.0h-1.0zM175.6 309.9h1.0v1.0h-1.0zM156.4 306.5h1.0v1.0h-1.0zM161.8 343.8h1.0v1.0h-1.0zM182.2 325.0h1.0v1.0h-1.0zM168.5 287.2h1.0v1.0h-1.0zM161.5 340.1h1.0v1.0h-1.0zM195.0 351.0h1.0v1.0h-1.0zM165.5 348.8h1.0v1.0h-1.0zM156.3 338.5h1.0v1.0h-1.0zM168.5 292.5h1.0v1.0h-1.0zM168.2 334.5h1.0v1.0h-1.0zM188.4 350.4h1.0v1.0h-1.0zM152.0 289.9h1.0v1.0h-1.0zM194.0 299.4h1.0v1.0h-1.0zM163.8 326.4h1.0v1.0h-1.0zM170.9 323.2h1.0v1.0h-1.0zM193.0 334.7h1.0v1.0h-1.0zM171.4 321.0h1.0v1.0h-1.0zM158.1 346.6h1.0v1.0h-1.0zM159.7 326.4h1.0v1.0h-1.0zM163.2 347.2h1.0v1.0h-1.0zM166.1 289.0h1.0v1.0h-1.0zM190.0 290.6h1.0v1.0h-1.0zM189.1 308.4h1.0v1.0h-1.0zM191.9 308.0h1.0v1.0h-1.0zM190.5 338.6h1.0v1.0h-1.0zM181.3 296.9h1.0v1.0h-1.0zM159.3 314.4h1.0v1.0h-1.0zM152.1 305.2h1.0v1.0h-1.0zM157.4 334.3h1.0v1.0h-1.0zM156.9 322.4h1.0v1.0h-1.0zM160.6 295.9h1.0v1.0h-1.0zM174.9 341.0h1.0v1.0h-1.0zM177.3 293.4h1.0v1.0h-1.0zM190.3 319.1h1.0v1.0h-1.0zM157.3 321.4h1.0v1.0h-1.0zM164.1 326.9h1.0v1.0h-1.0zM167.2 335.8h1.0v1.0h-1.0zM182.0 282.0h1.0v1.0h-1.0zM166.8 300.3h1.0v1.0h-1.0zM174.8 335.6h1.0v1.0h-1.0zM190.3 339.0h1.0v1.0h-1.0zM190.5 335.5h1.0v1.0h-1.0zM173.4 290.6h1.0v1.0h-1.0zM163.5 294.6h1.0v1.0h-1.0zM194.9 315.3h1.0v1.0h-1.0zM181.8 351.2h1.0v1.0h-1.0zM182.6 330.6h1.0v1.0h-1.0zM165.4 286.8h1.0v1.0h-1.0zM163.9 287.4h1.0v1.0h-1.0zM190.0 336.1h1.0v1.0h-1.0zM162.0 286.4h1.0v1.0h-1.0zM182.6 323.5h1.0v1.0h-1.0zM160.4 291.2h1.0v1.0h-1.0zM187.0 289.3h1.0v1.0h-1.0zM182.4 335.1h1.0v1.0h-1.0zM174.8 346.5h1.0v1.0h-1.0zM174.3 328.6h1.0v1.0h-1.0zM191.9 287.6h1.0v1.0h-1.0zM163.5 330.5h1.0v1.0h-1.0zM187.6 312.7h1.0v1.0h-1.0zM175.8 324.0h1.0v1.0h-1.0zM155.9 304.9h1.0v1.0h-1.0zM162.1 289.0h1.0v1.0h-1.0zM183.0 348.8h1.0v1.0h-1.0zM189.2 312.6h1.0v1.0h-1.0zM176.4 339.0h1.0v1.0h-1.0zM166.8 300.4h1.0v1.0h-1.0zM193.6 318.0h1.0v1.0h-1.0zM162.9 310.9h1.0v1.0h-1.0zM186.5 330.5h1.0v1.0h-1.0zM160.1 334.0h1.0v1.0h-1.0zM194.0 347.7h1.0v1.0h-1.0zM179.3 325.6h1.0v1.0h-1.0zM170.6 334.9h1.0v1.0h-1.0zM194.0 307.3h1.0v1.0h-1.0zM181.7 333.1h1.0v1.0h-1.0zM177.6 321.5h1.0v1.0h-1.0zM163.5 311.9h1.0v1.0h-1.0zM165.7 349.5h1.0v1.0h-1.0zM195.0 329.8h1.0v1.0h-1.0zM160.5 293.7h1.0v1.0h-1.0zM180.5 344.5h1.0v1.0h-1.0zM190.9 314.8h1.0v1.0h-1.0zM153.2 312.9h1.0v1.0h-1.0zM169.4 293.8h1.0v1.0h-1.0zM186.3 343.1h1.0v1.0h-1.0zM170.4 303.7h1.0v1.0h-1.0zM188.8 321.9h1.0v1.0h-1.0zM162.5 318.7h1.0v1.0h-1.0zM156.7 286.5h1.0v1.0h-1.0zM190.6 281.4h1.0v1.0h-1.0zM159.2 316.0h1.0v1.0h-1.0zM186.5 296.7h1.0v1.0h-1.0zM179.4 332.4h1.0v1.0h-1.0zM180.3 325.1h1.0v1.0h-1.0zM157.4 291.2h1.0v1.0h-1.0zM192.6 337.4h1.0v1.0h-1.0zM189.9 308.5h1.0v1.0h-1.0zM176.3 331.4h1.0v1.0h-1.0zM160.3 318.2h1.0v1.0h-1.0zM156.5 292.4h1.0v1.0h-1.0zM190.4 312.8h1.0v1.0h-1.0zM177.5 343.9h1.0v1.0h-1.0zM182.2 344.1h1.0v1.0h-1.0zM160.7 323.5h1.0v1.0h-1.0zM180.2 292.9h1.0v1.0h-1.0zM162.6 297.5h1.0v1.0h-1.0zM194.6 290.8h1.0v1.0h-1.0zM163.1 333.6h1.0v1.0h-1.0zM178.6 303.9h1.0v1.0h-1.0zM163.3 322.9h1.0v1.0h-1.0zM185.0 342.8h1.0v1.0h-1.0zM176.6 300.1h1.0v1.0h-1.0zM171.0 333.4h1.0v1.0h-1.0zM187.2 302.9h1.0v1.0h-1.0zM153.9 294.8h1.0v1.0h-1.0zM186.6 291.7h1.0v1.0h-1.0zM168.0 350.5h1.0v1.0h-1.0zM189.4 333.2h1.0v1.0h-1.0zM161.7 307.2h1.0v1.0h-1.0zM189.3 314.6h1.0v1.0h-1.0zM156.2 334.2h1.0v1.0h-1.0zM153.1 332.4h1.0v1.0h-1.0zM173.5 299.7h1.0v1.0h-1.0zM166.0 309.0h1.0v1.0h-1.0zM179.4 344.6h1.0v1.0h-1.0zM182.1 303.5h1.0v1.0h-1.0zM186.6 330.7h1.0v1.0h-1.0zM168.3 327.2h1.0v1.0h-1.0zM182.1 351.3h1.0v1.0h-1.0zM193.3 348.8h1.0v1.0h-1.0zM152.5 350.2h1.0v1.0h-1.0zM161.5 333.5h1.0v1.0h-1.0zM192.6 288.8h1.0v1.0h-1.0zM155.3 296.0h1.0v1.0h-1.0zM166.8 344.0h1.0v1.0h-1.0zM171.6 337.3h1.0v1.0h-1.0zM166.9 300.5h1.0v1.0h-1.0zM157.1 292.3h1.0v1.0h-1.0zM172.1 333.3h1.0v1.0h-1.0zM161.9 339.2h1.0v1.0h-1.0zM153.6 304.8h1.0v1.0h-1.0zM162.5 342.2h1.0v1.0h-1.0zM179.6 285.3h1.0v1.0h-1.0zM174.8 347.6h1.0v1.0h-1.0zM190.4 323.4h1.0v1.0h-1.0zM181.5 310.9h1.0v1.0h-1.0zM173.8 308.7h1.0v1.0h-1.0zM155.2 326.1h1.0v1.0h-1.0zM183.5 310.9h1.0v1.0h-1.0zM166.0 344.4h1.0v1.0h-1.0zM153.7 334.8h1.0v1.0h-1.0zM152.8 315.5h1.0v1.0h-1.0zM188.6 329.1h1.0v1.0h-1.0zM183.6 339.8h1.0v1.0h-1.0zM180.8 289.5h1.0v1.0h-1.0zM162.6 333.4h1.0v1.0h-1.0zM163.6 345.4h1.0v1.0h-1.0zM172.2 315.0h1.0v1.0h-1.0zM157.0 323.3h1.0v1.0h-1.0zM155.9 340.7h1.0v1.0h-1.0zM166.8 327.8h1.0v1.0h-1.0zM160.6 320.2h1.0v1.0h-1.0zM166.0 280.9h1.0v1.0h-1.0zM161.5 305.2h1.0v1.0h-1.0zM189.3 298.0h1.0v1.0h-1.0zM161.1 336.4h1.0v1.0h-1.0zM158.8 309.6h1.0v1.0h-1.0zM153.3 349.1h1.0v1.0h-1.0zM155.7 329.2h1.0v1.0h-1.0zM181.9 285.1h1.0v1.0h-1.0zM152.6 303.5h1.0v1.0h-1.0zM188.1 343.8h1.0v1.0h-1.0zM175.3 311.9h1.0v1.0h-1.0zM152.8 292.8h1.0v1.0h-1.0zM159.0 319.3h1.0v1.0h-1.0zM178.0 332.0h1.0v1.0h-1.0zM173.1 298.4h1.0v1.0h-1.0zM159.4 350.3h1.0v1.0h-1.0zM168.4 295.0h1.0v1.0h-1.0zM182.5 307.8h1.0v1.0h-1.0zM172.4 329.1h1.0v1.0h-1.0zM155.2 290.5h1.0v1.0h-1.0zM153.6 284.2h1.0v1.0h-1.0zM178.6 332.2h1.0v1.0h-1.0zM166.7 335.7h1.0v1.0h-1.0zM181.1 286.4h1.0v1.0h-1.0zM156.7 315.0h1.0v1.0h-1.0zM193.9 344.2h1.0v1.0h-1.0zM159.3 336.6h1.0v1.0h-1.0zM161.9 319.2h1.0v1.0h-1.0zM161.7 288.1h1.0v1.0h-1.0zM162.9 325.3h1.0v1.0h-1.0zM167.4 294.5h1.0v1.0h-1.0zM160.7 293.9h1.0v1.0h-1.0zM185.0 318.0h1.0v1.0h-1.0zM177.2 296.1h1.0v1.0h-1.0zM168.5 335.3h1.0v1.0h-1.0zM161.7 331.7h1.0v1.0h-1.0zM160.5 306.5h1.0v1.0h-1.0zM173.0 295.7h1.0v1.0h-1.0zM162.2 291.3h1.0v1.0h-1.0zM186.3 346.5h1.0v1.0h-1.0zM177.4 296.4h1.0v1.0h-1.0zM183.4 288.4h1.0v1.0h-1.0zM161.8 339.3h1.0v1.0h-1.0zM182.0 301.0h1.0v1.0h-1.0zM162.5 286.2h1.0v1.0h-1.0zM193.3 285.9h1.0v1.0h-1.0zM165.8 329.1h1.0v1.0h-1.0zM164.3 322.0h1.0v1.0h-1.0zM156.1 319.0h1.0v1.0h-1.0zM189.0 311.7h1.0v1.0h-1.0zM194.3 295.4h1.0v1.0h-1.0zM158.0 315.7h1.0v1.0h-1.0zM158.2 344.7h1.0v1.0h-1.0zM174.5 341.2h1.0v1.0h-1.0zM162.2 294.6h1.0v1.0h-1.0zM169.0 344.7h1.0v1.0h-1.0zM159.5 290.0h1.0v1.0h-1.0zM170.9 340.0h1.0v1.0h-1.0zM171.8 316.0h1.0v1.0h-1.0zM156.9 300.5h1.0v1.0h-1.0zM181.2 316.8h1.0v1.0h-1.0zM169.6 351.2h1.0v1.0h-1.0zM193.5 311.2h1.0v1.0h-1.0zM182.3 295.2h1.0v1.0h-1.0zM179.3 308.5h1.0v1.0h-1.0zM176.2 345.6h1.0v1.0h-1.0zM166.7 291.0h1.0v1.0h-1.0zM172.8 306.6h1.0v1.0h-1.0zM185.1 306.4h1.0v1.0h-1.0zM185.4 336.9h1.0v1.0h-1.0zM179.6 326.8h1.0v1.0h-1.0zM170.0 327.7h1.0v1.0h-1.0zM188.6 293.5h1.0v1.0h-1.0zM185.8 300.7h1.0v1.0h-1.0zM152.2 299.1h1.0v1.0h-1.0zM166.8 348.4h1.0v1.0h-1.0zM174.7 341.1h1.0v1.0h-1.0zM164.4 311.8h1.0v1.0h-1.0zM171.5 308.8h1.0v1.0h-1.0zM157.9 283.6h1.0v1.0h-1.0zM189.5 334.5h1.0v1.0h-1.0zM152.4 323.4h1.0v1.0h-1.0zM178.2 318.6h1.0v1.0h-1.0zM188.7 344.1h1.0v1.0h-1.0zM157.1 334.4h1.0v1.0h-1.0zM160.9 317.0h1.0v1.0h-1.0zM169.9 304.5h1.0v1.0h-1.0zM180.3 298.2h1.0v1.0h-1.0zM193.5 333.7h1.0v1.0h-1.0zM179.7 322.2h1.0v1.0h-1.0zM181.6 340.5h1.0v1.0h-1.0zM189.1 296.1h1.0v1.0h-1.0zM160.2 307.6h1.0v1.0h-1.0zM187.7 349.3h1.0v1.0h-1.0zM166.6 345.8h1.0v1.0h-1.0zM173.0 299.1h1.0v1.0h-1.0zM194.9 351.8h1.0v1.0h-1.0zM153.4 317.2h1.0v1.0h-1.0zM162.1 329.6h1.0v1.0h-1.0zM160.5 290.2h1.0v1.0h-1.0zM156.5 332.7h1.0v1.0h-1.0zM194.2 294.4h1.0v1.0h-1.0zM160.8 300.7h1.0v1.0h-1.0zM186.6 320.9h1.0v1.0h-1.0zM178.4 345.7h1.0v1.0h-1.0zM177.0 284.3h1.0v1.0h-1.0zM190.0 310.0h1.0v1.0h-1.0zM164.0 308.8h1.0v1.0h-1.0zM181.8 313.2h1.0v1.0h-1.0zM169.9 294.3h1.0v1.0h-1.0zM157.5 333.1h1.0v1.0h-1.0zM183.1 300.3h1.0v1.0h-1.0zM180.3 320.0h1.0v1.0h-1.0zM192.2 323.6h1.0v1.0h-1.0zM193.1 321.3h1.0v1.0h-1.0zM154.8 293.3h1.0v1.0h-1.0zM174.0 291.3h1.0v1.0h-1.0zM161.2 319.6h1.0v1.0h-1.0zM166.8 301.2h1.0v1.0h-1.0zM171.2 294.7h1.0v1.0h-1.0zM184.3 350.5h1.0v1.0h-1.0zM158.0 321.2h1.0v1.0h-1.0zM155.1 350.9h1.0v1.0h-1.0zM179.4 308.8h1.0v1.0h-1.0zM177.8 292.2h1.0v1.0h-1.0zM187.5 348.4h1.0v1.0h-1.0zM156.1 346.1h1.0v1.0h-1.0zM161.3 302.9h1.0v1.0h-1.0zM178.1 333.6h1.0v1.0h-1.0zM190.0 319.5h1.0v1.0h-1.0zM173.7 314.9h1.0v1.0h-1.0zM192.3 349.4h1.0v1.0h-1.0zM171.4 299.7h1.0v1.0h-1.0zM156.3 314.0h1.0v1.0h-1.0zM172.2 333.8h1.0v1.0h-1.0zM153.7 309.8h1.0v1.0h-1.0zM180.5 330.7h1.0v1.0h-1.0zM177.7 292.5h1.0v1.0h-1.0zM188.9 297.1h1.0v1.0h-1.0zM189.7 351.0h1.0v1.0h-1.0zM187.8 307.7h1.0v1.0h-1.0zM152.9 324.4h1.0v1.0h-1.0zM172.9 292.8h1.0v1.0h-1.0zM153.6 287.7h1.0v1.0h-1.0zM178.3 340.7h1.0v1.0h-1.0zM177.0 327.9h1.0v1.0h-1.0zM189.3 303.9h1.0v1.0h-1.0zM191.8 313.7h1.0v1.0h-1.0zM161.9 351.3h1.0v1.0h-1.0zM156.0 305.9h1.0v1.0h-1.0zM173.8 331.4h1.0v1.0h-1.0zM158.7 297.8h1.0v1.0h-1.0zM182.3 294.6h1.0v1.0h-1.0zM155.4 317.3h1.0v1.0h-1.0zM153.1 303.1h1.0v1.0h-1.0zM170.3 307.4h1.0v1.0h-1.0zM174.3 325.7h1.0v1.0h-1.0zM163.2 306.6h1.0v1.0h-1.0zM182.0 348.2h1.0v1.0h-1.0zM159.0 293.1h1.0v1.0h-1.0zM175.2 322.9h1.0v1.0h-1.0zM191.2 321.6h1.0v1.0h-1.0zM172.5 288.8h1.0v1.0h-1.0zM159.5 301.9h1.0v1.0h-1.0zM187.6 307.1h1.0v1.0h-1.0zM167.0 345.3h1.0v1.0h-1.0zM158.6 333.6h1.0v1.0h-1.0zM157.3 305.1h1.0v1.0h-1.0zM158.5 296.1h1.0v1.0h-1.0zM175.7 336.5h1.0v1.0h-1.0zM167.0 309.2h1.0v1.0h-1.0zM188.5 348.3h1.0v1.0h-1.0zM185.5 322.0h1.0v1.0h-1.0zM158.1 324.7h1.0v1.0h-1.0zM156.7 288.8h1.0v1.0h-1.0zM161.2 332.4h1.0v1.0h-1.0zM181.0 344.9h1.0v1.0h-1.0zM176.7 310.2h1.0v1.0h-1.0zM171.1 339.2h1.0v1.0h-1.0zM168.0 320.5h1.0v1.0h-1.0zM175.4 340.0h1.0v1.0h-1.0zM169.3 341.4h1.0v1.0h-1.0zM153.8 304.3h1.0v1.0h-1.0zM154.4 349.5h1.0v1.0h-1.0zM168.4 329.3h1.0v1.0h-1.0zM184.6 340.4h1.0v1.0h-1.0zM192.2 298.9h1.0v1.0h-1.0zM191.2 329.5h1.0v1.0h-1.0zM192.1 322.9h1.0v1.0h-1.0zM172.3 336.0h1.0v1.0h-1.0zM179.9 339.5h1.0v1.0h-1.0zM167.7 305.4h1.0v1.0h-1.0zM165.8 323.1h1.0v1.0h-1.0zM168.0 327.9h1.0v1.0h-1.0zM186.0 332.6h1.0v1.0h-1.0zM158.8 299.3h1.0v1.0h-1.0zM175.3 302.4h1.0v1.0h-1.0zM159.0 311.2h1.0v1.0h-1.0zM156.7 297.9h1.0v1.0h-1.0zM155.4 290.9h1.0v1.0h-1.0zM159.5 286.9h1.0v1.0h-1.0zM173.4 293.9h1.0v1.0h-1.0zM169.7 351.6h1.0v1.0h-1.0zM187.8 288.5h1.0v1.0h-1.0zM193.5 348.3h1.0v1.0h-1.0zM161.9 285.0h1.0v1.0h-1.0zM194.6 311.5h1.0v1.0h-1.0zM168.9 312.0h1.0v1.0h-1.0zM179.0 304.2h1.0v1.0h-1.0zM178.3 325.7h1.0v1.0h-1.0zM184.0 301.1h1.0v1.0h-1.0zM190.9 347.4h1.0v1.0h-1.0zM153.4 319.1h1.0v1.0h-1.0zM163.4 327.8h1.0v1.0h-1.0zM171.7 331.1h1.0v1.0h-1.0zM167.3 329.1h1.0v1.0h-1.0zM184.5 330.4h1.0v1.0h-1.0zM170.5 347.7h1.0v1.0h-1.0zM182.5 344.3h1.0v1.0h-1.0zM190.0 306.5h1.0v1.0h-1.0zM163.9 312.4h1.0v1.0h-1.0zM172.5 303.5h1.0v1.0h-1.0zM160.1 326.8h1.0v1.0h-1.0zM172.8 302.9h1.0v1.0h-1.0zM153.8 346.9h1.0v1.0h-1.0zM168.8 329.1h1.0v1.0h-1.0zM187.0 328.2h1.0v1.0h-1.0zM160.4 287.9h1.0v1.0h-1.0zM176.5 341.3h1.0v1.0h-1.0zM172.3 345.1h1.0v1.0h-1.0zM154.0 328.5h1.0v1.0h-1.0zM184.1 310.7h1.0v1.0h-1.0zM183.5 343.6h1.0v1.0h-1.0zM178.7 305.5h1.0v1.0h-1.0zM183.6 341.6h1.0v1.0h-1.0zM182.2 313.2h1.0v1.0h-1.0zM191.0 306.6h1.0v1.0h-1.0zM157.4 283.7h1.0v1.0h-1.0zM187.0 282.9h1.0v1.0h-1.0zM194.6 330.9h1.0v1.0h-1.0zM184.5 342.9h1.0v1.0h-1.0zM190.6 287.7h1.0v1.0h-1.0zM171.1 350.0h1.0v1.0h-1.0zM184.8 337.7h1.0v1.0h-1.0zM182.7 326.4h1.0v1.0h-1.0zM183.6 344.4h1.0v1.0h-1.0zM155.6 302.0h1.0v1.0h-1.0zM175.5 338.9h1.0v1.0h-1.0zM184.3 337.0h1.0v1.0h-1.0zM154.7 331.1h1.0v1.0h-1.0zM156.1 295.5h1.0v1.0h-1.0zM190.9 292.5h1.0v1.0h-1.0zM192.6 316.8h1.0v1.0h-1.0zM155.4 299.0h1.0v1.0h-1.0zM190.5 324.8h1.0v1.0h-1.0zM166.5 349.6h1.0v1.0h-1.0zM172.4 290.8h1.0v1.0h-1.0zM178.3 329.7h1.0v1.0h-1.0zM182.1 311.1h1.0v1.0h-1.0zM155.9 304.6h1.0v1.0h-1.0zM177.9 334.8h1.0v1.0h-1.0zM153.5 292.1h1.0v1.0h-1.0zM188.7 306.8h1.0v1.0h-1.0zM191.0 336.4h1.0v1.0h-1.0zM176.1 306.1h1.0v1.0h-1.0zM167.8 328.1h1.0v1.0h-1.0zM154.6 328.7h1.0v1.0h-1.0zM159.4 318.6h1.0v1.0h-1.0zM165.2 349.3h1.0v1.0h-1.0zM185.5 329.1h1.0v1.0h-1.0zM154.4 335.9h1.0v1.0h-1.0zM174.8 339.6h1.0v1.0h-1.0zM158.5 324.3h1.0v1.0h-1.0zM185.5 334.2h1.0v1.0h-1.0zM186.6 297.0h1.0v1.0h-1.0zM154.3 288.1h1.0v1.0h-1.0zM173.7 321.8h1.0v1.0h-1.0zM187.3 292.8h1.0v1.0h-1.0zM185.9 286.0h1.0v1.0h-1.0zM157.6 310.1h1.0v1.0h-1.0zM175.3 349.7h1.0v1.0h-1.0zM177.6 321.4h1.0v1.0h-1.0zM160.2 343.0h1.0v1.0h-1.0zM181.9 347.1h1.0v1.0h-1.0zM182.1 338.6h1.0v1.0h-1.0zM182.9 336.1h1.0v1.0h-1.0zM187.2 345.8h1.0v1.0h-1.0zM178.6 305.9h1.0v1.0h-1.0zM189.6 343.6h1.0v1.0h-1.0zM181.6 304.4h1.0v1.0h-1.0zM193.7 333.1h1.0v1.0h-1.0zM153.0 292.8h1.0v1.0h-1.0zM175.6 335.7h1.0v1.0h-1.0zM183.3 337.0h1.0v1.0h-1.0zM190.8 333.9h1.0v1.0h-1.0zM175.0 350.5h1.0v1.0h-1.0zM157.4 335.8h1.0v1.0h-1.0zM186.4 337.0h1.0v1.0h-1.0zM155.3 348.3h1.0v1.0h-1.0zM188.5 284.5h1.0v1.0h-1.0zM178.8 304.2h1.0v1.0h-1.0zM170.8 297.4h1.0v1.0h-1.0zM180.6 331.0h1.0v1.0h-1.0zM177.7 293.6h1.0v1.0h-1.0zM166.1 312.7h1.0v1.0h-1.0zM183.9 317.0h1.0v1.0h-1.0zM168.3 300.1h1.0v1.0h-1.0zM176.5 351.4h1.0v1.0h-1.0zM177.8 294.3h1.0v1.0h-1.0zM164.6 338.5h1.0v1.0h-1.0zM160.5 338.9h1.0v1.0h-1.0zM165.4 309.8h1.0v1.0h-1.0zM161.1 311.6h1.0v1.0h-1.0zM193.0 338.7h1.0v1.0h-1.0zM167.5 317.6h1.0v1.0h-1.0zM192.4 308.6h1.0v1.0h-1.0zM178.0 311.2h1.0v1.0h-1.0zM168.0 313.7h1.0v1.0h-1.0zM175.2 308.6h1.0v1.0h-1.0zM165.5 328.4h1.0v1.0h-1.0zM167.3 304.9h1.0v1.0h-1.0zM173.0 345.2h1.0v1.0h-1.0zM177.8 345.6h1.0v1.0h-1.0zM179.4 303.5h1.0v1.0h-1.0zM183.1 286.7h1.0v1.0h-1.0zM153.9 319.3h1.0v1.0h-1.0zM181.6 327.5h1.0v1.0h-1.0zM162.2 337.1h1.0v1.0h-1.0zM178.5 340.5h1.0v1.0h-1.0zM165.1 298.8h1.0v1.0h-1.0zM159.7 338.5h1.0v1.0h-1.0zM153.1 287.1h1.0v1.0h-1.0zM181.0 338.7h1.0v1.0h-1.0zM153.5 314.9h1.0v1.0h-1.0zM158.6 304.4h1.0v1.0h-1.0zM152.3 304.8h1.0v1.0h-1.0zM179.6 343.0h1.0v1.0h-1.0zM161.4 348.8h1.0v1.0h-1.0zM172.8 338.7h1.0v1.0h-1.0zM187.6 343.4h1.0v1.0h-1.0zM170.6 283.2h1.0v1.0h-1.0zM160.8 318.0h1.0v1.0h-1.0zM175.4 335.9h1.0v1.0h-1.0zM155.6 327.7h1.0v1.0h-1.0zM163.4 291.8h1.0v1.0h-1.0zM179.9 287.8h1.0v1.0h-1.0zM187.3 297.2h1.0v1.0h-1.0zM176.2 349.1h1.0v1.0h-1.0zM155.7 338.1h1.0v1.0h-1.0zM180.5 303.2h1.0v1.0h-1.0zM183.0 323.7h1.0v1.0h-1.0zM173.9 294.7h1.0v1.0h-1.0zM156.3 349.8h1.0v1.0h-1.0zM185.7 347.8h1.0v1.0h-1.0zM179.4 287.3h1.0v1.0h-1.0zM169.0 334.6h1.0v1.0h-1.0zM173.5 301.8h1.0v1.0h-1.0zM175.9 299.8h1.0v1.0h-1.0zM172.8 293.2h1.0v1.0h-1.0zM155.9 299.0h1.0v1.0h-1.0zM172.5 349.2h1.0v1.0h-1.0zM173.1 313.7h1.0v1.0h-1.0zM167.6 322.0h1.0v1.0h-1.0zM194.5 317.9h1.0v1.0h-1.0zM163.5 321.3h1.0v1.0h-1.0zM178.3 334.5h1.0v1.0h-1.0zM192.5 319.9h1.0v1.0h-1.0zM176.7 284.4h1.0v1.0h-1.0zM162.0 289.1h1.0v1.0h-1.0zM156.9 300.4h1.0v1.0h-1.0zM182.6 297.4h1.0v1.0h-1.0zM156.4 296.8h1.0v1.0h-1.0zM162.9 296.0h1.0v1.0h-1.0zM165.6 337.1h1.0v1.0h-1.0zM183.4 300.6h1.0v1.0h-1.0zM169.9 345.5h1.0v1.0h-1.0zM156.1 286.7h1.0v1.0h-1.0zM169.3 325.7h1.0v1.0h-1.0zM176.8 302.2h1.0v1.0h-1.0zM173.9 346.2h1.0v1.0h-1.0zM171.0 315.2h1.0v1.0h-1.0zM170.5 322.5h1.0v1.0h-1.0zM169.0 337.8h1.0v1.0h-1.0zM191.1 351.6h1.0v1.0h-1.0zM187.9 285.5h1.0v1.0h-1.0zM178.4 320.0h1.0v1.0h-1.0zM177.3 337.6h1.0v1.0h-1.0zM180.2 310.6h1.0v1.0h-1.0zM190.1 300.5h1.0v1.0h-1.0zM194.1 328.9h1.0v1.0h-1.0zM185.0 308.0h1.0v1.0h-1.0zM191.7 328.6h1.0v1.0h-1.0zM193.7 332.5h1.0v1.0h-1.0zM187.7 323.4h1.0v1.0h-1.0zM176.3 309.9h1.0v1.0h-1.0zM181.1 286.2h1.0v1.0h-1.0zM180.8 326.8h1.0v1.0h-1.0zM168.2 318.8h1.0v1.0h-1.0zM153.8 310.3h1.0v1.0h-1.0zM182.7 296.2h1.0v1.0h-1.0zM177.4 316.6h1.0v1.0h-1.0zM166.7 348.0h1.0v1.0h-1.0zM162.5 343.7h1.0v1.0h-1.0zM157.5 308.6h1.0v1.0h-1.0zM170.3 301.8h1.0v1.0h-1.0zM170.8 331.4h1.0v1.0h-1.0zM191.3 295.5h1.0v1.0h-1.0zM166.2 339.5h1.0v1.0h-1.0zM170.1 333.7h1.0v1.0h-1.0zM170.3 307.0h1.0v1.0h-1.0zM186.0 314.3h1.0v1.0h-1.0zM162.3 286.5h1.0v1.0h-1.0zM160.3 336.1h1.0v1.0h-1.0zM188.3 308.7h1.0v1.0h-1.0zM152.0 333.3h1.0v1.0h-1.0zM154.0 309.5h1.0v1.0h-1.0zM158.8 292.3h1.0v1.0h-1.0zM158.1 305.5h1.0v1.0h-1.0zM170.3 347.2h1.0v1.0h-1.0zM169.0 300.7h1.0v1.0h-1.0zM184.1 347.0h1.0v1.0h-1.0zM173.5 334.5h1.0v1.0h-1.0zM194.0 299.2h1.0v1.0h-1.0zM159.0 332.3h1.0v1.0h-1.0zM153.1 309.4h1.0v1.0h-1.0zM175.8 336.8h1.0v1.0h-1.0zM159.4 291.5h1.0v1.0h-1.0zM176.4 328.4h1.0v1.0h-1.0zM171.9 327.8h1.0v1.0h-1.0zM175.2 345.5h1.0v1.0h-1.0zM175.2 339.1h1.0v1.0h-1.0zM160.1 287.1h1.0v1.0h-1.0zM171.8 324.3h1.0v1.0h-1.0zM189.8 282.7h1.0v1.0h-1.0zM165.2 286.6h1.0v1.0h-1.0zM162.2 330.1h1.0v1.0h-1.0zM167.8 331.2h1.0v1.0h-1.0zM193.9 303.0h1.0v1.0h-1.0zM185.9 306.0h1.0v1.0h-1.0zM182.5 289.3h1.0v1.0h-1.0zM167.7 324.1h1.0v1.0h-1.0zM166.9 319.7h1.0v1.0h-1.0zM193.2 292.2h1.0v1.0h-1.0zM189.2 303.0h1.0v1.0h-1.0zM180.1 290.5h1.0v1.0h-1.0zM191.2 336.1h1.0v1.0h-1.0zM179.6 347.3h1.0v1.0h-1.0zM169.3 286.4h1.0v1.0h-1.0zM153.5 303.3h1.0v1.0h-1.0zM178.7 322.1h1.0v1.0h-1.0zM166.6 339.3h1.0v1.0h-1.0zM171.4 326.9h1.0v1.0h-1.0zM166.2 336.3h1.0v1.0h-1.0zM163.1 296.0h1.0v1.0h-1.0zM175.6 316.5h1.0v1.0h-1.0zM154.8 318.6h1.0v1.0h-1.0zM157.7 290.1h1.0v1.0h-1.0zM190.2 334.7h1.0v1.0h-1.0zM165.0 325.4h1.0v1.0h-1.0zM179.3 351.5h1.0v1.0h-1.0zM153.6 314.4h1.0v1.0h-1.0zM165.3 296.8h1.0v1.0h-1.0zM186.9 331.3h1.0v1.0h-1.0zM163.1 310.6h1.0v1.0h-1.0zM180.5 288.1h1.0v1.0h-1.0zM175.5 326.2h1.0v1.0h-1.0zM193.3 290.2h1.0v1.0h-1.0zM188.3 321.9h1.0v1.0h-1.0zM180.0 348.2h1.0v1.0h-1.0zM180.4 339.0h1.0v1.0h-1.0zM184.1 330.2h1.0v1.0h-1.0zM182.4 329.9h1.0v1.0h-1.0zM164.3 316.0h1.0v1.0h-1.0zM164.7 342.4h1.0v1.0h-1.0zM178.5 312.1h1.0v1.0h-1.0zM181.8 342.8h1.0v1.0h-1.0zM170.9 335.2h1.0v1.0h-1.0zM179.0 308.3h1.0v1.0h-1.0zM159.3 322.8h1.0v1.0h-1.0zM194.8 348.2h1.0v1.0h-1.0zM155.9 297.5h1.0v1.0h-1.0zM165.6 312.0h1.0v1.0h-1.0zM189.3 293.4h1.0v1.0h-1.0zM187.7 343.0h1.0v1.0h-1.0zM162.4 332.0h1.0v1.0h-1.0zM194.6 345.7h1.0v1.0h-1.0zM166.0 296.6h1.0v1.0h-1.0zM173.8 331.3h1.0v1.0h-1.0zM192.1 319.7h1.0v1.0h-1.0zM162.8 344.3h1.0v1.0h-1.0zM192.9 295.9h1.0v1.0h-1.0zM160.1 292.0h1.0v1.0h-1.0zM189.7 335.1h1.0v1.0h-1.0zM184.9 331.3h1.0v1.0h-1.0zM180.0 344.2h1.0v1.0h-1.0zM194.7 292.7h1.0v1.0h-1.0zM163.3 346.1h1.0v1.0h-1.0zM187.1 346.5h1.0v1.0h-1.0zM180.5 309.8h1.0v1.0h-1.0zM182.4 342.8h1.0v1.0h-1.0zM176.5 342.1h1.0v1.0h-1.0zM160.2 289.5h1.0v1.0h-1.0zM157.9 351.5h1.0v1.0h-1.0zM189.1 295.6h1.0v1.0h-1.0zM180.4 296.2h1.0v1.0h-1.0zM156.7 292.5h1.0v1.0h-1.0zM180.6 349.6h1.0v1.0h-1.0zM154.4 330.0h1.0v1.0h-1.0zM159.5 324.5h1.0v1.0h-1.0zM175.0 345.7h1.0v1.0h-1.0zM171.3 338.1h1.0v1.0h-1.0zM172.6 287.6h1.0v1.0h-1.0zM157.9 296.7h1.0v1.0h-1.0zM175.2 335.7h1.0v1.0h-1.0zM194.1 286.6h1.0v1.0h-1.0zM156.9 328.7h1.0v1.0h-1.0zM158.0 340.3h1.0v1.0h-1.0zM184.1 329.5h1.0v1.0h-1.0zM169.4 346.5h1.0v1.0h-1.0zM156.7 309.7h1.0v1.0h-1.0zM179.9 300.9h1.0v1.0h-1.0zM191.9 283.0h1.0v1.0h-1.0zM190.4 343.8h1.0v1.0h-1.0zM163.8 318.5h1.0v1.0h-1.0zM155.4 340.2h1.0v1.0h-1.0zM175.8 289.4h1.0v1.0h-1.0zM158.9 284.9h1.0v1.0h-1.0zM178.3 333.4h1.0v1.0h-1.0zM180.9 284.0h1.0v1.0h-1.0zM159.7 330.5h1.0v1.0h-1.0zM160.4 320.5h1.0v1.0h-1.0zM153.0 329.1h1.0v1.0h-1.0zM177.0 339.0h1.0v1.0h-1.0zM191.4 303.0h1.0v1.0h-1.0zM188.9 322.8h1.0v1.0h-1.0zM180.1 293.8h1.0v1.0h-1.0zM152.4 334.2h1.0v1.0h-1.0zM175.3 292.4h1.0v1.0h-1.0zM189.5 319.7h1.0v1.0h-1.0zM171.2 291.3h1.0v1.0h-1.0zM177.3 304.4h1.0v1.0h-1.0zM153.5 334.7h1.0v1.0h-1.0zM181.0 309.1h1.0v1.0h-1.0zM178.3 305.5h1.0v1.0h-1.0zM188.4 333.5h1.0v1.0h-1.0zM155.3 339.6h1.0v1.0h-1.0zM180.4 326.8h1.0v1.0h-1.0zM172.7 319.7h1.0v1.0h-1.0zM169.2 292.9h1.0v1.0h-1.0zM193.9 317.5h1.0v1.0h-1.0zM168.6 295.7h1.0v1.0h-1.0zM157.2 330.8h1.0v1.0h-1.0zM171.5 299.6h1.0v1.0h-1.0zM153.3 331.6h1.0v1.0h-1.0zM169.4 319.5h1.0v1.0h-1.0zM177.3 301.5h1.0v1.0h-1.0zM152.7 338.3h1.0v1.0h-1.0zM194.2 302.8h1.0v1.0h-1.0zM157.7 282.1h1.0v1.0h-1.0zM191.6 331.6h1.0v1.0h-1.0zM180.5 295.9h1.0v1.0h-1.0zM188.1 295.8h1.0v1.0h-1.0zM159.6 341.1h1.0v1.0h-1.0zM181.6 325.2h1.0v1.0h-1.0zM168.0 326.8h1.0v1.0h-1.0zM192.4 303.4h1.0v1.0h-1.0zM168.9 335.4h1.0v1.0h-1.0zM173.6 313.3h1.0v1.0h-1.0zM171.3 344.1h1.0v1.0h-1.0zM168.7 308.0h1.0v1.0h-1.0zM168.8 329.4h1.0v1.0h-1.0zM192.0 309.2h1.0v1.0h-1.0zM159.4 284.1h1.0v1.0h-1.0zM185.3 339.0h1.0v1.0h-1.0zM174.3 305.9h1.0v1.0h-1.0zM165.5 290.0h1.0v1.0h-1.0zM172.5 345.8h1.0v1.0h-1.0zM173.1 349.5h1.0v1.0h-1.0zM174.1 326.5h1.0v1.0h-1.0zM175.4 327.7h1.0v1.0h-1.0zM162.9 345.3h1.0v1.0h-1.0zM172.2 340.5h1.0v1.0h-1.0zM178.2 348.0h1.0v1.0h-1.0zM165.2 335.5h1.0v1.0h-1.0zM190.4 323.4h1.0v1.0h-1.0zM187.4 330.6h1.0v1.0h-1.0zM180.2 326.5h1.0v1.0h-1.0zM186.2 316.8h1.0v1.0h-1.0zM173.0 301.7h1.0v1.0h-1.0zM181.1 296.8h1.0v1.0h-1.0zM191.2 334.4h1.0v1.0h-1.0zM178.5 321.5h1.0v1.0h-1.0zM179.2 328.4h1.0v1.0h-1.0zM191.7 328.0h1.0v1.0h-1.0zM154.2 334.9h1.0v1.0h-1.0zM189.6 299.4h1.0v1.0h-1.0zM156.4 300.9h1.0v1.0h-1.0zM166.8 349.4h1.0v1.0h-1.0zM180.1 296.2h1.0v1.0h-1.0zM183.4 331.6h1.0v1.0h-1.0zM164.3 290.8h1.0v1.0h-1.0zM164.9 314.7h1.0v1.0h-1.0zM179.6 313.9h1.0v1.0h-1.0zM173.5 321.1h1.0v1.0h-1.0zM160.4 289.5h1.0v1.0h-1.0zM167.4 333.1h1.0v1.0h-1.0zM190.2 285.7h1.0v1.0h-1.0zM173.4 328.7h1.0v1.0h-1.0zM158.3 345.6h1.0v1.0h-1.0zM166.5 306.7h1.0v1.0h-1.0zM165.2 304.2h1.0v1.0h-1.0zM194.0 326.2h1.0v1.0h-1.0zM190.9 331.9h1.0v1.0h-1.0zM186.2 340.8h1.0v1.0h-1.0zM156.7 323.6h1.0v1.0h-1.0zM192.0 337.3h1.0v1.0h-1.0zM155.6 306.4h1.0v1.0h-1.0zM192.1 338.4h1.0v1.0h-1.0zM158.1 306.2h1.0v1.0h-1.0zM155.2 328.4h1.0v1.0h-1.0zM188.2 321.4h1.0v1.0h-1.0zM159.6 308.6h1.0v1.0h-1.0zM187.9 351.7h1.0v1.0h-1.0zM191.0 285.5h1.0v1.0h-1.0zM155.4 293.5h1.0v1.0h-1.0zM167.6 343.8h1.0v1.0h-1.0zM194.8 305.7h1.0v1.0h-1.0zM179.1 342.2h1.0v1.0h-1.0zM162.2 288.9h1.0v1.0h-1.0zM156.1 311.8h1.0v1.0h-1.0zM185.3 339.6h1.0v1.0h-1.0zM176.9 301.4h1.0v1.0h-1.0zM177.2 335.6h1.0v1.0h-1.0zM166.7 289.1h1.0v1.0h-1.0zM172.0 318.4h1.0v1.0h-1.0zM155.0 298.0h1.0v1.0h-1.0zM157.5 337.9h1.0v1.0h-1.0zM187.7 330.9h1.0v1.0h-1.0zM189.9 310.7h1.0v1.0h-1.0zM165.4 285.0h1.0v1.0h-1.0zM194.8 316.3h1.0v1.0h-1.0zM181.2 337.1h1.0v1.0h-1.0zM178.1 324.7h1.0v1.0h-1.0zM187.6 315.9h1.0v1.0h-1.0zM168.7 286.7h1.0v1.0h-1.0zM170.9 325.7h1.0v1.0h-1.0zM194.3 294.5h1.0v1.0h-1.0zM164.0 305.0h1.0v1.0h-1.0zM154.1 296.7h1.0v1.0h-1.0zM154.6 328.7h1.0v1.0h-1.0zM169.9 328.6h1.0v1.0h-1.0zM186.6 296.6h1.0v1.0h-1.0zM181.2 286.0h1.0v1.0h-1.0zM187.9 305.9h1.0v1.0h-1.0zM155.8 327.8h1.0v1.0h-1.0zM158.5 313.8h1.0v1.0h-1.0zM155.2 333.6h1.0v1.0h-1.0zM160.1 340.0h1.0v1.0h-1.0zM191.7 324.3h1.0v1.0h-1.0zM170.2 348.3h1.0v1.0h-1.0zM168.8 307.3h1.0v1.0h-1.0zM179.1 351.0h1.0v1.0h-1.0zM188.0 326.9h1.0v1.0h-1.0zM185.9 333.4h1.0v1.0h-1.0zM183.8 308.0h1.0v1.0h-1.0zM190.6 322.0h1.0v1.0h-1.0zM164.3 343.7h1.0v1.0h-1.0zM182.7 330.1h1.0v1.0h-1.0zM184.6 291.4h1.0v1.0h-1.0zM159.5 291.7h1.0v1.0h-1.0zM164.2 335.1h1.0v1.0h-1.0zM158.7 286.3h1.0v1.0h-1.0zM168.2 290.1h1.0v1.0h-1.0zM188.6 313.5h1.0v1.0h-1.0zM188.6 346.5h1.0v1.0h-1.0zM166.2 288.9h1.0v1.0h-1.0zM189.5 307.0h1.0v1.0h-1.0zM160.2 346.0h1.0v1.0h-1.0zM163.0 339.2h1.0v1.0h-1.0zM158.2 313.5h1.0v1.0h-1.0zM189.1 325.5h1.0v1.0h-1.0zM188.3 346.7h1.0v1.0h-1.0zM177.9 327.9h1.0v1.0h-1.0zM194.5 286.2h1.0v1.0h-1.0zM180.5 346.6h1.0v1.0h-1.0zM159.2 306.7h1.0v1.0h-1.0zM189.4 340.9h1.0v1.0h-1.0zM181.2 348.9h1.0v1.0h-1.0zM166.1 309.1h1.0v1.0h-1.0zM178.9 321.0h1.0v1.0h-1.0zM161.9 319.2h1.0v1.0h-1.0zM176.5 344.0h1.0v1.0h-1.0zM174.0 299.7h1.0v1.0h-1.0zM182.4 321.6h1.0v1.0h-1.0zM188.0 328.5h1.0v1.0h-1.0zM187.2 344.3h1.0v1.0h-1.0zM156.8 297.4h1.0v1.0h-1.0zM192.8 315.9h1.0v1.0h-1.0zM187.2 341.3h1.0v1.0h-1.0zM164.6 336.6h1.0v1.0h-1.0zM165.1 307.5h1.0v1.0h-1.0zM168.1 343.1h1.0v1.0h-1.0zM169.0 294.0h1.0v1.0h-1.0zM194.9 310.6h1.0v1.0h-1.0zM159.4 288.0h1.0v1.0h-1.0zM188.2 351.1h1.0v1.0h-1.0zM179.2 311.6h1.0v1.0h-1.0zM167.7 346.1h1.0v1.0h-1.0zM173.9 340.7h1.0v1.0h-1.0zM168.3 339.6h1.0v1.0h-1.0zM157.9 332.8h1.0v1.0h-1.0zM156.5 286.3h1.0v1.0h-1.0zM180.9 321.9h1.0v1.0h-1.0zM185.7 333.3h1.0v1.0h-1.0zM179.7 342.7h1.0v1.0h-1.0zM171.1 330.5h1.0v1.0h-1.0zM177.0 346.1h1.0v1.0h-1.0zM156.3 309.6h1.0v1.0h-1.0zM192.9 302.4h1.0v1.0h-1.0zM162.7 299.5h1.0v1.0h-1.0zM156.5 295.1h1.0v1.0h-1.0zM193.8 344.4h1.0v1.0h-1.0zM181.3 326.6h1.0v1.0h-1.0zM186.2 288.6h1.0v1.0h-1.0zM155.3 285.9h1.0v1.0h-1.0zM152.2 309.4h1.0v1.0h-1.0zM173.1 339.7h1.0v1.0h-1.0zM188.2 293.0h1.0v1.0h-1.0zM191.0 313.7h1.0v1.0h-1.0zM195.0 312.2h1.0v1.0h-1.0zM157.6 345.5h1.0v1.0h-1.0zM194.1 325.8h1.0v1.0h-1.0zM166.2 344.8h1.0v1.0h-1.0zM159.5 296.0h1.0v1.0h-1.0zM166.7 286.9h1.0v1.0h-1.0zM168.9 308.4h1.0v1.0h-1.0zM191.8 322.8h1.0v1.0h-1.0zM191.2 351.1h1.0v1.0h-1.0zM153.6 332.2h1.0v1.0h-1.0zM179.1 341.3h1.0v1.0h-1.0zM153.8 338.7h1.0v1.0h-1.0zM183.4 325.5h1.0v1.0h-1.0zM176.0 319.2h1.0v1.0h-1.0zM153.6 291.8h1.0v1.0h-1.0zM152.0 296.3h1.0v1.0h-1.0zM194.2 306.8h1.0v1.0h-1.0zM157.6 346.2h1.0v1.0h-1.0zM173.0 313.9h1.0v1.0h-1.0zM193.1 328.2h1.0v1.0h-1.0zM191.4 305.2h1.0v1.0h-1.0zM168.6 340.2h1.0v1.0h-1.0zM165.4 340.1h1.0v1.0h-1.0zM187.8 285.3h1.0v1.0h-1.0zM179.9 328.3h1.0v1.0h-1.0zM168.3 306.6h1.0v1.0h-1.0zM153.3 319.2h1.0v1.0h-1.0zM170.5 336.5h1.0v1.0h-1.0zM152.6 329.7h1.0v1.0h-1.0zM179.5 294.3h1.0v1.0h-1.0zM188.5 338.1h1.0v1.0h-1.0zM187.7 335.6h1.0v1.0h-1.0zM180.5 324.4h1.0v1.0h-1.0zM177.8 338.0h1.0v1.0h-1.0zM159.2 305.2h1.0v1.0h-1.0zM185.4 337.5h1.0v1.0h-1.0zM162.8 342.2h1.0v1.0h-1.0zM185.1 313.5h1.0v1.0h-1.0zM180.4 305.4h1.0v1.0h-1.0zM152.4 296.1h1.0v1.0h-1.0zM169.8 294.7h1.0v1.0h-1.0zM167.3 313.7h1.0v1.0h-1.0zM164.5 339.0h1.0v1.0h-1.0zM192.6 341.7h1.0v1.0h-1.0zM190.2 312.4h1.0v1.0h-1.0zM177.5 331.4h1.0v1.0h-1.0zM188.9 344.3h1.0v1.0h-1.0zM166.1 345.4h1.0v1.0h-1.0zM157.9 282.6h1.0v1.0h-1.0zM174.7 336.9h1.0v1.0h-1.0zM168.3 318.4h1.0v1.0h-1.0zM180.4 330.7h1.0v1.0h-1.0zM181.1 313.7h1.0v1.0h-1.0zM178.4 290.8h1.0v1.0h-1.0zM170.3 335.3h1.0v1.0h-1.0zM191.9 296.4h1.0v1.0h-1.0zM174.9 346.4h1.0v1.0h-1.0zM163.7 313.4h1.0v1.0h-1.0zM173.1 290.0h1.0v1.0h-1.0zM192.8 302.7h1.0v1.0h-1.0zM191.7 301.4h1.0v1.0h-1.0zM165.1 324.1h1.0v1.0h-1.0zM180.2 306.5h1.0v1.0h-1.0zM185.6 351.0h1.0v1.0h-1.0zM175.7 336.0h1.0v1.0h-1.0zM193.7 300.5h1.0v1.0h-1.0zM159.3 287.0h1.0v1.0h-1.0zM175.0 306.4h1.0v1.0h-1.0zM177.3 291.8h1.0v1.0h-1.0zM166.5 317.7h1.0v1.0h-1.0zM154.3 314.5h1.0v1.0h-1.0zM177.8 294.9h1.0v1.0h-1.0zM186.9 340.1h1.0v1.0h-1.0zM173.0 318.8h1.0v1.0h-1.0zM190.2 343.4h1.0v1.0h-1.0zM169.5 306.8h1.0v1.0h-1.0zM171.4 331.9h1.0v1.0h-1.0zM175.4 341.3h1.0v1.0h-1.0zM158.1 334.5h1.0v1.0h-1.0zM178.9 351.1h1.0v1.0h-1.0zM168.7 305.9h1.0v1.0h-1.0zM167.3 329.3h1.0v1.0h-1.0zM194.3 284.8h1.0v1.0h-1.0zM162.7 326.3h1.0v1.0h-1.0zM169.0 304.5h1.0v1.0h-1.0zM158.4 300.0h1.0v1.0h-1.0zM157.0 343.2h1.0v1.0h-1.0zM180.1 304.0h1.0v1.0h-1.0zM164.4 324.1h1.0v1.0h-1.0zM159.1 296.5h1.0v1.0h-1.0zM157.9 342.5h1.0v1.0h-1.0zM176.3 351.4h1.0v1.0h-1.0zM182.2 283.4h1.0v1.0h-1.0zM190.0 283.3h1.0v1.0h-1.0zM161.3 302.3h1.0v1.0h-1.0zM165.6 297.5h1.0v1.0h-1.0zM179.8 317.9h1.0v1.0h-1.0zM179.9 292.7h1.0v1.0h-1.0zM173.3 310.5h1.0v1.0h-1.0zM174.2 343.5h1.0v1.0h-1.0zM187.5 336.1h1.0v1.0h-1.0zM194.0 286.4h1.0v1.0h-1.0zM193.8 302.4h1.0v1.0h-1.0zM193.0 331.0h1.0v1.0h-1.0zM162.0 326.4h1.0v1.0h-1.0zM184.6 343.4h1.0v1.0h-1.0zM175.6 324.9h1.0v1.0h-1.0zM155.9 347.8h1.0v1.0h-1.0zM176.0 309.0h1.0v1.0h-1.0zM161.7 350.8h1.0v1.0h-1.0zM166.1 314.9h1.0v1.0h-1.0zM189.6 347.8h1.0v1.0h-1.0zM178.9 329.1h1.0v1.0h-1.0zM174.8 332.9h1.0v1.0h-1.0zM161.7 331.7h1.0v1.0h-1.0zM156.3 347.9h1.0v1.0h-1.0zM163.9 330.5h1.0v1.0h-1.0zM156.1 283.8h1.0v1.0h-1.0zM194.6 343.9h1.0v1.0h-1.0zM185.6 294.9h1.0v1.0h-1.0zM168.1 300.2h1.0v1.0h-1.0zM191.3 343.5h1.0v1.0h-1.0zM164.7 308.7h1.0v1.0h-1.0zM187.1 350.6h1.0v1.0h-1.0zM171.1 287.1h1.0v1.0h-1.0zM182.2 329.9h1.0v1.0h-1.0zM184.0 288.1h1.0v1.0h-1.0zM158.9 308.8h1.0v1.0h-1.0zM193.1 312.8h1.0v1.0h-1.0zM193.0 345.7h1.0v1.0h-1.0zM179.1 289.9h1.0v1.0h-1.0zM157.9 347.9h1.0v1.0h-1.0zM167.1 351.6h1.0v1.0h-1.0zM159.7 346.3h1.0v1.0h-1.0zM183.2 335.4h1.0v1.0h-1.0zM153.8 343.2h1.0v1.0h-1.0zM171.7 341.9h1.0v1.0h-1.0zM180.8 317.8h1.0v1.0h-1.0zM195.0 325.8h1.0v1.0h-1.0zM158.8 340.9h1.0v1.0h-1.0zM177.9 331.5h1.0v1.0h-1.0zM186.5 311.0h1.0v1.0h-1.0zM168.0 295.4h1.0v1.0h-1.0zM188.8 351.3h1.0v1.0h-1.0zM193.0 331.9h1.0v1.0h-1.0zM174.3 337.1h1.0v1.0h-1.0zM175.6 282.9h1.0v1.0h-1.0zM154.2 315.6h1.0v1.0h-1.0zM153.1 315.1h1.0v1.0h-1.0zM169.5 283.9h1.0v1.0h-1.0zM191.6 342.7h1.0v1.0h-1.0zM185.4 308.4h1.0v1.0h-1.0zM185.3 290.2h1.0v1.0h-1.0zM184.7 327.8h1.0v1.0h-1.0zM183.6 337.8h1.0v1.0h-1.0zM157.3 340.6h1.0v1.0h-1.0zM175.3 293.4h1.0v1.0h-1.0zM169.8 321.5h1.0v1.0h-1.0zM163.8 337.3h1.0v1.0h-1.0zM158.4 290.6h1.0v1.0h-1.0zM191.7 343.2h1.0v1.0h-1.0zM182.9 330.2h1.0v1.0h-1.0zM153.4 309.8h1.0v1.0h-1.0zM157.3 309.6h1.0v1.0h-1.0zM176.7 328.8h1.0v1.0h-1.0zM176.0 320.7h1.0v1.0h-1.0zM188.6 316.7h1.0v1.0h-1.0zM192.4 328.5h1.0v1.0h-1.0zM156.4 351.6h1.0v1.0h-1.0zM185.1 313.8h1.0v1.0h-1.0zM161.2 331.7h1.0v1.0h-1.0zM169.4 334.8h1.0v1.0h-1.0zM191.2 322.0h1.0v1.0h-1.0zM183.6 307.1h1.0v1.0h-1.0zM164.0 326.0h1.0v1.0h-1.0zM155.4 299.1h1.0v1.0h-1.0zM187.4 292.0h1.0v1.0h-1.0zM193.3 290.8h1.0v1.0h-1.0zM185.6 326.5h1.0v1.0h-1.0zM164.3 287.9h1.0v1.0h-1.0zM180.3 302.8h1.0v1.0h-1.0zM186.7 310.0h1.0v1.0h-1.0zM188.5 292.7h1.0v1.0h-1.0zM170.6 346.8h1.0v1.0h-1.0zM178.5 314.2h1.0v1.0h-1.0zM160.3 344.4h1.0v1.0h-1.0zM179.4 339.4h1.0v1.0h-1.0zM180.0 292.2h1.0v1.0h-1.0zM155.2 287.2h1.0v1.0h-1.0zM153.5 343.5h1.0v1.0h-1.0zM164.4 323.1h1.0v1.0h-1.0zM168.3 343.7h1.0v1.0h-1.0zM158.4 342.9h1.0v1.0h-1.0zM185.7 334.7h1.0v1.0h-1.0zM173.5 318.5h1.0v1.0h-1.0zM187.5 325.3h1.0v1.0h-1.0zM191.1 287.1h1.0v1.0h-1.0zM159.5 305.4h1.0v1.0h-1.0zM188.5 290.4h1.0v1.0h-1.0zM164.1 324.9h1.0v1.0h-1.0zM181.5 341.8h1.0v1.0h-1.0zM194.6 338.5h1.0v1.0h-1.0zM187.5 314.5h1.0v1.0h-1.0zM162.4 326.7h1.0v1.0h-1.0zM191.4 303.0h1.0v1.0h-1.0zM173.6 336.8h1.0v1.0h-1.0zM164.9 305.6h1.0v1.0h-1.0zM190.6 349.1h1.0v1.0h-1.0zM156.8 322.4h1.0v1.0h-1.0zM160.4 283.0h1.0v1.0h-1.0zM155.9 335.8h1.0v1.0h-1.0zM161.5 324.2h1.0v1.0h-1.0zM170.4 333.4h1.0v1.0h-1.0zM172.6 295.5h1.0v1.0h-1.0zM188.2 349.6h1.0v1.0h-1.0zM156.5 345.7h1.0v1.0h-1.0zM166.2 343.2h1.0v1.0h-1.0zM164.9 345.9h1.0v1.0h-1.0zM176.9 308.2h1.0v1.0h-1.0zM166.4 338.7h1.0v1.0h-1.0zM183.4 304.2h1.0v1.0h-1.0zM186.3 291.4h1.0v1.0h-1.0zM159.0 293.6h1.0v1.0h-1.0zM173.2 339.9h1.0v1.0h-1.0zM168.5 322.6h1.0v1.0h-1.0zM162.3 349.8h1.0v1.0h-1.0zM166.3 341.6h1.0v1.0h-1.0zM163.1 346.0h1.0v1.0h-1.0zM177.1 347.4h1.0v1.0h-1.0zM156.3 296.9h1.0v1.0h-1.0zM163.4 337.3h1.0v1.0h-1.0zM169.1 333.3h1.0v1.0h-1.0zM172.8 293.2h1.0v1.0h-1.0zM192.7 290.6h1.0v1.0h-1.0zM172.6 294.7h1.0v1.0h-1.0zM180.0 294.5h1.0v1.0h-1.0zM166.5 311.7h1.0v1.0h-1.0zM175.2 340.4h1.0v1.0h-1.0zM177.8 289.6h1.0v1.0h-1.0zM157.4 284.7h1.0v1.0h-1.0zM170.0 290.6h1.0v1.0h-1.0zM167.8 296.5h1.0v1.0h-1.0zM181.7 337.4h1.0v1.0h-1.0zM186.3 334.2h1.0v1.0h-1.0zM179.9 338.9h1.0v1.0h-1.0zM162.2 300.4h1.0v1.0h-1.0zM186.9 337.7h1.0v1.0h-1.0zM174.7 346.6h1.0v1.0h-1.0zM176.1 322.2h1.0v1.0h-1.0zM176.7 298.3h1.0v1.0h-1.0zM176.4 316.2h1.0v1.0h-1.0zM185.4 348.7h1.0v1.0h-1.0zM194.6 303.4h1.0v1.0h-1.0zM189.0 351.9h1.0v1.0h-1.0zM194.8 311.5h1.0v1.0h-1.0zM178.0 322.7h1.0v1.0h-1.0zM173.7 320.4h1.0v1.0h-1.0zM182.3 293.4h1.0v1.0h-1.0zM194.0 348.8h1.0v1.0h-1.0zM194.4 304.3h1.0v1.0h-1.0zM180.1 293.6h1.0v1.0h-1.0zM180.3 316.5h1.0v1.0h-1.0zM168.9 328.2h1.0v1.0h-1.0zM160.8 338.3h1.0v1.0h-1.0zM185.9 291.7h1.0v1.0h-1.0zM175.5 288.0h1.0v1.0h-1.0zM187.2 347.1h1.0v1.0h-1.0zM160.1 308.6h1.0v1.0h-1.0zM173.2 287.0h1.0v1.0h-1.0zM178.1 299.6h1.0v1.0h-1.0zM169.8 298.4h1.0v1.0h-1.0zM187.5 312.1h1.0v1.0h-1.0zM170.4 286.2h1.0v1.0h-1.0zM155.7 300.4h1.0v1.0h-1.0zM189.4 309.2h1.0v1.0h-1.0zM154.1 344.3h1.0v1.0h-1.0zM182.0 348.2h1.0v1.0h-1.0zM189.6 301.0h1.0v1.0h-1.0zM187.5 314.7h1.0v1.0h-1.0zM189.3 329.5h1.0v1.0h-1.0zM180.0 304.8h1.0v1.0h-1.0zM191.1 344.4h1.0v1.0h-1.0zM185.0 303.8h1.0v1.0h-1.0zM162.7 336.4h1.0v1.0h-1.0zM179.6 313.2h1.0v1.0h-1.0zM152.4 295.6h1.0v1.0h-1.0zM168.1 318.5h1.0v1.0h-1.0zM167.4 299.8h1.0v1.0h-1.0zM173.8 345.4h1.0v1.0h-1.0zM167.9 329.1h1.0v1.0h-1.0zM192.0 284.4h1.0v1.0h-1.0zM194.6 319.0h1.0v1.0h-1.0zM157.3 326.2h1.0v1.0h-1.0zM170.8 333.6h1.0v1.0h-1.0zM157.5 332.0h1.0v1.0h-1.0zM177.9 311.2h1.0v1.0h-1.0zM167.2 338.4h1.0v1.0h-1.0zM179.5 287.6h1.0v1.0h-1.0zM184.0 345.1h1.0v1.0h-1.0zM153.4 290.5h1.0v1.0h-1.0zM152.5 326.1h1.0v1.0h-1.0zM175.6 290.4h1.0v1.0h-1.0zM183.9 348.3h1.0v1.0h-1.0zM163.7 345.5h1.0v1.0h-1.0zM189.6 301.6h1.0v1.0h-1.0zM184.5 316.4h1.0v1.0h-1.0zM181.1 338.3h1.0v1.0h-1.0zM162.4 326.3h1.0v1.0h-1.0zM167.2 337.8h1.0v1.0h-1.0zM194.2 287.8h1.0v1.0h-1.0zM182.1 328.6h1.0v1.0h-1.0zM192.9 322.4h1.0v1.0h-1.0zM190.5 350.4h1.0v1.0h-1.0zM181.9 314.4h1.0v1.0h-1.0zM158.3 318.4h1.0v1.0h-1.0zM194.4 324.1h1.0v1.0h-1.0zM178.9 290.6h1.0v1.0h-1.0zM154.9 328.5h1.0v1.0h-1.0zM175.2 345.8h1.0v1.0h-1.0zM161.9 284.1h1.0v1.0h-1.0zM184.8 290.5h1.0v1.0h-1.0zM160.3 304.5h1.0v1.0h-1.0zM186.0 343.3h1.0v1.0h-1.0zM176.0 293.1h1.0v1.0h-1.0zM179.3 318.8h1.0v1.0h-1.0zM175.2 310.2h1.0v1.0h-1.0zM164.9 284.9h1.0v1.0h-1.0zM191.8 336.0h1.0v1.0h-1.0zM167.9 326.3h1.0v1.0h-1.0zM171.4 308.0h1.0v1.0h-1.0zM191.8 327.0h1.0v1.0h-1.0zM160.1 351.3h1.0v1.0h-1.0zM166.9 291.8h1.0v1.0h-1.0zM183.5 296.1h1.0v1.0h-1.0zM168.6 305.5h1.0v1.0h-1.0zM166.3 351.1h1.0v1.0h-1.0zM162.4 305.3h1.0v1.0h-1.0zM189.5 296.0h1.0v1.0h-1.0zM172.8 305.3h1.0v1.0h-1.0zM180.5 310.2h1.0v1.0h-1.0zM164.3 289.9h1.0v1.0h-1.0zM157.6 313.0h1.0v1.0h-1.0zM181.0 331.8h1.0v1.0h-1.0zM192.8 292.8h1.0v1.0h-1.0zM186.9 349.2h1.0v1.0h-1.0zM178.3 284.7h1.0v1.0h-1.0zM164.2 346.6h1.0v1.0h-1.0zM182.9 299.9h1.0v1.0h-1.0zM183.5 325.9h1.0v1.0h-1.0zM165.9 318.2h1.0v1.0h-1.0zM187.1 332.8h1.0v1.0h-1.0zM188.4 314.0h1.0v1.0h-1.0zM165.1 284.4h1.0v1.0h-1.0zM170.0 293.0h1.0v1.0h-1.0zM191.3 305.0h1.0v1.0h-1.0zM171.3 306.6h1.0v1.0h-1.0zM159.7 342.2h1.0v1.0h-1.0zM179.3 329.7h1.0v1.0h-1.0zM185.4 290.3h1.0v1.0h-1.0zM152.9 305.7h1.0v1.0h-1.0zM190.3 285.7h1.0v1.0h-1.0zM188.2 316.6h1.0v1.0h-1.0zM164.7 283.6h1.0v1.0h-1.0zM177.8 335.8h1.0v1.0h-1.0zM156.3 336.1h1.0v1.0h-1.0zM156.7 290.5h1.0v1.0h-1.0zM184.2 330.8h1.0v1.0h-1.0zM161.0 311.4h1.0v1.0h-1.0zM177.5 334.2h1.0v1.0h-1.0zM172.1 293.6h1.0v1.0h-1.0zM174.4 343.2h1.0v1.0h-1.0zM162.8 290.3h1.0v1.0h-1.0zM165.0 297.2h1.0v1.0h-1.0zM156.4 326.1h1.0v1.0h-1.0zM166.4 294.0h1.0v1.0h-1.0zM179.1 297.2h1.0v1.0h-1.0zM175.3 296.2h1.0v1.0h-1.0zM162.2 318.5h1.0v1.0h-1.0zM157.1 282.2h1.0v1.0h-1.0zM168.6 309.0h1.0v1.0h-1.0zM159.7 324.9h1.0v1.0h-1.0zM185.6 309.4h1.0v1.0h-1.0zM190.8 323.8h1.0v1.0h-1.0zM191.4 340.2h1.0v1.0h-1.0zM186.9 296.0h1.0v1.0h-1.0zM193.0 293.5h1.0v1.0h-1.0zM163.9 333.1h1.0v1.0h-1.0zM182.5 314.4h1.0v1.0h-1.0zM162.3 324.8h1.0v1.0h-1.0zM178.1 292.2h1.0v1.0h-1.0zM156.7 350.5h1.0v1.0h-1.0zM173.6 337.5h1.0v1.0h-1.0zM188.8 346.9h1.0v1.0h-1.0zM167.9 303.5h1.0v1.0h-1.0zM176.4 304.8h1.0v1.0h-1.0zM170.0 301.5h1.0v1.0h-1.0zM177.0 288.0h1.0v1.0h-1.0zM170.1 308.4h1.0v1.0h-1.0zM169.5 323.4h1.0v1.0h-1.0zM166.0 287.6h1.0v1.0h-1.0zM174.3 288.9h1.0v1.0h-1.0zM172.2 293.2h1.0v1.0h-1.0zM183.4 287.6h1.0v1.0h-1.0zM170.4 297.9h1.0v1.0h-1.0zM158.7 348.5h1.0v1.0h-1.0zM176.8 327.2h1.0v1.0h-1.0zM170.9 290.3h1.0v1.0h-1.0zM179.7 328.2h1.0v1.0h-1.0zM184.6 339.8h1.0v1.0h-1.0zM186.9 296.7h1.0v1.0h-1.0zM159.2 343.7h1.0v1.0h-1.0zM172.2 303.4h1.0v1.0h-1.0zM155.7 295.7h1.0v1.0h-1.0zM188.0 349.2h1.0v1.0h-1.0zM183.3 292.6h1.0v1.0h-1.0zM190.4 297.1h1.0v1.0h-1.0zM163.2 349.9h1.0v1.0h-1.0zM186.1 322.3h1.0v1.0h-1.0zM188.6 345.3h1.0v1.0h-1.0zM156.6 316.3h1.0v1.0h-1.0zM157.3 342.6h1.0v1.0h-1.0zM181.3 350.2h1.0v1.0h-1.0zM182.5 289.3h1.0v1.0h-1.0zM177.4 325.9h1.0v1.0h-1.0zM179.9 341.5h1.0v1.0h-1.0zM186.1 286.9h1.0v1.0h-1.0zM175.0 351.6h1.0v1.0h-1.0zM164.2 300.7h1.0v1.0h-1.0zM194.1 335.5h1.0v1.0h-1.0zM177.5 289.3h1.0v1.0h-1.0zM164.7 331.3h1.0v1.0h-1.0zM186.3 332.1h1.0v1.0h-1.0zM188.4 341.5h1.0v1.0h-1.0zM173.8 306.4h1.0v1.0h-1.0zM180.3 330.5h1.0v1.0h-1.0zM161.9 346.8h1.0v1.0h-1.0zM181.8 351.7h1.0v1.0h-1.0zM183.0 338.4h1.0v1.0h-1.0zM164.9 307.5h1.0v1.0h-1.0zM156.7 338.9h1.0v1.0h-1.0zM163.7 310.2h1.0v1.0h-1.0zM163.5 337.9h1.0v1.0h-1.0zM153.6 349.4h1.0v1.0h-1.0zM194.6 288.5h1.0v1.0h-1.0zM189.6 351.6h1.0v1.0h-1.0zM172.7 283.2h1.0v1.0h-1.0zM176.7 347.1h1.0v1.0h-1.0zM174.2 333.6h1.0v1.0h-1.0zM179.0 303.9h1.0v1.0h-1.0zM166.5 342.4h1.0v1.0h-1.0zM164.8 297.5h1.0v1.0h-1.0zM180.7 331.8h1.0v1.0h-1.0zM170.0 302.9h1.0v1.0h-1.0zM193.8 308.7h1.0v1.0h-1.0zM168.9 297.0h1.0v1.0h-1.0zM173.6 284.2h1.0v1.0h-1.0zM169.7 299.3h1.0v1.0h-1.0zM177.4 317.5h1.0v1.0h-1.0zM187.3 342.7h1.0v1.0h-1.0zM167.6 303.4h1.0v1.0h-1.0zM176.9 346.3h1.0v1.0h-1.0zM159.3 343.9h1.0v1.0h-1.0zM161.3 321.9h1.0v1.0h-1.0zM187.9 332.7h1.0v1.0h-1.0zM192.5 289.9h1.0v1.0h-1.0zM170.2 296.6h1.0v1.0h-1.0zM194.9 333.1h1.0v1.0h-1.0zM161.2 303.2h1.0v1.0h-1.0zM154.1 302.0h1.0v1.0h-1.0zM158.6 317.0h1.0v1.0h-1.0zM185.0 303.4h1.0v1.0h-1.0zM193.6 302.6h1.0v1.0h-1.0zM167.6 303.5h1.0v1.0h-1.0zM164.1 349.0h1.0v1.0h-1.0zM159.8 306.9h1.0v1.0h-1.0zM159.7 336.0h1.0v1.0h-1.0zM164.9 329.5h1.0v1.0h-1.0zM177.6 327.1h1.0v1.0h-1.0zM160.2 309.8h1.0v1.0h-1.0zM176.8 331.7h1.0v1.0h-1.0zM174.2 324.7h1.0v1.0h-1.0zM170.4 296.0h1.0v1.0h-1.0zM184.9 335.5h1.0v1.0h-1.0zM158.5 324.7h1.0v1.0h-1.0zM161.0 334.5h1.0v1.0h-1.0zM179.7 330.2h1.0v1.0h-1.0zM168.8 339.0h1.0v1.0h-1.0zM193.0 326.6h1.0v1.0h-1.0zM154.9 340.1h1.0v1.0h-1.0zM165.8 289.6h1.0v1.0h-1.0zM152.8 311.5h1.0v1.0h-1.0zM156.9 338.9h1.0v1.0h-1.0zM190.0 319.1h1.0v1.0h-1.0zM166.5 299.7h1.0v1.0h-1.0zM157.6 346.4h1.0v1.0h-1.0zM187.1 314.3h1.0v1.0h-1.0zM188.4 339.8h1.0v1.0h-1.0zM177.4 300.3h1.0v1.0h-1.0zM171.2 283.7h1.0v1.0h-1.0zM158.0 308.2h1.0v1.0h-1.0zM174.2 341.7h1.0v1.0h-1.0zM160.1 311.4h1.0v1.0h-1.0zM165.1 310.7h1.0v1.0h-1.0zM170.5 309.3h1.0v1.0h-1.0zM164.7 340.1h1.0v1.0h-1.0zM170.9 290.9h1.0v1.0h-1.0zM153.3 294.4h1.0v1.0h-1.0zM181.9 283.4h1.0v1.0h-1.0zM163.6 320.7h1.0v1.0h-1.0zM170.2 345.3h1.0v1.0h-1.0zM153.3 337.0h1.0v1.0h-1.0zM159.0 284.0h1.0v1.0h-1.0zM176.9 339.0h1.0v1.0h-1.0zM190.5 331.1h1.0v1.0h-1.0zM160.4 336.5h1.0v1.0h-1.0zM185.8 323.8h1.0v1.0h-1.0zM160.3 347.2h1.0v1.0h-1.0zM173.3 344.8h1.0v1.0h-1.0zM193.4 349.5h1.0v1.0h-1.0zM164.4 291.7h1.0v1.0h-1.0zM171.6 289.2h1.0v1.0h-1.0zM184.7 296.1h1.0v1.0h-1.0zM171.8 284.5h1.0v1.0h-1.0zM173.4 347.5h1.0v1.0h-1.0zM175.9 295.0h1.0v1.0h-1.0zM163.5 322.2h1.0v1.0h-1.0zM159.0 299.5h1.0v1.0h-1.0zM169.8 350.7h1.0v1.0h-1.0zM174.7 321.7h1.0v1.0h-1.0zM194.9 323.8h1.0v1.0h-1.0zM159.6 303.9h1.0v1.0h-1.0zM189.6 330.5h1.0v1.0h-1.0zM160.8 303.7h1.0v1.0h-1.0zM182.6 327.6h1.0v1.0h-1.0zM164.3 315.6h1.0v1.0h-1.0zM186.6 292.0h1.0v1.0h-1.0zM185.3 281.3h1.0v1.0h-1.0zM168.0 298.5h1.0v1.0h-1.0zM187.4 331.4h1.0v1.0h-1.0zM177.3 318.0h1.0v1.0h-1.0zM159.7 310.1h1.0v1.0h-1.0zM156.5 295.7h1.0v1.0h-1.0zM169.2 318.6h1.0v1.0h-1.0zM186.2 287.4h1.0v1.0h-1.0zM157.3 349.6h1.0v1.0h-1.0zM174.1 343.7h1.0v1.0h-1.0zM172.4 318.7h1.0v1.0h-1.0zM159.7 297.1h1.0v1.0h-1.0zM161.1 342.9h1.0v1.0h-1.0zM168.9 321.3h1.0v1.0h-1.0zM185.9 298.4h1.0v1.0h-1.0zM194.4 283.5h1.0v1.0h-1.0zM183.2 286.1h1.0v1.0h-1.0zM194.8 319.4h1.0v1.0h-1.0zM177.3 346.3h1.0v1.0h-1.0zM186.7 341.0h1.0v1.0h-1.0zM156.9 333.3h1.0v1.0h-1.0zM191.9 304.3h1.0v1.0h-1.0zM168.6 299.9h1.0v1.0h-1.0zM172.2 346.3h1.0v1.0h-1.0zM172.7 343.0h1.0v1.0h-1.0zM181.6 289.8h1.0v1.0h-1.0zM154.0 284.0h1.0v1.0h-1.0zM159.2 295.4h1.0v1.0h-1.0zM187.6 333.4h1.0v1.0h-1.0zM167.2 327.7h1.0v1.0h-1.0zM168.7 302.5h1.0v1.0h-1.0zM155.0 338.1h1.0v1.0h-1.0zM163.9 287.1h1.0v1.0h-1.0zM175.9 318.6h1.0v1.0h-1.0zM186.7 305.4h1.0v1.0h-1.0zM167.3 346.1h1.0v1.0h-1.0zM171.1 287.3h1.0v1.0h-1.0zM194.6 290.8h1.0v1.0h-1.0zM189.9 331.6h1.0v1.0h-1.0zM170.1 335.1h1.0v1.0h-1.0zM187.3 313.0h1.0v1.0h-1.0zM163.8 300.7h1.0v1.0h-1.0zM156.7 320.2h1.0v1.0h-1.0zM183.9 328.6h1.0v1.0h-1.0zM155.6 340.0h1.0v1.0h-1.0zM194.1 290.3h1.0v1.0h-1.0zM177.2 291.1h1.0v1.0h-1.0zM170.2 339.2h1.0v1.0h-1.0zM172.9 322.5h1.0v1.0h-1.0zM184.7 326.4h1.0v1.0h-1.0zM183.1 335.2h1.0v1.0h-1.0zM161.0 300.2h1.0v1.0h-1.0zM187.9 296.6h1.0v1.0h-1.0zM187.5 291.3h1.0v1.0h-1.0zM159.8 341.9h1.0v1.0h-1.0zM180.5 282.7h1.0v1.0h-1.0zM169.8 282.6h1.0v1.0h-1.0zM190.4 283.5h1.0v1.0h-1.0zM190.8 335.3h1.0v1.0h-1.0zM153.4 346.8h1.0v1.0h-1.0zM166.9 290.0h1.0v1.0h-1.0zM182.1 305.6h1.0v1.0h-1.0zM178.6 293.4h1.0v1.0h-1.0zM186.0 291.8h1.0v1.0h-1.0zM187.9 308.7h1.0v1.0h-1.0zM165.3 340.2h1.0v1.0h-1.0zM163.0 296.7h1.0v1.0h-1.0zM190.5 332.0h1.0v1.0h-1.0zM168.3 322.3h1.0v1.0h-1.0zM174.6 350.6h1.0v1.0h-1.0zM165.0 310.2h1.0v1.0h-1.0zM167.0 316.7h1.0v1.0h-1.0zM160.4 345.9h1.0v1.0h-1.0zM154.5 326.9h1.0v1.0h-1.0zM176.7 350.5h1.0v1.0h-1.0zM155.5 325.8h1.0v1.0h-1.0zM192.2 313.1h1.0v1.0h-1.0zM155.7 337.2h1.0v1.0h-1.0zM166.4 344.8h1.0v1.0h-1.0zM177.7 302.8h1.0v1.0h-1.0zM166.3 303.2h1.0v1.0h-1.0zM152.4 289.9h1.0v1.0h-1.0zM181.5 296.6h1.0v1.0h-1.0zM180.3 335.2h1.0v1.0h-1.0zM189.7 288.3h1.0v1.0h-1.0zM171.5 304.0h1.0v1.0h-1.0zM182.0 306.4h1.0v1.0h-1.0zM181.3 340.9h1.0v1.0h-1.0zM186.0 283.3h1.0v1.0h-1.0zM173.8 316.8h1.0v1.0h-1.0zM192.9 344.9h1.0v1.0h-1.0zM194.9 348.2h1.0v1.0h-1.0zM184.3 319.9h1.0v1.0h-1.0zM178.2 343.1h1.0v1.0h-1.0zM168.1 308.7h1.0v1.0h-1.0zM162.1 304.6h1.0v1.0h-1.0zM159.4 323.4h1.0v1.0h-1.0zM175.4 286.8h1.0v1.0h-1.0zM177.6 301.5h1.0v1.0h-1.0zM164.1 294.5h1.0v1.0h-1.0zM166.1 286.2h1.0v1.0h-1.0zM186.3 339.7h1.0v1.0h-1.0zM180.2 336.2h1.0v1.0h-1.0zM179.9 297.8h1.0v1.0h-1.0zM184.2 300.3h1.0v1.0h-1.0zM175.9 326.9h1.0v1.0h-1.0zM152.2 351.6h1.0v1.0h-1.0zM191.5 309.3h1.0v1.0h-1.0zM155.1 337.3h1.0v1.0h-1.0zM190.0 345.4h1.0v1.0h-1.0zM157.7 339.1h1.0v1.0h-1.0zM162.8 346.3h1.0v1.0h-1.0zM154.9 336.8h1.0v1.0h-1.0zM190.2 314.5h1.0v1.0h-1.0zM161.5 318.9h1.0v1.0h-1.0zM187.0 293.3h1.0v1.0h-1.0zM184.7 311.7h1.0v1.0h-1.0zM160.1 312.4h1.0v1.0h-1.0zM189.9 330.9h1.0v1.0h-1.0zM179.5 349.3h1.0v1.0h-1.0zM170.7 316.8h1.0v1.0h-1.0zM176.3 336.8h1.0v1.0h-1.0zM191.1 341.9h1.0v1.0h-1.0zM191.0 334.1h1.0v1.0h-1.0zM158.2 314.3h1.0v1.0h-1.0zM172.4 300.0h1.0v1.0h-1.0zM158.4 301.6h1.0v1.0h-1.0zM193.3 315.9h1.0v1.0h-1.0zM165.1 348.4h1.0v1.0h-1.0zM192.8 321.1h1.0v1.0h-1.0zM178.7 301.5h1.0v1.0h-1.0zM177.5 345.1h1.0v1.0h-1.0zM178.4 334.9h1.0v1.0h-1.0zM157.1 339.7h1.0v1.0h-1.0zM170.7 321.2h1.0v1.0h-1.0zM183.0 302.3h1.0v1.0h-1.0zM178.6 330.2h1.0v1.0h-1.0zM179.1 306.7h1.0v1.0h-1.0zM178.0 292.7h1.0v1.0h-1.0zM169.7 307.6h1.0v1.0h-1.0zM175.4 291.9h1.0v1.0h-1.0zM175.0 286.4h1.0v1.0h-1.0zM186.3 348.0h1.0v1.0h-1.0zM167.0 317.9h1.0v1.0h-1.0zM192.0 313.5h1.0v1.0h-1.0zM185.4 320.4h1.0v1.0h-1.0zM189.1 343.9h1.0v1.0h-1.0zM160.8 332.5h1.0v1.0h-1.0zM193.9 317.0h1.0v1.0h-1.0zM154.3 313.5h1.0v1.0h-1.0zM165.5 309.7h1.0v1.0h-1.0zM194.9 347.6h1.0v1.0h-1.0zM169.3 304.6h1.0v1.0h-1.0zM160.4 343.5h1.0v1.0h-1.0zM171.3 310.2h1.0v1.0h-1.0zM194.2 348.4h1.0v1.0h-1.0zM161.7 308.7h1.0v1.0h-1.0zM165.0 299.6h1.0v1.0h-1.0zM168.1 339.8h1.0v1.0h-1.0zM167.1 344.6h1.0v1.0h-1.0zM191.9 293.6h1.0v1.0h-1.0zM167.3 294.9h1.0v1.0h-1.0zM159.2 347.5h1.0v1.0h-1.0zM177.9 292.9h1.0v1.0h-1.0zM162.6 311.8h1.0v1.0h-1.0zM192.3 343.1h1.0v1.0h-1.0zM190.3 297.9h1.0v1.0h-1.0zM166.1 329.4h1.0v1.0h-1.0zM173.1 287.6h1.0v1.0h-1.0zM175.3 335.4h1.0v1.0h-1.0zM157.8 337.2h1.0v1.0h-1.0zM176.9 345.3h1.0v1.0h-1.0zM178.1 339.4h1.0v1.0h-1.0zM176.4 307.4h1.0v1.0h-1.0zM183.1 290.4h1.0v1.0h-1.0zM185.0 295.0h1.0v1.0h-1.0zM157.9 319.2h1.0v1.0h-1.0zM165.9 287.3h1.0v1.0h-1.0zM160.8 298.9h1.0v1.0h-1.0zM162.3 310.7h1.0v1.0h-1.0zM181.2 312.7h1.0v1.0h-1.0zM168.2 292.5h1.0v1.0h-1.0zM178.2 299.8h1.0v1.0h-1.0zM158.7 326.4h1.0v1.0h-1.0zM183.5 301.9h1.0v1.0h-1.0zM168.6 346.2h1.0v1.0h-1.0zM162.3 303.1h1.0v1.0h-1.0zM173.0 292.5h1.0v1.0h-1.0zM173.9 347.1h1.0v1.0h-1.0zM184.4 302.2h1.0v1.0h-1.0zM181.1 336.9h1.0v1.0h-1.0zM185.9 341.3h1.0v1.0h-1.0zM191.6 308.0h1.0v1.0h-1.0zM166.4 343.2h1.0v1.0h-1.0zM191.8 311.9h1.0v1.0h-1.0zM192.0 310.4h1.0v1.0h-1.0zM156.4 292.6h1.0v1.0h-1.0zM160.2 318.6h1.0v1.0h-1.0zM188.9 315.7h1.0v1.0h-1.0zM188.6 303.6h1.0v1.0h-1.0zM162.1 305.6h1.0v1.0h-1.0zM186.7 343.6h1.0v1.0h-1.0zM164.2 336.0h1.0v1.0h-1.0zM189.2 316.9h1.0v1.0h-1.0zM161.7 308.4h1.0v1.0h-1.0zM180.0 320.4h1.0v1.0h-1.0zM167.1 338.6h1.0v1.0h-1.0zM184.9 286.0h1.0v1.0h-1.0zM164.7 342.4h1.0v1.0h-1.0z" fill="#111"/>
<path d="M195.3 289.3h1.0v1.0h-1.0zM193.6 290.7h1.0v1.0h-1.0zM206.7 291.4h1.0v1.0h-1.0zM210.1 311.7h1.0v1.0h-1.0zM192.2 306.2h1.0v1.0h-1.0zM196.4 305.9h1.0v1.0h-1.0zM220.4 293.4h1.0v1.0h-1.0zM190.8 291.9h1.0v1.0h-1.0zM226.2 325.4h1.0v1.0h-1.0zM195.4 319.4h1.0v1.0h-1.0zM193.9 306.1h1.0v1.0h-1.0zM202.3 312.0h1.0v1.0h-1.0zM207.2 298.7h1.0v1.0h-1.0zM207.6 327.1h1.0v1.0h-1.0zM190.4 310.6h1.0v1.0h-1.0zM196.3 319.1h1.0v1.0h-1.0zM194.1 326.2h1.0v1.0h-1.0zM192.1 293.6h1.0v1.0h-1.0zM191.4 310.5h1.0v1.0h-1.0zM200.4 324.2h1.0v1.0h-1.0zM212.6 332.9h1.0v1.0h-1.0zM191.3 293.0h1.0v1.0h-1.0zM198.8 328.6h1.0v1.0h-1.0zM193.8 310.8h1.0v1.0h-1.0zM192.5 332.0h1.0v1.0h-1.0zM190.4 287.4h1.0v1.0h-1.0zM190.2 333.1h1.0v1.0h-1.0zM200.4 318.3h1.0v1.0h-1.0zM209.9 308.5h1.0v1.0h-1.0zM193.0 316.8h1.0v1.0h-1.0zM230.8 324.4h1.0v1.0h-1.0zM226.2 328.6h1.0v1.0h-1.0zM190.9 305.9h1.0v1.0h-1.0zM205.6 295.2h1.0v1.0h-1.0zM190.6 290.5h1.0v1.0h-1.0zM224.3 293.1h1.0v1.0h-1.0zM205.4 324.6h1.0v1.0h-1.0zM200.5 304.0h1.0v1.0h-1.0zM192.2 303.0h1.0v1.0h-1.0zM191.2 311.1h1.0v1.0h-1.0zM194.1 287.6h1.0v1.0h-1.0zM190.4 305.2h1.0v1.0h-1.0zM196.4 312.8h1.0v1.0h-1.0zM202.3 327.6h1.0v1.0h-1.0zM193.1 289.0h1.0v1.0h-1.0zM209.6 329.6h1.0v1.0h-1.0zM193.4 312.2h1.0v1.0h-1.0zM192.7 299.9h1.0v1.0h-1.0zM193.2 330.4h1.0v1.0h-1.0zM195.0 305.5h1.0v1.0h-1.0zM199.0 308.9h1.0v1.0h-1.0zM204.5 290.9h1.0v1.0h-1.0zM193.0 298.6h1.0v1.0h-1.0zM199.7 290.6h1.0v1.0h-1.0zM210.3 290.4h1.0v1.0h-1.0zM194.5 333.6h1.0v1.0h-1.0zM195.8 312.5h1.0v1.0h-1.0zM191.7 326.9h1.0v1.0h-1.0zM195.0 304.5h1.0v1.0h-1.0zM192.9 307.7h1.0v1.0h-1.0zM196.0 296.6h1.0v1.0h-1.0zM219.0 321.6h1.0v1.0h-1.0zM197.9 291.4h1.0v1.0h-1.0zM197.4 311.4h1.0v1.0h-1.0zM200.3 319.9h1.0v1.0h-1.0zM191.1 306.5h1.0v1.0h-1.0zM209.2 327.7h1.0v1.0h-1.0zM199.0 306.4h1.0v1.0h-1.0zM199.2 294.1h1.0v1.0h-1.0zM198.9 316.1h1.0v1.0h-1.0zM190.2 320.9h1.0v1.0h-1.0zM200.4 297.8h1.0v1.0h-1.0zM197.3 333.2h1.0v1.0h-1.0zM200.9 320.8h1.0v1.0h-1.0zM195.2 321.2h1.0v1.0h-1.0zM192.5 325.6h1.0v1.0h-1.0zM190.1 311.0h1.0v1.0h-1.0zM193.1 295.2h1.0v1.0h-1.0zM192.8 321.7h1.0v1.0h-1.0zM192.7 315.1h1.0v1.0h-1.0zM196.1 297.8h1.0v1.0h-1.0zM191.7 330.0h1.0v1.0h-1.0zM192.0 304.8h1.0v1.0h-1.0zM208.0 328.7h1.0v1.0h-1.0zM194.5 307.9h1.0v1.0h-1.0zM200.7 319.2h1.0v1.0h-1.0zM205.9 314.3h1.0v1.0h-1.0zM197.6 295.9h1.0v1.0h-1.0zM190.4 302.9h1.0v1.0h-1.0zM206.7 304.4h1.0v1.0h-1.0zM198.8 311.2h1.0v1.0h-1.0zM196.8 330.8h1.0v1.0h-1.0zM200.8 291.8h1.0v1.0h-1.0zM193.6 329.8h1.0v1.0h-1.0zM191.0 329.9h1.0v1.0h-1.0zM199.4 290.0h1.0v1.0h-1.0zM195.0 333.1h1.0v1.0h-1.0zM191.5 293.4h1.0v1.0h-1.0zM196.0 309.9h1.0v1.0h-1.0zM190.8 318.5h1.0v1.0h-1.0zM194.4 326.7h1.0v1.0h-1.0zM207.2 301.8h1.0v1.0h-1.0zM194.1 333.3h1.0v1.0h-1.0zM216.3 331.2h1.0v1.0h-1.0zM192.8 325.0h1.0v1.0h-1.0zM193.4 285.6h1.0v1.0h-1.0zM218.0 308.5h1.0v1.0h-1.0zM191.1 307.7h1.0v1.0h-1.0zM199.2 304.1h1.0v1.0h-1.0zM192.7 313.1h1.0v1.0h-1.0zM203.0 293.5h1.0v1.0h-1.0zM194.7 308.8h1.0v1.0h-1.0zM190.9 324.2h1.0v1.0h-1.0zM214.2 328.4h1.0v1.0h-1.0zM218.2 333.1h1.0v1.0h-1.0zM201.3 291.1h1.0v1.0h-1.0zM191.0 319.5h1.0v1.0h-1.0zM197.0 294.1h1.0v1.0h-1.0zM190.7 333.9h1.0v1.0h-1.0zM190.4 312.0h1.0v1.0h-1.0zM190.1 319.5h1.0v1.0h-1.0zM190.6 289.0h1.0v1.0h-1.0zM190.6 315.3h1.0v1.0h-1.0zM195.7 318.6h1.0v1.0h-1.0zM190.1 322.5h1.0v1.0h-1.0zM196.7 297.0h1.0v1.0h-1.0zM193.4 288.7h1.0v1.0h-1.0zM222.5 331.3h1.0v1.0h-1.0zM203.4 290.5h1.0v1.0h-1.0zM191.7 292.3h1.0v1.0h-1.0zM193.8 288.3h1.0v1.0h-1.0zM201.4 286.0h1.0v1.0h-1.0zM190.0 328.0h1.0v1.0h-1.0zM196.3 324.1h1.0v1.0h-1.0zM211.6 300.8h1.0v1.0h-1.0zM195.9 327.8h1.0v1.0h-1.0zM196.6 293.8h1.0v1.0h-1.0zM193.6 330.1h1.0v1.0h-1.0zM191.7 299.2h1.0v1.0h-1.0zM190.0 323.6h1.0v1.0h-1.0zM196.4 292.8h1.0v1.0h-1.0zM190.9 328.6h1.0v1.0h-1.0zM191.9 286.2h1.0v1.0h-1.0zM194.6 301.3h1.0v1.0h-1.0zM190.4 324.9h1.0v1.0h-1.0zM199.7 290.6h1.0v1.0h-1.0zM207.8 308.0h1.0v1.0h-1.0zM193.6 329.4h1.0v1.0h-1.0zM198.9 297.7h1.0v1.0h-1.0zM215.4 319.3h1.0v1.0h-1.0zM192.3 316.9h1.0v1.0h-1.0zM206.4 304.4h1.0v1.0h-1.0zM197.4 296.6h1.0v1.0h-1.0zM211.1 308.2h1.0v1.0h-1.0zM190.1 320.9h1.0v1.0h-1.0zM191.6 326.5h1.0v1.0h-1.0zM194.3 292.0h1.0v1.0h-1.0zM215.7 299.0h1.0v1.0h-1.0zM192.0 297.8h1.0v1.0h-1.0zM191.9 327.3h1.0v1.0h-1.0zM196.1 284.7h1.0v1.0h-1.0zM200.1 330.4h1.0v1.0h-1.0zM191.4 286.6h1.0v1.0h-1.0zM206.1 293.9h1.0v1.0h-1.0zM195.0 318.1h1.0v1.0h-1.0zM197.0 319.8h1.0v1.0h-1.0zM231.7 297.7h1.0v1.0h-1.0zM203.7 303.9h1.0v1.0h-1.0zM190.9 302.9h1.0v1.0h-1.0zM194.8 306.3h1.0v1.0h-1.0zM193.8 300.6h1.0v1.0h-1.0zM206.0 311.9h1.0v1.0h-1.0zM208.8 305.2h1.0v1.0h-1.0zM197.7 333.9h1.0v1.0h-1.0zM214.5 323.9h1.0v1.0h-1.0zM194.8 294.3h1.0v1.0h-1.0zM192.5 310.8h1.0v1.0h-1.0zM192.3 323.3h1.0v1.0h-1.0zM194.3 288.1h1.0v1.0h-1.0zM194.3 294.8h1.0v1.0h-1.0zM193.1 313.0h1.0v1.0h-1.0zM200.0 330.1h1.0v1.0h-1.0zM191.8 311.9h1.0v1.0h-1.0zM206.5 315.3h1.0v1.0h-1.0zM216.7 308.0h1.0v1.0h-1.0zM208.2 299.5h1.0v1.0h-1.0zM194.9 308.8h1.0v1.0h-1.0zM228.4 314.4h1.0v1.0h-1.0zM192.3 296.4h1.0v1.0h-1.0zM209.8 313.0h1.0v1.0h-1.0zM191.9 311.8h1.0v1.0h-1.0zM193.2 305.1h1.0v1.0h-1.0zM194.5 321.8h1.0v1.0h-1.0zM196.3 328.9h1.0v1.0h-1.0zM191.5 316.8h1.0v1.0h-1.0zM194.8 305.4h1.0v1.0h-1.0zM213.7 332.6h1.0v1.0h-1.0zM212.4 317.1h1.0v1.0h-1.0zM190.6 320.6h1.0v1.0h-1.0zM192.0 289.3h1.0v1.0h-1.0zM206.8 302.4h1.0v1.0h-1.0zM193.0 332.2h1.0v1.0h-1.0zM193.7 293.9h1.0v1.0h-1.0zM199.1 293.7h1.0v1.0h-1.0zM210.5 317.3h1.0v1.0h-1.0zM208.7 293.2h1.0v1.0h-1.0zM197.6 296.9h1.0v1.0h-1.0zM196.0 330.9h1.0v1.0h-1.0zM198.8 301.3h1.0v1.0h-1.0zM227.0 312.0h1.0v1.0h-1.0zM190.4 296.5h1.0v1.0h-1.0zM190.4 324.1h1.0v1.0h-1.0zM191.4 318.5h1.0v1.0h-1.0zM195.9 298.0h1.0v1.0h-1.0zM197.7 305.6h1.0v1.0h-1.0zM199.6 325.0h1.0v1.0h-1.0zM190.6 300.3h1.0v1.0h-1.0zM205.5 303.2h1.0v1.0h-1.0zM191.2 295.1h1.0v1.0h-1.0zM192.5 312.0h1.0v1.0h-1.0zM201.7 313.5h1.0v1.0h-1.0zM229.7 314.4h1.0v1.0h-1.0zM198.9 298.5h1.0v1.0h-1.0zM193.7 303.1h1.0v1.0h-1.0zM193.7 322.5h1.0v1.0h-1.0zM191.5 325.4h1.0v1.0h-1.0zM192.0 290.8h1.0v1.0h-1.0zM193.1 289.6h1.0v1.0h-1.0zM209.8 313.0h1.0v1.0h-1.0zM192.0 296.6h1.0v1.0h-1.0zM212.0 313.9h1.0v1.0h-1.0zM200.4 331.2h1.0v1.0h-1.0zM204.8 325.1h1.0v1.0h-1.0zM195.0 297.4h1.0v1.0h-1.0zM194.6 309.6h1.0v1.0h-1.0zM193.3 332.0h1.0v1.0h-1.0zM196.5 326.7h1.0v1.0h-1.0zM219.2 315.8h1.0v1.0h-1.0zM194.4 320.4h1.0v1.0h-1.0zM202.5 319.9h1.0v1.0h-1.0zM194.5 327.6h1.0v1.0h-1.0zM191.6 301.9h1.0v1.0h-1.0zM194.5 316.4h1.0v1.0h-1.0zM192.3 319.8h1.0v1.0h-1.0zM224.7 328.0h1.0v1.0h-1.0zM198.6 333.9h1.0v1.0h-1.0zM204.4 310.8h1.0v1.0h-1.0zM192.5 329.2h1.0v1.0h-1.0zM204.8 309.4h1.0v1.0h-1.0zM197.5 295.3h1.0v1.0h-1.0zM209.5 288.1h1.0v1.0h-1.0zM190.5 299.4h1.0v1.0h-1.0zM194.5 292.8h1.0v1.0h-1.0zM193.0 316.0h1.0v1.0h-1.0zM194.2 307.9h1.0v1.0h-1.0zM225.6 318.2h1.0v1.0h-1.0zM197.0 318.1h1.0v1.0h-1.0zM204.5 320.5h1.0v1.0h-1.0zM195.6 327.1h1.0v1.0h-1.0zM197.7 320.7h1.0v1.0h-1.0zM201.7 316.0h1.0v1.0h-1.0zM200.2 305.1h1.0v1.0h-1.0zM192.7 290.6h1.0v1.0h-1.0zM198.2 303.0h1.0v1.0h-1.0zM221.8 307.4h1.0v1.0h-1.0zM192.3 300.7h1.0v1.0h-1.0z" fill="#111"/>
<path d="M221.9 344.1h1.0v1.0h-1.0zM193.6 337.9h1.0v1.0h-1.0zM195.3 340.5h1.0v1.0h-1.0zM203.8 338.5h1.0v1.0h-1.0zM201.3 337.2h1.0v1.0h-1.0zM196.9 337.2h1.0v1.0h-1.0zM191.2 340.3h1.0v1.0h-1.0zM200.4 333.0h1.0v1.0h-1.0zM206.4 343.2h1.0v1.0h-1.0zM195.4 341.3h1.0v1.0h-1.0zM192.4 331.8h1.0v1.0h-1.0zM205.8 343.2h1.0v1.0h-1.0zM207.8 344.9h1.0v1.0h-1.0zM203.1 339.1h1.0v1.0h-1.0zM192.0 340.6h1.0v1.0h-1.0zM202.2 338.9h1.0v1.0h-1.0zM210.8 336.4h1.0v1.0h-1.0zM222.5 335.8h1.0v1.0h-1.0zM196.0 346.2h1.0v1.0h-1.0zM191.1 333.4h1.0v1.0h-1.0zM227.2 342.6h1.0v1.0h-1.0zM191.1 344.6h1.0v1.0h-1.0zM198.4 336.7h1.0v1.0h-1.0zM225.0 342.9h1.0v1.0h-1.0zM193.2 340.8h1.0v1.0h-1.0zM208.1 343.8h1.0v1.0h-1.0zM195.0 345.4h1.0v1.0h-1.0zM196.5 340.3h1.0v1.0h-1.0zM214.5 343.5h1.0v1.0h-1.0zM199.6 343.2h1.0v1.0h-1.0zM207.7 340.4h1.0v1.0h-1.0zM193.9 342.5h1.0v1.0h-1.0zM203.4 342.4h1.0v1.0h-1.0zM209.7 335.2h1.0v1.0h-1.0zM194.3 345.0h1.0v1.0h-1.0zM206.8 339.3h1.0v1.0h-1.0zM203.2 343.5h1.0v1.0h-1.0zM190.9 338.4h1.0v1.0h-1.0zM194.8 346.3h1.0v1.0h-1.0zM198.5 338.3h1.0v1.0h-1.0zM193.8 342.6h1.0v1.0h-1.0zM205.8 338.1h1.0v1.0h-1.0zM201.6 332.6h1.0v1.0h-1.0zM218.2 342.0h1.0v1.0h-1.0zM208.5 334.0h1.0v1.0h-1.0zM195.4 339.1h1.0v1.0h-1.0zM193.2 336.0h1.0v1.0h-1.0zM192.9 333.9h1.0v1.0h-1.0zM209.6 335.3h1.0v1.0h-1.0zM198.6 345.3h1.0v1.0h-1.0zM198.7 337.3h1.0v1.0h-1.0zM193.1 338.4h1.0v1.0h-1.0zM214.8 342.8h1.0v1.0h-1.0zM190.7 337.1h1.0v1.0h-1.0zM198.9 346.1h1.0v1.0h-1.0zM202.0 346.1h1.0v1.0h-1.0zM210.6 339.2h1.0v1.0h-1.0zM193.4 341.0h1.0v1.0h-1.0zM205.5 336.0h1.0v1.0h-1.0zM208.2 342.7h1.0v1.0h-1.0zM200.0 333.1h1.0v1.0h-1.0zM194.6 337.0h1.0v1.0h-1.0zM199.8 343.7h1.0v1.0h-1.0zM190.7 341.4h1.0v1.0h-1.0zM211.1 335.1h1.0v1.0h-1.0zM194.3 336.6h1.0v1.0h-1.0zM197.0 339.7h1.0v1.0h-1.0zM194.2 333.4h1.0v1.0h-1.0zM206.0 340.1h1.0v1.0h-1.0zM203.2 333.9h1.0v1.0h-1.0zM198.6 335.4h1.0v1.0h-1.0zM204.0 335.8h1.0v1.0h-1.0zM196.9 341.6h1.0v1.0h-1.0zM194.8 334.4h1.0v1.0h-1.0zM204.2 340.3h1.0v1.0h-1.0zM208.4 335.6h1.0v1.0h-1.0zM193.5 334.8h1.0v1.0h-1.0zM218.1 337.9h1.0v1.0h-1.0zM193.5 337.0h1.0v1.0h-1.0zM214.0 338.8h1.0v1.0h-1.0zM211.8 337.3h1.0v1.0h-1.0zM212.9 341.9h1.0v1.0h-1.0zM196.5 344.2h1.0v1.0h-1.0zM200.0 344.3h1.0v1.0h-1.0zM206.3 336.0h1.0v1.0h-1.0zM215.1 342.4h1.0v1.0h-1.0zM192.3 338.3h1.0v1.0h-1.0zM194.2 343.1h1.0v1.0h-1.0zM190.6 335.3h1.0v1.0h-1.0zM200.9 335.6h1.0v1.0h-1.0zM192.1 337.0h1.0v1.0h-1.0zM197.2 340.2h1.0v1.0h-1.0zM198.3 343.9h1.0v1.0h-1.0zM190.9 331.1h1.0v1.0h-1.0zM204.5 345.5h1.0v1.0h-1.0zM212.2 337.6h1.0v1.0h-1.0zM204.2 332.7h1.0v1.0h-1.0zM207.8 333.8h1.0v1.0h-1.0zM191.3 342.0h1.0v1.0h-1.0zM200.4 343.9h1.0v1.0h-1.0zM190.9 347.1h1.0v1.0h-1.0zM209.2 340.1h1.0v1.0h-1.0zM193.5 335.4h1.0v1.0h-1.0zM209.6 346.6h1.0v1.0h-1.0zM192.1 334.2h1.0v1.0h-1.0zM192.4 334.2h1.0v1.0h-1.0zM195.4 336.5h1.0v1.0h-1.0zM192.4 337.0h1.0v1.0h-1.0zM197.0 340.1h1.0v1.0h-1.0zM194.9 334.6h1.0v1.0h-1.0zM191.2 336.0h1.0v1.0h-1.0zM209.0 342.1h1.0v1.0h-1.0zM198.0 345.1h1.0v1.0h-1.0zM212.6 345.5h1.0v1.0h-1.0zM215.2 346.4h1.0v1.0h-1.0zM208.5 336.4h1.0v1.0h-1.0zM206.7 339.8h1.0v1.0h-1.0zM207.4 346.0h1.0v1.0h-1.0zM190.4 338.4h1.0v1.0h-1.0zM205.0 341.6h1.0v1.0h-1.0zM195.8 335.3h1.0v1.0h-1.0zM202.3 336.0h1.0v1.0h-1.0zM199.8 341.2h1.0v1.0h-1.0zM192.4 346.5h1.0v1.0h-1.0zM202.8 345.7h1.0v1.0h-1.0zM196.7 337.6h1.0v1.0h-1.0zM190.9 334.3h1.0v1.0h-1.0zM194.3 333.7h1.0v1.0h-1.0zM196.5 343.5h1.0v1.0h-1.0zM218.1 339.4h1.0v1.0h-1.0zM190.4 332.9h1.0v1.0h-1.0zM201.4 337.5h1.0v1.0h-1.0zM190.4 333.5h1.0v1.0h-1.0zM191.2 337.5h1.0v1.0h-1.0zM212.0 342.2h1.0v1.0h-1.0zM192.5 341.0h1.0v1.0h-1.0zM211.0 337.1h1.0v1.0h-1.0zM197.0 344.8h1.0v1.0h-1.0zM209.4 343.1h1.0v1.0h-1.0zM190.3 334.7h1.0v1.0h-1.0zM193.3 336.5h1.0v1.0h-1.0zM198.8 346.0h1.0v1.0h-1.0zM206.6 337.5h1.0v1.0h-1.0zM192.5 342.9h1.0v1.0h-1.0zM205.2 346.2h1.0v1.0h-1.0zM193.7 343.7h1.0v1.0h-1.0zM193.8 343.5h1.0v1.0h-1.0zM190.6 335.9h1.0v1.0h-1.0zM212.8 339.1h1.0v1.0h-1.0zM195.8 341.3h1.0v1.0h-1.0zM209.8 336.8h1.0v1.0h-1.0zM198.5 336.1h1.0v1.0h-1.0zM196.6 342.4h1.0v1.0h-1.0zM202.7 337.4h1.0v1.0h-1.0zM214.3 338.3h1.0v1.0h-1.0zM206.8 345.8h1.0v1.0h-1.0zM196.7 345.8h1.0v1.0h-1.0zM208.0 343.5h1.0v1.0h-1.0zM192.2 341.3h1.0v1.0h-1.0zM192.1 331.1h1.0v1.0h-1.0zM212.0 340.8h1.0v1.0h-1.0zM200.0 337.6h1.0v1.0h-1.0zM200.1 338.2h1.0v1.0h-1.0zM209.2 342.8h1.0v1.0h-1.0zM199.2 336.1h1.0v1.0h-1.0zM214.6 341.9h1.0v1.0h-1.0zM224.2 343.0h1.0v1.0h-1.0zM201.3 342.0h1.0v1.0h-1.0zM210.4 343.6h1.0v1.0h-1.0zM192.0 338.8h1.0v1.0h-1.0zM195.5 334.0h1.0v1.0h-1.0zM194.7 334.2h1.0v1.0h-1.0zM206.1 337.9h1.0v1.0h-1.0zM214.1 340.7h1.0v1.0h-1.0zM197.8 340.5h1.0v1.0h-1.0zM203.7 340.9h1.0v1.0h-1.0zM196.0 345.2h1.0v1.0h-1.0zM212.8 336.9h1.0v1.0h-1.0zM206.0 335.8h1.0v1.0h-1.0zM197.5 343.1h1.0v1.0h-1.0zM207.0 340.1h1.0v1.0h-1.0zM193.7 341.8h1.0v1.0h-1.0zM200.9 335.3h1.0v1.0h-1.0zM198.4 339.0h1.0v1.0h-1.0zM217.0 340.4h1.0v1.0h-1.0zM193.3 342.0h1.0v1.0h-1.0zM193.1 344.5h1.0v1.0h-1.0zM223.6 340.9h1.0v1.0h-1.0zM212.7 340.5h1.0v1.0h-1.0zM191.0 338.5h1.0v1.0h-1.0zM212.9 343.6h1.0v1.0h-1.0zM195.2 339.5h1.0v1.0h-1.0zM192.2 346.8h1.0v1.0h-1.0zM212.5 335.4h1.0v1.0h-1.0zM198.7 344.7h1.0v1.0h-1.0zM210.3 335.5h1.0v1.0h-1.0zM203.1 334.0h1.0v1.0h-1.0zM205.1 341.3h1.0v1.0h-1.0zM193.2 340.3h1.0v1.0h-1.0zM207.8 345.0h1.0v1.0h-1.0zM200.4 332.2h1.0v1.0h-1.0zM217.5 343.4h1.0v1.0h-1.0zM194.7 340.3h1.0v1.0h-1.0zM207.3 340.6h1.0v1.0h-1.0zM219.1 339.3h1.0v1.0h-1.0zM190.2 337.5h1.0v1.0h-1.0zM197.3 338.4h1.0v1.0h-1.0zM195.9 338.6h1.0v1.0h-1.0zM203.9 343.8h1.0v1.0h-1.0zM190.9 343.5h1.0v1.0h-1.0zM200.2 333.9h1.0v1.0h-1.0zM206.0 335.9h1.0v1.0h-1.0zM197.8 334.3h1.0v1.0h-1.0zM200.9 336.5h1.0v1.0h-1.0zM196.1 337.9h1.0v1.0h-1.0zM192.2 339.8h1.0v1.0h-1.0zM213.1 334.8h1.0v1.0h-1.0zM197.4 338.9h1.0v1.0h-1.0zM200.8 336.5h1.0v1.0h-1.0zM198.3 339.6h1.0v1.0h-1.0zM198.9 332.0h1.0v1.0h-1.0zM198.8 334.7h1.0v1.0h-1.0zM196.6 337.8h1.0v1.0h-1.0zM198.0 343.3h1.0v1.0h-1.0zM214.3 343.0h1.0v1.0h-1.0zM204.9 334.4h1.0v1.0h-1.0zM215.9 338.1h1.0v1.0h-1.0zM207.9 336.2h1.0v1.0h-1.0zM218.3 339.9h1.0v1.0h-1.0zM193.6 343.3h1.0v1.0h-1.0zM213.9 340.1h1.0v1.0h-1.0zM206.6 344.7h1.0v1.0h-1.0zM206.3 336.2h1.0v1.0h-1.0zM200.8 342.0h1.0v1.0h-1.0zM195.7 341.8h1.0v1.0h-1.0zM202.0 334.8h1.0v1.0h-1.0zM211.7 340.1h1.0v1.0h-1.0zM201.6 337.9h1.0v1.0h-1.0zM193.7 347.8h1.0v1.0h-1.0zM193.1 340.9h1.0v1.0h-1.0zM205.9 335.7h1.0v1.0h-1.0zM202.4 338.1h1.0v1.0h-1.0zM219.6 343.5h1.0v1.0h-1.0zM227.7 340.0h1.0v1.0h-1.0zM201.7 338.2h1.0v1.0h-1.0zM190.7 340.9h1.0v1.0h-1.0zM190.6 341.6h1.0v1.0h-1.0zM194.5 346.4h1.0v1.0h-1.0zM195.0 333.1h1.0v1.0h-1.0zM220.0 338.6h1.0v1.0h-1.0zM209.1 334.8h1.0v1.0h-1.0zM199.2 345.5h1.0v1.0h-1.0zM190.1 344.4h1.0v1.0h-1.0zM199.1 339.7h1.0v1.0h-1.0zM190.6 344.5h1.0v1.0h-1.0zM192.6 344.5h1.0v1.0h-1.0zM203.8 335.7h1.0v1.0h-1.0zM192.8 345.7h1.0v1.0h-1.0zM204.8 340.8h1.0v1.0h-1.0zM205.1 344.8h1.0v1.0h-1.0zM216.8 338.9h1.0v1.0h-1.0zM218.4 342.0h1.0v1.0h-1.0zM194.2 344.3h1.0v1.0h-1.0zM199.1 336.6h1.0v1.0h-1.0zM191.0 339.0h1.0v1.0h-1.0zM197.3 334.1h1.0v1.0h-1.0zM200.3 343.5h1.0v1.0h-1.0zM205.1 345.2h1.0v1.0h-1.0zM192.5 331.9h1.0v1.0h-1.0zM192.2 346.2h1.0v1.0h-1.0zM219.2 339.2h1.0v1.0h-1.0zM192.1 342.8h1.0v1.0h-1.0zM197.1 346.2h1.0v1.0h-1.0zM191.1 340.7h1.0v1.0h-1.0zM203.5 346.9h1.0v1.0h-1.0zM197.5 340.8h1.0v1.0h-1.0zM214.3 344.6h1.0v1.0h-1.0zM196.9 345.8h1.0v1.0h-1.0zM202.3 336.1h1.0v1.0h-1.0zM200.6 340.6h1.0v1.0h-1.0zM197.3 339.6h1.0v1.0h-1.0zM211.0 333.8h1.0v1.0h-1.0zM215.6 334.4h1.0v1.0h-1.0zM205.7 341.6h1.0v1.0h-1.0zM221.0 342.7h1.0v1.0h-1.0zM202.0 338.3h1.0v1.0h-1.0zM199.3 344.2h1.0v1.0h-1.0zM209.0 333.4h1.0v1.0h-1.0zM209.7 345.0h1.0v1.0h-1.0zM192.4 344.5h1.0v1.0h-1.0zM194.4 344.7h1.0v1.0h-1.0zM211.9 340.5h1.0v1.0h-1.0zM193.5 341.0h1.0v1.0h-1.0zM195.0 336.8h1.0v1.0h-1.0zM199.8 344.5h1.0v1.0h-1.0zM204.8 335.9h1.0v1.0h-1.0zM207.4 344.2h1.0v1.0h-1.0zM206.3 335.7h1.0v1.0h-1.0zM224.5 343.6h1.0v1.0h-1.0zM194.8 344.6h1.0v1.0h-1.0zM191.2 332.0h1.0v1.0h-1.0zM198.0 333.9h1.0v1.0h-1.0zM201.8 333.2h1.0v1.0h-1.0zM191.4 338.4h1.0v1.0h-1.0zM203.8 339.6h1.0v1.0h-1.0zM200.1 332.1h1.0v1.0h-1.0zM201.2 335.1h1.0v1.0h-1.0zM208.3 341.1h1.0v1.0h-1.0zM200.3 347.6h1.0v1.0h-1.0zM195.3 333.4h1.0v1.0h-1.0zM196.9 334.3h1.0v1.0h-1.0z" fill="#111"/>
<path d="M186.2 348.8h1.0v1.0h-1.0zM183.3 350.1h1.0v1.0h-1.0zM166.4 352.7h1.0v1.0h-1.0zM169.2 353.3h1.0v1.0h-1.0zM156.9 347.8h1.0v1.0h-1.0zM167.7 349.9h1.0v1.0h-1.0zM180.3 350.6h1.0v1.0h-1.0zM185.5 351.8h1.0v1.0h-1.0zM185.1 348.4h1.0v1.0h-1.0zM177.8 350.0h1.0v1.0h-1.0zM186.1 352.3h1.0v1.0h-1.0zM164.4 348.4h1.0v1.0h-1.0zM179.8 350.4h1.0v1.0h-1.0zM168.2 351.5h1.0v1.0h-1.0zM162.0 349.5h1.0v1.0h-1.0zM160.1 350.2h1.0v1.0h-1.0zM177.7 347.2h1.0v1.0h-1.0zM160.3 347.2h1.0v1.0h-1.0zM165.0 353.5h1.0v1.0h-1.0zM178.2 349.5h1.0v1.0h-1.0zM156.4 348.0h1.0v1.0h-1.0zM170.8 354.7h1.0v1.0h-1.0zM190.1 349.7h1.0v1.0h-1.0zM172.3 347.4h1.0v1.0h-1.0zM183.2 349.8h1.0v1.0h-1.0zM160.0 347.0h1.0v1.0h-1.0zM175.0 348.8h1.0v1.0h-1.0zM168.4 347.9h1.0v1.0h-1.0zM181.9 350.6h1.0v1.0h-1.0zM191.6 353.6h1.0v1.0h-1.0zM168.4 349.0h1.0v1.0h-1.0zM189.6 351.0h1.0v1.0h-1.0zM172.4 348.6h1.0v1.0h-1.0zM156.4 347.9h1.0v1.0h-1.0zM166.0 349.8h1.0v1.0h-1.0zM171.7 349.2h1.0v1.0h-1.0zM165.6 350.1h1.0v1.0h-1.0zM169.7 348.3h1.0v1.0h-1.0zM157.8 351.6h1.0v1.0h-1.0zM157.7 351.7h1.0v1.0h-1.0zM164.7 350.8h1.0v1.0h-1.0zM181.2 349.0h1.0v1.0h-1.0zM186.2 347.8h1.0v1.0h-1.0zM177.1 347.0h1.0v1.0h-1.0zM171.5 349.9h1.0v1.0h-1.0zM164.0 348.4h1.0v1.0h-1.0zM191.7 352.7h1.0v1.0h-1.0zM156.9 349.2h1.0v1.0h-1.0zM156.1 350.4h1.0v1.0h-1.0zM191.0 347.2h1.0v1.0h-1.0zM186.5 349.6h1.0v1.0h-1.0zM183.7 351.1h1.0v1.0h-1.0zM185.8 348.0h1.0v1.0h-1.0zM174.6 349.0h1.0v1.0h-1.0zM190.5 353.1h1.0v1.0h-1.0zM156.1 353.8h1.0v1.0h-1.0zM159.0 351.9h1.0v1.0h-1.0zM157.5 349.0h1.0v1.0h-1.0zM168.1 348.8h1.0v1.0h-1.0zM169.7 349.2h1.0v1.0h-1.0zM188.2 348.0h1.0v1.0h-1.0zM176.3 347.8h1.0v1.0h-1.0zM161.3 352.0h1.0v1.0h-1.0zM173.6 347.0h1.0v1.0h-1.0zM187.6 353.2h1.0v1.0h-1.0zM182.0 347.3h1.0v1.0h-1.0zM186.9 353.2h1.0v1.0h-1.0zM177.8 349.4h1.0v1.0h-1.0zM191.8 347.3h1.0v1.0h-1.0zM189.0 348.2h1.0v1.0h-1.0zM191.2 347.7h1.0v1.0h-1.0zM169.3 347.3h1.0v1.0h-1.0zM190.6 349.9h1.0v1.0h-1.0zM156.5 349.8h1.0v1.0h-1.0zM178.9 350.7h1.0v1.0h-1.0zM178.1 347.5h1.0v1.0h-1.0zM161.2 351.7h1.0v1.0h-1.0zM191.0 349.4h1.0v1.0h-1.0zM163.1 347.2h1.0v1.0h-1.0zM182.9 350.5h1.0v1.0h-1.0zM171.2 350.0h1.0v1.0h-1.0zM184.5 352.7h1.0v1.0h-1.0zM165.8 348.4h1.0v1.0h-1.0zM178.5 349.7h1.0v1.0h-1.0zM165.0 353.8h1.0v1.0h-1.0zM157.0 349.6h1.0v1.0h-1.0zM177.7 348.5h1.0v1.0h-1.0zM190.7 348.0h1.0v1.0h-1.0zM160.5 348.6h1.0v1.0h-1.0zM177.3 349.6h1.0v1.0h-1.0zM168.9 348.0h1.0v1.0h-1.0zM181.3 348.1h1.0v1.0h-1.0zM158.5 349.2h1.0v1.0h-1.0zM191.1 350.3h1.0v1.0h-1.0zM185.7 351.3h1.0v1.0h-1.0zM183.2 351.1h1.0v1.0h-1.0zM178.7 350.3h1.0v1.0h-1.0zM161.5 353.0h1.0v1.0h-1.0zM172.5 349.3h1.0v1.0h-1.0zM187.9 351.1h1.0v1.0h-1.0zM160.0 347.4h1.0v1.0h-1.0zM156.9 348.2h1.0v1.0h-1.0zM167.8 347.7h1.0v1.0h-1.0zM182.4 349.2h1.0v1.0h-1.0zM168.2 352.4h1.0v1.0h-1.0zM174.5 347.0h1.0v1.0h-1.0zM179.9 350.1h1.0v1.0h-1.0zM178.8 348.9h1.0v1.0h-1.0zM180.8 347.5h1.0v1.0h-1.0zM187.8 348.3h1.0v1.0h-1.0zM167.6 352.9h1.0v1.0h-1.0zM190.5 351.5h1.0v1.0h-1.0zM165.8 353.9h1.0v1.0h-1.0zM169.0 349.4h1.0v1.0h-1.0zM188.7 348.2h1.0v1.0h-1.0zM172.3 351.3h1.0v1.0h-1.0zM180.3 348.0h1.0v1.0h-1.0zM175.2 349.6h1.0v1.0h-1.0zM172.3 350.1h1.0v1.0h-1.0zM166.3 347.1h1.0v1.0h-1.0zM176.0 350.0h1.0v1.0h-1.0zM179.9 347.4h1.0v1.0h-1.0zM189.7 347.6h1.0v1.0h-1.0zM163.7 349.6h1.0v1.0h-1.0zM183.2 347.5h1.0v1.0h-1.0zM156.9 349.2h1.0v1.0h-1.0zM159.7 348.9h1.0v1.0h-1.0zM174.2 349.7h1.0v1.0h-1.0zM179.4 354.3h1.0v1.0h-1.0zM157.3 352.7h1.0v1.0h-1.0zM169.4 354.3h1.0v1.0h-1.0zM187.6 347.8h1.0v1.0h-1.0zM190.2 350.1h1.0v1.0h-1.0zM183.7 351.8h1.0v1.0h-1.0zM164.2 350.2h1.0v1.0h-1.0zM159.9 347.7h1.0v1.0h-1.0zM162.9 351.7h1.0v1.0h-1.0zM187.5 347.8h1.0v1.0h-1.0zM167.0 350.6h1.0v1.0h-1.0zM157.8 353.0h1.0v1.0h-1.0zM180.9 355.3h1.0v1.0h-1.0zM157.6 348.2h1.0v1.0h-1.0zM191.9 348.6h1.0v1.0h-1.0zM182.1 349.1h1.0v1.0h-1.0z" fill="#111"/>
<path d="M161.8 293.8C162.4 292.8 164.1 292.1 166 291.6C167.9 291.1 170.5 291 173 291C175.5 291 179 291.1 181 291.4C183 291.7 184.5 291.9 185 292.8C185.5 293.7 184.8 295 184.2 297C183.6 299 182 302 181.2 305C180.4 308 179.9 311.7 179.6 315C179.3 318.3 179.1 322.3 179.6 325C180.1 327.7 181 329.3 182.5 331C184 332.7 187.2 333.7 188.5 335C189.8 336.3 190.4 337.2 190 339C189.6 340.8 187.8 343.9 186 346C184.2 348.1 180.8 350.6 179 351.8C177.2 353 176.6 353.4 175 353.2C173.4 353 171.6 352.2 169.5 350.8C167.4 349.4 164.2 346.6 162.5 344.5C160.8 342.4 159.5 340.2 159.6 338.5C159.7 336.8 161.5 335.4 163 334C164.5 332.6 167.5 331.7 168.6 330.2C169.7 328.7 169.5 327.5 169.6 325C169.7 322.5 169.6 318.3 169.2 315C168.8 311.7 168.3 307.9 167.2 305C166.1 302.1 163.5 299.4 162.6 297.5C161.7 295.6 161.2 294.8 161.8 293.8Z" fill="none" stroke="#111" stroke-width="3.2" stroke-linejoin="round"/>
<path d="M161.8 293.8C162.4 292.8 164.1 292.1 166 291.6C167.9 291.1 170.5 291 173 291C175.5 291 179 291.1 181 291.4C183 291.7 184.5 291.9 185 292.8C185.5 293.7 184.8 295 184.2 297C183.6 299 182 302 181.2 305C180.4 308 179.9 311.7 179.6 315C179.3 318.3 179.1 322.3 179.6 325C180.1 327.7 181 329.3 182.5 331C184 332.7 187.2 333.7 188.5 335C189.8 336.3 190.4 337.2 190 339C189.6 340.8 187.8 343.9 186 346C184.2 348.1 180.8 350.6 179 351.8C177.2 353 176.6 353.4 175 353.2C173.4 353 171.6 352.2 169.5 350.8C167.4 349.4 164.2 346.6 162.5 344.5C160.8 342.4 159.5 340.2 159.6 338.5C159.7 336.8 161.5 335.4 163 334C164.5 332.6 167.5 331.7 168.6 330.2C169.7 328.7 169.5 327.5 169.6 325C169.7 322.5 169.6 318.3 169.2 315C168.8 311.7 168.3 307.9 167.2 305C166.1 302.1 163.5 299.4 162.6 297.5C161.7 295.6 161.2 294.8 161.8 293.8Z" fill="#fff" stroke="#444" stroke-width="0.9"/>
<path d="M164.4 294.1C165.1 292.1 170 292.9 173 292.9C176.1 292.9 181.6 292.1 182.6 294.1C183.6 296.1 180.1 301.4 179.1 304.9C178 308.3 177.1 311.6 176.4 314.7C175.6 317.8 175.1 323.5 174.5 323.5C173.8 323.5 173.5 317.8 172.5 314.7C171.6 311.6 170.1 308.3 168.7 304.9C167.3 301.4 163.7 296.1 164.4 294.1Z" fill="#f7f7f7" stroke="#777" stroke-width="0.7"/>
<path d="M165.4 294.4C166.1 292.6 170.4 293.3 173.1 293.3C175.8 293.3 180.7 292.6 181.6 294.4C182.5 296.2 179.4 301.1 178.4 304.3C177.5 307.5 176.7 310.5 176.1 313.3C175.4 316.1 174.9 321.4 174.3 321.4C173.8 321.4 173.5 316.1 172.7 313.3C171.8 310.5 170.5 307.5 169.2 304.3C168 301.1 164.8 296.2 165.4 294.4Z" fill="#efefef" stroke="#777" stroke-width="0.7"/>
<path d="M165.5 297.5C165 294.4 165.9 294.1 167.3 293.1C168.6 292.2 171.4 291.9 173.5 291.9C175.6 291.9 178.4 292.2 179.7 293.1C181.1 294.1 182 294.4 181.5 297.5C181 300.6 178.2 307.5 176.9 311.8C175.5 316.1 174.6 323.5 173.5 323.5C172.4 323.5 171.5 316.1 170.1 311.8C168.8 307.5 166 300.6 165.5 297.5Z" fill="#e6e6e6" stroke="#707070" stroke-width="0.65"/>
<path d="M166.9 297.7C166.5 295.2 167.3 294.8 168.4 294C169.5 293.3 171.8 293 173.5 293C175.2 293 177.5 293.3 178.6 294C179.7 294.8 180.5 295.2 180.1 297.7C179.7 300.2 177.4 305.8 176.3 309.2C175.2 312.8 174.4 318.7 173.5 318.7C172.6 318.7 171.8 312.8 170.7 309.2C169.6 305.8 167.3 300.2 166.9 297.7Z" fill="#dadada" stroke="#666" stroke-width="0.65"/>
<path d="M168.3 297.9C168 295.9 168.6 295.6 169.4 294.9C170.3 294.3 172.1 294.1 173.5 294.1C174.9 294.1 176.7 294.3 177.6 294.9C178.4 295.6 179 295.9 178.7 297.9C178.4 299.9 176.7 304 175.8 306.7C174.9 309.4 174.3 313.9 173.5 313.9C172.7 313.9 172.1 309.4 171.2 306.7C170.3 304 168.6 299.9 168.3 297.9Z" fill="#d2d2d2" stroke="#606060" stroke-width="0.65"/>
<path d="M169.7 298C169.5 296.6 169.9 296.2 170.5 295.7C171.2 295.2 172.5 295 173.5 295C174.5 295 175.8 295.2 176.5 295.7C177.1 296.2 177.5 296.6 177.3 298C177.1 299.4 176 302.2 175.3 304.1C174.7 305.9 174.1 309 173.5 309C172.9 309 172.3 305.9 171.7 304.1C171 302.2 169.9 299.4 169.7 298Z" fill="#dcdcdc" stroke="#666" stroke-width="0.65"/>
<path d="M171.1 298C171 297.2 171.2 296.8 171.6 296.4C172 296.1 172.9 296 173.5 296C174.1 296 175 296.1 175.4 296.4C175.8 296.8 176 297.2 175.9 298C175.8 298.8 175.2 300.3 174.8 301.3C174.4 302.3 173.9 304 173.5 304C173.1 304 172.6 302.3 172.2 301.3C171.8 300.3 171.2 298.8 171.1 298Z" fill="#f2f2f2" stroke="#777" stroke-width="0.65"/>
<path d="M172.3 298C172.3 297.6 172.4 297.3 172.6 297.1C172.8 297 173.2 296.9 173.5 296.9C173.8 296.9 174.2 297 174.4 297.1C174.6 297.3 174.7 297.6 174.7 298C174.7 298.4 174.4 299 174.2 299.4C174 299.8 173.7 300.5 173.5 300.5C173.3 300.5 173 299.8 172.8 299.4C172.6 299 172.3 298.4 172.3 298Z" fill="#fff" stroke="#999" stroke-width="0.65"/>
<path d="M171 310C171.2 311.7 171.4 316.7 172 320C172.6 323.3 174.1 328.3 174.5 330" fill="none" stroke="#777" stroke-width="0.7"/>
<path d="M176.5 310C176.3 311.7 176.1 316.7 175.5 320C174.9 323.3 173.4 328.3 173 330" fill="none" stroke="#777" stroke-width="0.7"/>
<path d="M160.6 338.7C160.5 336.7 163.6 335.6 166 334.8C168.4 333.9 172.1 333.6 175 333.6C177.9 333.5 181.2 333.8 183.5 334.6C185.8 335.3 188.7 336.4 189 338.3C189.3 340.1 187.7 343.4 185.5 345.7C183.3 348 179.2 351.9 176 352C172.8 352.1 169.1 348.6 166.5 346.4C163.9 344.2 160.7 340.6 160.6 338.7Z" fill="#c4c4c4" stroke="#555" stroke-width="0.7"/>
<path d="M161.8 339C161.7 337.2 164.5 336.1 166.7 335.4C168.9 334.6 172.3 334.3 175 334.3C177.7 334.2 180.7 334.5 182.8 335.2C185 335.9 187.6 336.9 187.9 338.6C188.2 340.3 186.7 343.3 184.7 345.4C182.7 347.5 178.8 351.1 175.9 351.2C173 351.3 169.6 348.1 167.2 346.1C164.8 344 161.8 340.7 161.8 339Z" fill="#bbbbbb" stroke="#666" stroke-width="0.7"/>
<path d="M163.1 339.3C163 337.7 165.6 336.8 167.6 336.1C169.6 335.4 172.6 335.2 175 335.2C177.5 335.1 180.2 335.3 182.1 336C184 336.6 186.4 337.5 186.7 339C186.9 340.5 185.5 343.2 183.7 345.1C182 346.9 178.5 350.1 175.9 350.2C173.2 350.3 170.1 347.5 168 345.6C165.8 343.8 163.2 340.9 163.1 339.3Z" fill="#aaa" stroke="#555" stroke-width="0.7"/>
<path d="M165 339.8C164.9 338.5 167.1 337.7 168.8 337.1C170.4 336.5 173 336.3 175.1 336.3C177.1 336.3 179.4 336.4 181 337C182.6 337.5 184.6 338.2 184.9 339.5C185.1 340.8 183.9 343 182.4 344.6C180.9 346.2 178 348.8 175.8 348.9C173.5 349 170.9 346.6 169.1 345.1C167.3 343.6 165 341.1 165 339.8Z" fill="#888" stroke="#444" stroke-width="0.7"/>
<path d="M166.9 340.3C166.8 339.2 168.6 338.6 170 338.1C171.3 337.6 173.4 337.5 175.1 337.4C176.7 337.4 178.6 337.6 179.9 338C181.3 338.4 182.9 339 183.1 340C183.3 341.1 182.3 342.9 181.1 344.1C179.8 345.4 177.5 347.5 175.7 347.6C173.9 347.7 171.7 345.7 170.2 344.5C168.8 343.3 166.9 341.3 166.9 340.3Z" fill="#6a6a6a" stroke="#3a3a3a" stroke-width="0.7"/>
<path d="M168.8 340.7C168.7 339.9 170.1 339.4 171.2 339C172.2 338.6 173.8 338.5 175.1 338.5C176.4 338.5 177.8 338.6 178.9 338.9C179.9 339.3 181.1 339.7 181.3 340.5C181.4 341.3 180.7 342.7 179.7 343.7C178.8 344.7 176.9 346.4 175.6 346.4C174.2 346.4 172.5 345 171.4 344C170.2 343.1 168.8 341.5 168.8 340.7Z" fill="#555" stroke="#333" stroke-width="0.7"/>
<path d="M170.7 341.1C170.6 340.5 171.6 340.2 172.3 339.9C173.1 339.7 174.2 339.6 175.1 339.6C176 339.6 177 339.6 177.8 339.9C178.5 340.1 179.4 340.4 179.5 341C179.6 341.6 179.1 342.6 178.4 343.3C177.7 344 176.4 345.2 175.4 345.2C174.5 345.2 173.3 344.2 172.5 343.5C171.7 342.8 170.7 341.7 170.7 341.1Z" fill="#474747" stroke="#2a2a2a" stroke-width="0.7"/>
<path d="M172.6 341.6C172.6 341.2 173.1 341 173.5 340.8C174 340.7 174.6 340.6 175.2 340.6C175.7 340.6 176.3 340.7 176.7 340.8C177.1 340.9 177.6 341.1 177.7 341.5C177.7 341.8 177.4 342.4 177.1 342.8C176.7 343.3 175.9 344 175.3 344C174.8 344 174.1 343.4 173.6 343C173.2 342.6 172.6 341.9 172.6 341.6Z" fill="#5a5a5a" stroke="#333" stroke-width="0.7"/>
<line x1="192.5" y1="257.6" x2="192.5" y2="282" stroke="#444" stroke-width="1.1"/>
<line x1="192.5" y1="349" x2="192.5" y2="378" stroke="#444" stroke-width="1.1"/>
<line x1="215" y1="334" x2="273.2" y2="334" stroke="#444" stroke-width="1.1"/>
<text x="63" y="256.5" font-size="13.4" textLength="42.5" lengthAdjust="spacingAndGlyphs">DMSO</text>
<text x="179.2" y="256" font-size="13.2" textLength="66.3" lengthAdjust="spacingAndGlyphs">TG101348</text>
<text x="28" y="272.1" font-size="13.4" textLength="27.3" lengthAdjust="spacingAndGlyphs">38.8</text>
<text x="120.3" y="271.9" font-size="13.2" textLength="18.8" lengthAdjust="spacingAndGlyphs">0.9</text>
<text x="120.4" y="375.9" font-size="13.4" textLength="19.6" lengthAdjust="spacingAndGlyphs">1.6</text>
<text x="153.4" y="271.9" font-size="13.2" textLength="28.5" lengthAdjust="spacingAndGlyphs">20.8</text>
<text x="248.6" y="271.9" font-size="14.2" textLength="20.5" lengthAdjust="spacingAndGlyphs">0.2</text>
<text x="248.7" y="376" font-size="14.2" textLength="20.2" lengthAdjust="spacingAndGlyphs">0.6</text>
<line x1="18.6" y1="383.6" x2="18.6" y2="315.5" stroke="#161616" stroke-width="1.3"/>
<path d="M18.6 310.2 L15.9 316.5 L21.3 316.5Z" fill="#161616"/>
<line x1="18" y1="383.6" x2="79.5" y2="383.6" stroke="#161616" stroke-width="1.3"/>
<path d="M85 383.6 L78.6 380.9 L78.6 386.3Z" fill="#161616"/>
<text x="13.6" y="346.6" font-size="13.4" text-anchor="middle" transform="rotate(-90 13.6 346.6)" textLength="75" lengthAdjust="spacingAndGlyphs">IFN-gamma</text>
<text x="18" y="396.1" font-size="13.8" textLength="32" lengthAdjust="spacingAndGlyphs">IL-17</text>
</svg></body></html>
